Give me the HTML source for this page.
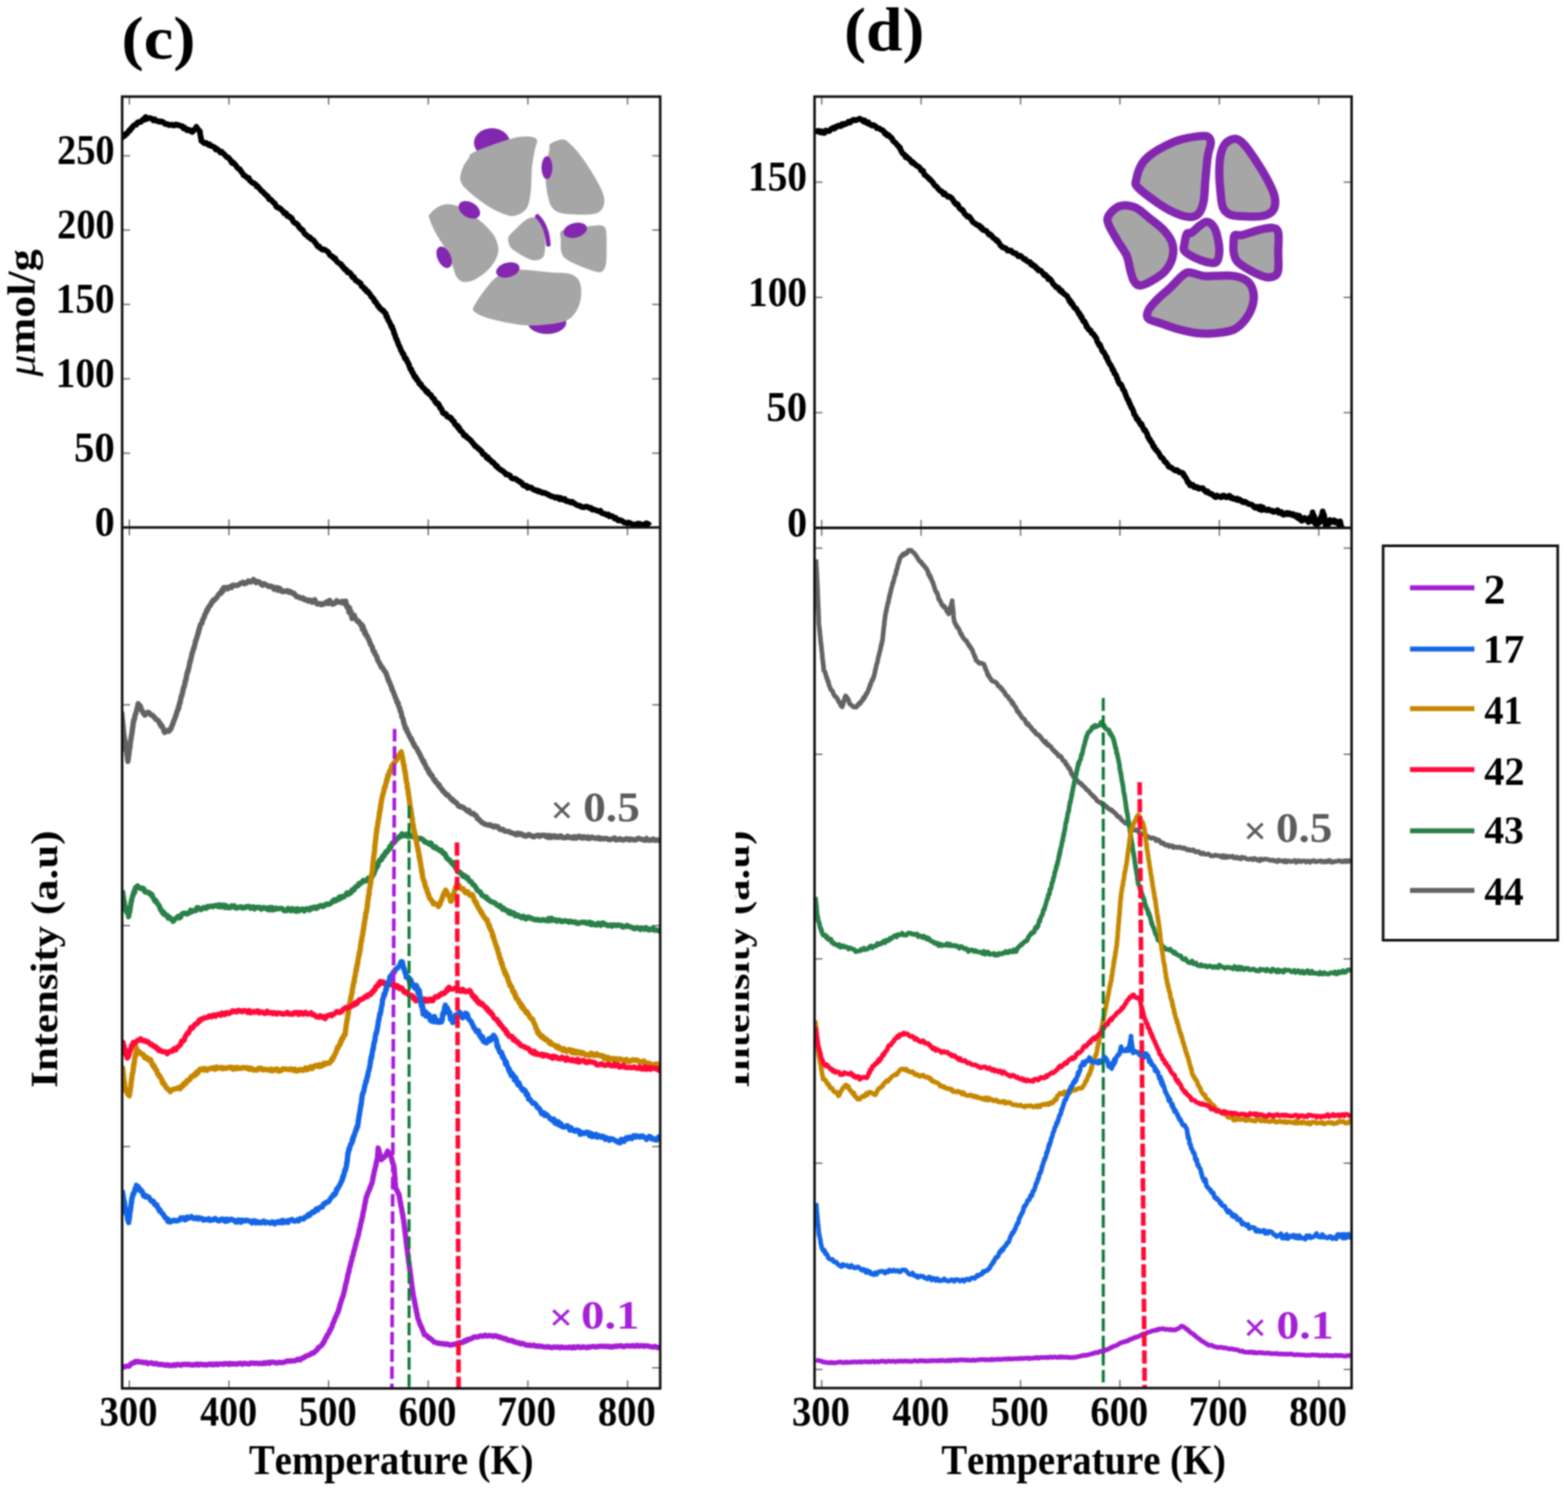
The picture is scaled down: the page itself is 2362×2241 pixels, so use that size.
<!DOCTYPE html><html><head><meta charset="utf-8"><title>TPD</title><style>html,body{margin:0;padding:0;background:#fff;}svg text{font-family:"Liberation Serif",serif;font-kerning:none;}</style></head><body><svg width="2362" height="2241" viewBox="0 0 2362 2241" style="display:block;filter:blur(0.9px)">
<defs>
<clipPath id="clipCtop"><rect x="184" y="145.5" width="810.5" height="648.8"/></clipPath>
<clipPath id="clipCbot"><rect x="184" y="794.3" width="810.5" height="1296.7"/></clipPath>
<clipPath id="clipDtop"><rect x="1227" y="145.5" width="809" height="649.5"/></clipPath>
<clipPath id="clipDbot"><rect x="1227" y="795" width="809" height="1295.5"/></clipPath>
<clipPath id="clipDlab"><rect x="1108" y="1200" width="52" height="500"/></clipPath>
</defs>
<rect width="2362" height="2241" fill="#fff"/>
<ellipse cx="741" cy="215" rx="27" ry="22" fill="#8327b0"/>
<ellipse cx="824" cy="486" rx="29" ry="17" fill="#8327b0"/>
<path d="M714.3,228.9 C724.3,224.2 752.8,213.8 765.9,209.9 C779.0,206.0 786.0,205.4 793.1,205.4 C800.2,205.4 806.4,206.6 808.5,209.9 C810.6,213.2 807.0,218.2 805.8,225.3 C804.6,232.4 802.3,241.9 801.3,252.5 C800.2,263.1 800.9,278.5 799.5,288.8 C798.1,299.1 797.2,308.1 793.1,314.1 C789.0,320.1 781.0,323.8 775.0,325.0 C769.0,326.2 764.4,324.4 756.9,321.4 C749.4,318.4 738.8,312.9 729.7,306.9 C720.6,300.8 708.5,291.2 702.5,285.1 C696.5,279.1 694.3,276.0 693.4,270.6 C692.5,265.2 695.0,257.9 697.1,252.5 C699.2,247.1 703.2,241.9 706.1,238.0 C709.0,234.1 704.3,233.6 714.3,228.9Z" fill="#a6a6a6"/>
<path d="M829.4,216.3 C832.7,213.7 842.7,209.9 847.5,209.9 C852.3,209.9 853.9,212.2 858.4,216.3 C862.9,220.4 869.0,226.8 874.7,234.4 C880.4,242.0 887.4,252.5 892.8,261.6 C898.2,270.7 904.4,281.2 907.3,288.8 C910.2,296.4 910.9,301.8 910.0,306.9 C909.1,312.0 906.3,316.9 901.9,319.6 C897.5,322.3 892.9,322.9 883.8,323.2 C874.7,323.5 856.0,322.9 847.5,321.4 C839.0,319.9 836.6,318.0 833.0,314.1 C829.4,310.2 827.6,305.1 825.8,297.8 C824.0,290.6 822.4,279.7 822.1,270.6 C821.8,261.5 823.0,251.0 823.9,243.4 C824.8,235.8 826.7,229.8 827.6,225.3 C828.5,220.8 826.1,218.9 829.4,216.3Z" fill="#a6a6a6"/>
<path d="M648.1,321.4 C651.3,317.8 659.3,310.5 666.3,308.7 C673.2,306.9 680.8,306.9 689.8,310.5 C698.8,314.1 711.8,323.4 720.6,330.4 C729.4,337.3 737.4,345.2 742.4,352.2 C747.4,359.1 749.6,366.1 750.5,372.1 C751.4,378.1 750.4,382.6 747.8,388.4 C745.2,394.1 740.5,401.2 735.1,406.6 C729.7,412.1 721.2,418.1 715.2,421.1 C709.2,424.1 703.4,425.3 698.9,424.7 C694.4,424.1 690.7,421.0 688.0,417.4 C685.3,413.8 685.0,409.3 682.6,403.0 C680.2,396.7 677.7,387.9 673.5,379.4 C669.3,370.9 661.6,360.4 657.2,352.2 C652.8,344.0 648.7,335.5 647.2,330.4 C645.7,325.3 644.9,325.0 648.1,321.4Z" fill="#a6a6a6"/>
<path d="M775.0,346.8 C779.5,342.3 787.7,333.6 793.1,330.4 C798.5,327.2 803.7,326.8 807.6,327.7 C811.5,328.6 814.6,331.8 816.7,335.9 C818.8,340.0 819.5,346.5 820.3,352.2 C821.0,357.9 821.5,364.6 821.2,370.3 C820.9,376.0 820.8,383.0 818.5,386.6 C816.2,390.2 811.8,391.8 807.6,392.1 C803.4,392.4 798.5,390.8 793.1,388.4 C787.7,386.0 779.2,380.6 775.0,377.6 C770.8,374.6 769.3,373.6 767.8,370.3 C766.3,367.0 764.7,361.5 765.9,357.6 C767.1,353.7 770.5,351.3 775.0,346.8Z" fill="#a6a6a6"/>
<path d="M847.5,346.8 C854.0,343.5 874.1,342.5 883.8,341.3 C893.5,340.1 900.7,338.6 905.5,339.5 C910.3,340.4 911.4,341.7 912.8,346.8 C914.2,351.9 913.7,361.9 913.7,370.3 C913.7,378.8 913.9,391.1 912.8,397.5 C911.7,403.9 909.7,406.4 907.3,408.4 C904.9,410.4 903.7,410.5 898.3,409.3 C892.9,408.1 882.2,404.3 874.7,401.1 C867.2,397.9 857.8,393.9 853.0,390.3 C848.2,386.7 847.1,384.2 845.7,379.4 C844.3,374.6 844.5,366.7 844.8,361.3 C845.1,355.9 841.0,350.1 847.5,346.8Z" fill="#a6a6a6"/>
<path d="M715.2,459.1 C717.9,454.0 724.3,444.3 729.7,437.4 C735.1,430.4 740.8,422.5 747.8,417.4 C754.8,412.3 763.8,408.4 771.4,406.6 C779.0,404.8 783.4,406.0 793.1,406.6 C802.8,407.2 818.8,409.3 829.4,410.2 C840.0,411.1 849.6,410.2 856.6,412.0 C863.6,413.8 867.9,416.6 871.1,421.1 C874.3,425.6 875.6,432.2 875.6,439.2 C875.6,446.1 874.3,455.9 871.1,462.8 C867.9,469.8 863.6,476.7 856.6,480.9 C849.6,485.1 840.0,486.6 829.4,488.1 C818.8,489.6 805.2,490.6 793.1,490.0 C781.0,489.4 767.5,486.6 756.9,484.5 C746.3,482.4 737.0,480.0 729.7,477.3 C722.5,474.6 715.8,471.2 713.4,468.2 C711.0,465.2 712.5,464.2 715.2,459.1Z" fill="#a6a6a6"/>
<ellipse cx="823.9" cy="252.5" rx="8.2" ry="17.2" fill="#8327b0"/>
<ellipse cx="707" cy="316" rx="17.5" ry="11.5" fill="#8327b0" transform="rotate(30 707 316)"/>
<ellipse cx="669" cy="387.5" rx="10" ry="17.2" fill="#8327b0" transform="rotate(-25 669 387.5)"/>
<path d="M809.5,326 Q824,340 826,368" fill="none" stroke="#8327b0" stroke-width="7" stroke-linecap="round"/>
<ellipse cx="866.5" cy="346.8" rx="18" ry="11" fill="#8327b0" transform="rotate(-15 866.5 346.8)"/>
<ellipse cx="765" cy="406.6" rx="18" ry="11" fill="#8327b0" transform="rotate(-15 765 406.6)"/>
<path d="M1711.6,270.6 C1712.5,265.2 1715.6,254.9 1718.9,248.9 C1722.2,242.9 1726.2,238.9 1731.6,234.4 C1737.0,229.9 1744.0,225.6 1751.5,221.7 C1759.0,217.8 1768.1,213.5 1776.9,210.8 C1785.7,208.1 1797.1,206.3 1804.1,205.4 C1811.0,204.5 1815.3,203.9 1818.6,205.4 C1821.9,206.9 1823.8,209.6 1824.0,214.4 C1824.2,219.2 1820.9,225.0 1819.5,234.4 C1818.1,243.8 1816.9,259.1 1815.8,270.6 C1814.7,282.1 1814.8,294.8 1813.1,303.3 C1811.4,311.8 1809.5,317.5 1805.9,321.4 C1802.3,325.3 1797.8,327.1 1791.4,326.8 C1785.1,326.5 1776.3,323.5 1767.8,319.6 C1759.3,315.7 1749.7,309.7 1740.6,303.3 C1731.5,296.9 1718.2,286.9 1713.4,281.5 C1708.6,276.1 1710.7,276.0 1711.6,270.6Z" fill="#a6a6a6" stroke="#8327b0" stroke-width="12.5" stroke-linejoin="round"/>
<path d="M1838.5,234.4 C1840.0,226.8 1842.2,220.5 1845.8,216.3 C1849.4,212.1 1855.8,209.0 1860.3,209.0 C1864.8,209.0 1868.2,211.5 1873.0,216.3 C1877.8,221.1 1883.3,228.9 1889.3,238.0 C1895.3,247.1 1904.1,260.9 1909.2,270.6 C1914.3,280.3 1918.6,288.4 1920.1,296.0 C1921.6,303.6 1921.0,311.1 1918.3,315.9 C1915.6,320.7 1910.8,323.3 1903.8,325.0 C1896.8,326.7 1885.1,326.2 1876.6,325.9 C1868.1,325.6 1858.8,325.5 1853.0,323.2 C1847.2,320.9 1844.5,318.0 1842.1,312.3 C1839.7,306.6 1839.4,297.2 1838.5,288.8 C1837.6,280.4 1836.7,270.7 1836.7,261.6 C1836.7,252.5 1837.0,242.0 1838.5,234.4Z" fill="#a6a6a6" stroke="#8327b0" stroke-width="12.5" stroke-linejoin="round"/>
<path d="M1669.9,325.0 C1672.6,320.5 1679.7,312.6 1686.3,310.5 C1692.9,308.4 1702.2,309.3 1709.8,312.3 C1717.3,315.3 1724.3,322.9 1731.6,328.6 C1738.8,334.4 1747.6,340.5 1753.3,346.8 C1759.0,353.1 1763.9,359.8 1766.0,366.7 C1768.1,373.6 1767.8,381.4 1766.0,388.4 C1764.2,395.3 1760.2,402.6 1755.1,408.4 C1750.0,414.1 1741.5,419.3 1735.2,422.9 C1728.9,426.5 1721.6,430.1 1717.1,430.1 C1712.6,430.1 1710.4,426.8 1708.0,422.9 C1705.6,419.0 1704.4,413.0 1702.6,406.6 C1700.8,400.2 1700.4,392.4 1697.1,384.8 C1693.8,377.2 1687.1,369.2 1682.6,361.3 C1678.1,353.4 1672.0,343.8 1669.9,337.7 C1667.8,331.6 1667.2,329.5 1669.9,325.0Z" fill="#a6a6a6" stroke="#8327b0" stroke-width="12.5" stroke-linejoin="round"/>
<path d="M1784.1,368.5 C1784.7,364.3 1786.0,355.2 1787.8,352.2 C1789.6,349.2 1791.7,352.5 1795.0,350.4 C1798.3,348.3 1803.8,342.2 1807.7,339.5 C1811.6,336.8 1815.0,333.5 1818.6,334.1 C1822.2,334.7 1826.7,338.6 1829.4,343.1 C1832.1,347.6 1833.7,355.2 1834.9,361.3 C1836.1,367.4 1837.0,374.0 1836.7,379.4 C1836.4,384.8 1835.5,391.2 1833.1,393.9 C1830.7,396.6 1827.7,396.6 1822.2,395.7 C1816.8,394.8 1806.8,391.4 1800.4,388.4 C1794.1,385.4 1786.8,380.9 1784.1,377.6 C1781.4,374.3 1783.5,372.7 1784.1,368.5Z" fill="#a6a6a6" stroke="#8327b0" stroke-width="12.5" stroke-linejoin="round"/>
<path d="M1858.4,361.3 C1858.7,357.1 1858.2,355.2 1860.3,354.0 C1862.4,352.8 1865.4,355.2 1871.1,354.0 C1876.8,352.8 1887.1,348.6 1894.7,346.8 C1902.3,345.0 1911.4,342.5 1916.5,343.1 C1921.6,343.7 1924.0,344.3 1925.5,350.4 C1927.0,356.4 1925.5,370.0 1925.5,379.4 C1925.5,388.8 1926.4,400.6 1925.5,406.6 C1924.6,412.6 1923.1,413.8 1920.1,415.6 C1917.1,417.4 1913.2,418.6 1907.4,417.4 C1901.7,416.2 1892.8,412.3 1885.6,408.4 C1878.3,404.5 1868.4,398.7 1863.9,393.9 C1859.4,389.1 1859.3,384.8 1858.4,379.4 C1857.5,374.0 1858.1,365.5 1858.4,361.3Z" fill="#a6a6a6" stroke="#8327b0" stroke-width="12.5" stroke-linejoin="round"/>
<path d="M1730.0,467.0 C1732.4,462.0 1738.9,455.5 1744.3,450.0 C1749.7,444.5 1756.4,439.5 1762.4,433.8 C1768.4,428.1 1775.7,419.5 1780.5,415.6 C1785.3,411.7 1786.0,410.2 1791.4,410.2 C1796.8,410.2 1806.4,414.7 1813.1,415.6 C1819.8,416.5 1823.8,415.6 1831.3,415.6 C1838.8,415.6 1850.6,414.4 1858.4,415.6 C1866.2,416.8 1873.6,419.3 1878.4,422.9 C1883.2,426.5 1885.9,431.5 1887.4,437.4 C1888.9,443.2 1889.2,450.8 1887.4,458.0 C1885.6,465.2 1881.4,474.1 1876.6,480.5 C1871.8,486.9 1866.0,492.9 1858.4,496.5 C1850.9,500.1 1840.3,500.9 1831.3,501.8 C1822.2,502.7 1813.2,502.7 1804.1,501.8 C1795.0,500.9 1786.0,498.7 1776.9,496.3 C1767.8,493.9 1757.5,490.0 1749.7,487.3 C1741.9,484.6 1733.3,483.4 1730.0,480.0 C1726.7,476.6 1727.6,472.0 1730.0,467.0Z" fill="#a6a6a6" stroke="#8327b0" stroke-width="12.5" stroke-linejoin="round"/>
<line x1="194.8" y1="145.5" x2="194.8" y2="157.5" stroke="#6a6a6a" stroke-width="2" />
<line x1="194.8" y1="782.3" x2="194.8" y2="806.3" stroke="#6a6a6a" stroke-width="2" />
<line x1="194.8" y1="2079.0" x2="194.8" y2="2091.0" stroke="#6a6a6a" stroke-width="2" />
<line x1="344.9" y1="145.5" x2="344.9" y2="157.5" stroke="#6a6a6a" stroke-width="2" />
<line x1="344.9" y1="782.3" x2="344.9" y2="806.3" stroke="#6a6a6a" stroke-width="2" />
<line x1="344.9" y1="2079.0" x2="344.9" y2="2091.0" stroke="#6a6a6a" stroke-width="2" />
<line x1="495.0" y1="145.5" x2="495.0" y2="157.5" stroke="#6a6a6a" stroke-width="2" />
<line x1="495.0" y1="782.3" x2="495.0" y2="806.3" stroke="#6a6a6a" stroke-width="2" />
<line x1="495.0" y1="2079.0" x2="495.0" y2="2091.0" stroke="#6a6a6a" stroke-width="2" />
<line x1="645.1" y1="145.5" x2="645.1" y2="157.5" stroke="#6a6a6a" stroke-width="2" />
<line x1="645.1" y1="782.3" x2="645.1" y2="806.3" stroke="#6a6a6a" stroke-width="2" />
<line x1="645.1" y1="2079.0" x2="645.1" y2="2091.0" stroke="#6a6a6a" stroke-width="2" />
<line x1="795.2" y1="145.5" x2="795.2" y2="157.5" stroke="#6a6a6a" stroke-width="2" />
<line x1="795.2" y1="782.3" x2="795.2" y2="806.3" stroke="#6a6a6a" stroke-width="2" />
<line x1="795.2" y1="2079.0" x2="795.2" y2="2091.0" stroke="#6a6a6a" stroke-width="2" />
<line x1="945.3" y1="145.5" x2="945.3" y2="157.5" stroke="#6a6a6a" stroke-width="2" />
<line x1="945.3" y1="782.3" x2="945.3" y2="806.3" stroke="#6a6a6a" stroke-width="2" />
<line x1="945.3" y1="2079.0" x2="945.3" y2="2091.0" stroke="#6a6a6a" stroke-width="2" />
<line x1="184.0" y1="234.6" x2="196.0" y2="234.6" stroke="#6a6a6a" stroke-width="2" />
<line x1="982.5" y1="234.6" x2="994.5" y2="234.6" stroke="#6a6a6a" stroke-width="2" />
<line x1="184.0" y1="346.5" x2="196.0" y2="346.5" stroke="#6a6a6a" stroke-width="2" />
<line x1="982.5" y1="346.5" x2="994.5" y2="346.5" stroke="#6a6a6a" stroke-width="2" />
<line x1="184.0" y1="458.5" x2="196.0" y2="458.5" stroke="#6a6a6a" stroke-width="2" />
<line x1="982.5" y1="458.5" x2="994.5" y2="458.5" stroke="#6a6a6a" stroke-width="2" />
<line x1="184.0" y1="570.5" x2="196.0" y2="570.5" stroke="#6a6a6a" stroke-width="2" />
<line x1="982.5" y1="570.5" x2="994.5" y2="570.5" stroke="#6a6a6a" stroke-width="2" />
<line x1="184.0" y1="682.5" x2="196.0" y2="682.5" stroke="#6a6a6a" stroke-width="2" />
<line x1="982.5" y1="682.5" x2="994.5" y2="682.5" stroke="#6a6a6a" stroke-width="2" />
<line x1="184.0" y1="1061.5" x2="196.0" y2="1061.5" stroke="#6a6a6a" stroke-width="2" />
<line x1="982.5" y1="1061.5" x2="994.5" y2="1061.5" stroke="#6a6a6a" stroke-width="2" />
<line x1="184.0" y1="1394.0" x2="196.0" y2="1394.0" stroke="#6a6a6a" stroke-width="2" />
<line x1="982.5" y1="1394.0" x2="994.5" y2="1394.0" stroke="#6a6a6a" stroke-width="2" />
<line x1="184.0" y1="1726.8" x2="196.0" y2="1726.8" stroke="#6a6a6a" stroke-width="2" />
<line x1="982.5" y1="1726.8" x2="994.5" y2="1726.8" stroke="#6a6a6a" stroke-width="2" />
<line x1="184.0" y1="2060.0" x2="196.0" y2="2060.0" stroke="#6a6a6a" stroke-width="2" />
<line x1="982.5" y1="2060.0" x2="994.5" y2="2060.0" stroke="#6a6a6a" stroke-width="2" />
<line x1="1237.8" y1="145.5" x2="1237.8" y2="157.5" stroke="#6a6a6a" stroke-width="2" />
<line x1="1237.8" y1="783.0" x2="1237.8" y2="807.0" stroke="#6a6a6a" stroke-width="2" />
<line x1="1237.8" y1="2078.5" x2="1237.8" y2="2090.5" stroke="#6a6a6a" stroke-width="2" />
<line x1="1387.5" y1="145.5" x2="1387.5" y2="157.5" stroke="#6a6a6a" stroke-width="2" />
<line x1="1387.5" y1="783.0" x2="1387.5" y2="807.0" stroke="#6a6a6a" stroke-width="2" />
<line x1="1387.5" y1="2078.5" x2="1387.5" y2="2090.5" stroke="#6a6a6a" stroke-width="2" />
<line x1="1537.3" y1="145.5" x2="1537.3" y2="157.5" stroke="#6a6a6a" stroke-width="2" />
<line x1="1537.3" y1="783.0" x2="1537.3" y2="807.0" stroke="#6a6a6a" stroke-width="2" />
<line x1="1537.3" y1="2078.5" x2="1537.3" y2="2090.5" stroke="#6a6a6a" stroke-width="2" />
<line x1="1687.0" y1="145.5" x2="1687.0" y2="157.5" stroke="#6a6a6a" stroke-width="2" />
<line x1="1687.0" y1="783.0" x2="1687.0" y2="807.0" stroke="#6a6a6a" stroke-width="2" />
<line x1="1687.0" y1="2078.5" x2="1687.0" y2="2090.5" stroke="#6a6a6a" stroke-width="2" />
<line x1="1836.8" y1="145.5" x2="1836.8" y2="157.5" stroke="#6a6a6a" stroke-width="2" />
<line x1="1836.8" y1="783.0" x2="1836.8" y2="807.0" stroke="#6a6a6a" stroke-width="2" />
<line x1="1836.8" y1="2078.5" x2="1836.8" y2="2090.5" stroke="#6a6a6a" stroke-width="2" />
<line x1="1986.5" y1="145.5" x2="1986.5" y2="157.5" stroke="#6a6a6a" stroke-width="2" />
<line x1="1986.5" y1="783.0" x2="1986.5" y2="807.0" stroke="#6a6a6a" stroke-width="2" />
<line x1="1986.5" y1="2078.5" x2="1986.5" y2="2090.5" stroke="#6a6a6a" stroke-width="2" />
<line x1="1227.0" y1="274.3" x2="1239.0" y2="274.3" stroke="#6a6a6a" stroke-width="2" />
<line x1="2024.0" y1="274.3" x2="2036.0" y2="274.3" stroke="#6a6a6a" stroke-width="2" />
<line x1="1227.0" y1="447.9" x2="1239.0" y2="447.9" stroke="#6a6a6a" stroke-width="2" />
<line x1="2024.0" y1="447.9" x2="2036.0" y2="447.9" stroke="#6a6a6a" stroke-width="2" />
<line x1="1227.0" y1="621.5" x2="1239.0" y2="621.5" stroke="#6a6a6a" stroke-width="2" />
<line x1="2024.0" y1="621.5" x2="2036.0" y2="621.5" stroke="#6a6a6a" stroke-width="2" />
<line x1="1227.0" y1="825.5" x2="1239.0" y2="825.5" stroke="#6a6a6a" stroke-width="2" />
<line x1="2024.0" y1="825.5" x2="2036.0" y2="825.5" stroke="#6a6a6a" stroke-width="2" />
<line x1="1227.0" y1="1136.0" x2="1239.0" y2="1136.0" stroke="#6a6a6a" stroke-width="2" />
<line x1="2024.0" y1="1136.0" x2="2036.0" y2="1136.0" stroke="#6a6a6a" stroke-width="2" />
<line x1="1227.0" y1="1444.2" x2="1239.0" y2="1444.2" stroke="#6a6a6a" stroke-width="2" />
<line x1="2024.0" y1="1444.2" x2="2036.0" y2="1444.2" stroke="#6a6a6a" stroke-width="2" />
<line x1="1227.0" y1="1751.8" x2="1239.0" y2="1751.8" stroke="#6a6a6a" stroke-width="2" />
<line x1="2024.0" y1="1751.8" x2="2036.0" y2="1751.8" stroke="#6a6a6a" stroke-width="2" />
<line x1="1227.0" y1="2062.5" x2="1239.0" y2="2062.5" stroke="#6a6a6a" stroke-width="2" />
<line x1="2024.0" y1="2062.5" x2="2036.0" y2="2062.5" stroke="#6a6a6a" stroke-width="2" />
<path d="M183.2,208.4 L184.8,206.4 L186.4,204.4 L187.9,204.6 L189.5,201.4 L191.1,201.4 L192.7,199.5 L194.2,196.8 L195.8,196.6 L197.3,193.4 L198.8,193.0 L200.3,190.2 L201.9,188.6 L203.4,188.0 L205.2,188.1 L206.9,184.6 L208.7,183.8 L210.5,183.9 L212.2,183.7 L214.0,181.4 L215.8,179.6 L217.5,180.3 L219.3,176.1 L221.3,179.2 L223.2,177.8 L225.2,177.8 L227.2,178.2 L229.2,179.3 L231.1,181.4 L233.1,179.8 L235.0,181.7 L237.0,182.6 L238.9,182.4 L240.8,183.6 L242.8,182.8 L244.7,183.4 L246.7,184.6 L248.6,186.8 L250.5,186.6 L252.5,186.9 L254.4,188.5 L256.5,188.1 L258.6,187.6 L260.8,189.1 L262.9,188.8 L265.0,187.4 L267.1,188.4 L269.3,188.3 L271.4,189.4 L273.1,190.2 L274.8,190.1 L276.5,193.6 L278.2,192.1 L279.9,194.3 L281.8,196.2 L283.7,195.0 L285.6,196.8 L287.5,196.2 L289.4,198.9 L291.0,197.5 L292.6,195.1 L294.2,194.4 L295.8,190.8 L297.1,193.6 L298.5,194.9 L299.8,196.5 L301.1,197.7 L301.5,201.2 L301.8,203.8 L302.1,204.6 L302.5,207.5 L302.9,207.9 L303.2,212.2 L305.0,213.1 L306.9,215.3 L308.7,215.8 L310.5,215.1 L312.3,216.5 L314.2,218.5 L316.0,217.5 L317.8,219.9 L319.6,220.1 L321.4,221.0 L323.2,221.9 L325.0,225.2 L326.8,224.2 L328.5,225.7 L330.3,227.2 L332.1,229.8 L333.9,228.4 L335.7,230.6 L337.5,232.0 L339.3,234.1 L340.8,235.5 L342.3,237.2 L343.8,237.0 L345.3,239.0 L346.8,240.4 L348.2,243.7 L349.7,245.5 L351.2,244.5 L352.7,246.2 L354.2,247.9 L355.6,249.5 L357.0,251.8 L358.5,253.7 L359.9,254.2 L361.3,254.9 L362.7,257.7 L364.2,259.1 L365.6,261.3 L367.0,264.0 L368.5,264.6 L370.1,265.4 L371.6,267.0 L373.2,268.6 L374.7,267.9 L376.3,272.0 L377.8,273.0 L379.4,274.6 L380.9,275.7 L382.5,275.8 L384.0,277.2 L385.4,277.8 L386.8,281.0 L388.2,280.7 L389.6,282.2 L391.1,284.2 L392.5,285.6 L393.9,287.7 L395.3,288.3 L396.7,289.7 L398.4,291.7 L400.1,293.0 L401.8,295.3 L403.5,295.7 L405.2,299.9 L406.7,300.6 L408.2,300.6 L409.7,302.4 L411.2,304.2 L412.6,305.7 L414.1,306.4 L415.6,310.2 L417.1,312.2 L418.6,312.0 L420.1,313.5 L421.7,313.6 L423.3,315.0 L424.9,317.1 L426.5,318.1 L428.1,321.3 L429.6,320.5 L431.2,321.3 L432.8,325.6 L434.4,325.6 L436.0,325.7 L437.6,328.3 L439.2,328.0 L440.6,331.1 L442.0,334.0 L443.4,335.2 L444.9,336.2 L446.3,336.3 L447.7,338.1 L449.1,339.0 L450.5,342.4 L451.9,343.2 L453.4,345.5 L454.8,345.5 L456.2,346.7 L457.7,350.1 L459.2,352.2 L460.7,353.3 L462.3,354.6 L463.8,356.2 L465.3,357.5 L466.8,357.3 L468.3,359.8 L469.8,360.8 L471.3,361.2 L472.9,362.7 L474.4,365.1 L475.9,366.5 L477.4,369.4 L479.1,371.4 L480.8,371.0 L482.5,373.7 L484.2,375.0 L485.9,376.1 L487.6,375.4 L489.3,376.1 L491.0,377.3 L492.7,378.4 L494.4,379.6 L495.9,382.3 L497.4,384.5 L498.9,385.7 L500.4,386.0 L501.9,387.9 L503.3,389.7 L504.8,388.8 L506.3,392.1 L507.8,394.2 L509.3,395.2 L510.7,396.5 L512.1,397.1 L513.5,397.5 L515.0,400.9 L516.4,400.9 L517.8,403.8 L519.2,405.7 L520.6,405.3 L522.0,406.8 L523.4,409.9 L524.8,410.6 L526.3,410.3 L527.7,411.6 L529.1,413.1 L530.5,416.9 L531.9,418.0 L533.3,417.3 L534.8,420.9 L536.2,422.8 L537.6,423.2 L539.0,423.6 L540.4,425.6 L541.9,425.7 L543.3,426.8 L544.7,431.2 L546.1,431.6 L547.5,432.6 L549.0,435.4 L550.4,435.2 L551.8,438.0 L553.0,439.5 L554.3,439.1 L555.5,440.9 L556.8,442.6 L558.0,444.1 L559.3,446.8 L560.5,447.4 L561.8,449.5 L563.0,450.2 L564.3,454.3 L565.5,454.2 L566.8,456.1 L568.0,458.2 L569.3,460.8 L570.5,460.9 L571.8,464.1 L573.0,464.4 L574.4,466.0 L575.8,467.5 L577.2,467.4 L578.6,470.2 L580.0,470.9 L581.0,472.2 L581.9,476.7 L582.9,476.6 L583.9,479.5 L584.8,482.3 L585.8,483.6 L586.7,484.8 L587.7,487.4 L588.7,489.4 L589.6,492.1 L590.6,491.8 L591.4,495.3 L592.1,496.2 L592.9,498.3 L593.6,501.9 L594.4,503.0 L595.1,505.1 L595.9,507.7 L596.7,510.2 L597.4,510.7 L598.2,513.2 L598.9,514.8 L599.7,516.8 L600.4,519.3 L601.2,520.5 L602.1,522.6 L603.0,524.3 L603.9,527.6 L604.9,528.6 L605.8,531.0 L606.7,533.0 L607.6,532.7 L608.5,535.5 L609.4,538.5 L610.3,540.0 L611.3,539.6 L612.2,541.3 L613.1,544.2 L614.0,544.8 L614.9,547.3 L615.9,548.6 L616.8,552.4 L617.8,554.7 L618.7,556.9 L619.7,556.4 L620.6,560.1 L621.6,561.8 L622.5,562.1 L623.7,566.2 L625.0,568.2 L626.2,567.6 L627.5,571.7 L628.7,571.7 L630.0,573.8 L631.2,577.2 L632.4,578.5 L633.7,578.1 L634.9,580.7 L636.2,582.8 L637.4,584.0 L639.0,585.1 L640.6,587.1 L642.2,590.0 L643.8,589.3 L645.3,592.6 L646.9,593.8 L648.5,594.1 L650.1,596.7 L651.4,599.2 L652.8,600.4 L654.1,600.6 L655.4,605.2 L656.7,606.1 L658.1,608.3 L659.4,607.1 L660.7,609.2 L661.8,610.3 L662.8,614.4 L663.9,614.6 L665.0,615.9 L666.0,618.6 L667.1,621.9 L668.7,622.9 L670.3,622.5 L671.9,623.5 L673.5,627.2 L675.1,627.5 L676.7,629.2 L678.3,628.6 L679.9,629.8 L681.2,633.4 L682.5,634.2 L683.9,634.6 L685.2,639.0 L686.5,639.6 L687.9,641.8 L689.2,641.1 L690.5,645.1 L691.9,644.4 L693.3,648.7 L694.8,649.2 L696.2,650.6 L697.6,653.0 L699.0,656.0 L700.5,655.3 L702.0,656.4 L703.4,659.1 L704.9,659.7 L706.4,660.8 L707.9,662.4 L709.4,663.5 L710.8,665.5 L712.3,667.3 L713.8,668.8 L715.3,671.7 L716.8,671.7 L718.3,673.9 L719.8,674.3 L721.2,676.4 L722.7,676.8 L724.2,679.0 L725.7,679.8 L727.2,683.6 L728.7,684.5 L730.2,684.7 L731.8,686.9 L733.3,689.8 L734.9,688.5 L736.4,692.1 L738.0,692.2 L739.5,693.8 L741.1,696.2 L742.6,696.1 L744.2,697.9 L745.7,699.8 L747.1,702.2 L748.5,701.5 L750.0,704.5 L751.4,705.5 L752.8,706.7 L754.2,707.4 L755.7,708.6 L757.1,709.1 L758.5,710.7 L760.4,711.6 L762.3,714.8 L764.2,714.3 L766.1,715.1 L768.0,715.9 L770.0,719.4 L771.9,720.6 L773.8,721.0 L775.7,720.8 L777.6,721.8 L779.3,723.0 L781.0,724.6 L782.7,724.7 L784.4,726.7 L786.1,727.1 L787.8,730.4 L789.5,731.5 L791.2,731.2 L792.9,731.3 L794.6,734.7 L796.5,733.4 L798.4,734.4 L800.3,734.2 L802.2,736.2 L804.2,737.4 L806.1,738.3 L808.0,738.2 L809.9,740.0 L811.8,739.3 L813.7,740.9 L815.6,741.0 L817.6,742.5 L819.5,742.0 L821.4,742.5 L823.3,743.9 L825.3,744.3 L827.2,746.0 L829.1,746.4 L831.0,747.7 L833.0,747.9 L834.9,748.7 L836.8,749.8 L838.8,748.8 L840.7,749.2 L842.6,751.9 L844.6,749.8 L846.5,752.2 L848.5,752.5 L850.4,751.2 L852.3,754.3 L854.3,755.1 L856.2,754.8 L858.1,755.9 L860.1,756.9 L862.0,755.6 L863.9,757.6 L865.8,758.3 L867.8,760.1 L869.7,760.8 L871.6,761.6 L873.5,761.6 L875.5,763.4 L877.4,763.5 L879.5,764.0 L881.7,763.1 L883.8,763.0 L885.9,763.8 L888.0,765.1 L890.2,764.8 L892.3,767.7 L894.4,767.3 L896.6,768.1 L898.7,768.6 L900.6,769.7 L902.6,769.9 L904.5,769.2 L906.4,772.6 L908.3,773.4 L910.3,773.4 L912.2,774.4 L914.1,775.7 L916.0,774.7 L918.0,777.7 L919.9,777.0 L921.8,777.2 L923.8,778.6 L925.7,780.9 L927.6,779.9 L929.6,782.4 L931.5,784.0 L933.5,783.2 L935.4,783.6 L937.3,784.7 L939.3,786.1 L941.2,787.2 L943.3,787.4 L945.4,788.2 L947.5,787.0 L949.7,788.0 L951.8,789.0 L953.9,791.3 L956.1,789.8 L958.3,790.5 L960.6,788.6 L962.8,788.7 L965.0,789.3 L967.0,790.2 L969.1,790.0 L971.1,789.6 L973.2,788.1 L975.2,788.5 L977.3,789.9 L979.4,791.6" fill="none" stroke="#000" stroke-width="8.5" stroke-linejoin="round" stroke-linecap="butt" clip-path="url(#clipCtop)" />
<path d="M1228.2,197.8 L1230.5,197.9 L1232.8,196.9 L1235.1,199.6 L1237.4,197.6 L1239.7,200.2 L1242.0,200.3 L1243.9,196.6 L1245.7,197.2 L1247.6,197.5 L1249.5,197.2 L1251.3,194.7 L1253.2,193.4 L1255.0,192.4 L1256.9,193.9 L1258.8,190.8 L1260.8,191.2 L1262.7,189.0 L1264.6,189.5 L1266.5,190.1 L1268.5,186.7 L1270.4,188.1 L1272.3,186.3 L1274.2,186.8 L1276.2,185.4 L1278.1,183.1 L1280.2,184.7 L1282.3,182.9 L1284.5,180.9 L1286.6,180.3 L1288.7,181.3 L1290.8,180.6 L1293.0,179.6 L1295.1,178.6 L1297.0,180.0 L1298.8,180.7 L1300.7,183.2 L1302.5,181.3 L1304.4,184.5 L1306.3,185.6 L1308.1,184.1 L1310.0,187.5 L1311.8,187.7 L1313.6,189.2 L1315.4,188.2 L1317.3,189.3 L1319.1,190.3 L1320.9,193.2 L1322.7,192.8 L1324.4,193.3 L1326.1,194.8 L1327.8,195.6 L1329.5,196.1 L1331.2,197.6 L1332.9,201.2 L1334.6,200.7 L1336.3,204.1 L1338.0,203.1 L1339.7,204.5 L1341.1,206.7 L1342.5,207.1 L1344.0,209.1 L1345.4,212.3 L1346.8,213.5 L1348.2,214.7 L1349.7,215.6 L1351.1,217.9 L1352.5,219.4 L1353.6,220.0 L1354.6,222.4 L1355.7,222.1 L1356.8,226.2 L1357.8,227.2 L1358.9,230.0 L1359.9,231.5 L1361.0,232.2 L1362.6,232.8 L1364.2,236.9 L1365.8,235.7 L1367.3,238.1 L1368.9,239.0 L1370.5,240.2 L1372.1,242.9 L1373.7,245.0 L1375.2,244.1 L1376.8,246.7 L1378.3,246.9 L1379.9,249.1 L1381.4,249.9 L1383.0,250.5 L1384.5,251.8 L1386.1,253.3 L1387.6,256.9 L1389.2,256.9 L1390.7,257.4 L1391.8,261.5 L1392.8,263.6 L1393.9,263.8 L1395.0,264.6 L1396.6,266.3 L1398.2,267.4 L1399.8,269.7 L1401.3,270.3 L1402.9,272.3 L1404.5,273.8 L1406.1,276.3 L1407.7,278.7 L1409.1,280.1 L1410.5,280.8 L1412.0,282.5 L1413.4,284.6 L1414.8,285.9 L1416.2,287.6 L1417.9,287.8 L1419.6,289.5 L1421.3,292.8 L1423.0,291.1 L1424.7,293.4 L1426.4,294.9 L1428.1,296.7 L1429.8,295.7 L1431.5,296.9 L1433.2,297.9 L1434.6,300.0 L1436.0,301.7 L1437.5,304.9 L1438.9,306.2 L1440.3,307.9 L1441.7,306.7 L1443.1,308.3 L1444.5,312.1 L1446.0,314.3 L1447.4,314.5 L1448.8,316.5 L1450.2,316.2 L1451.6,318.9 L1453.0,322.0 L1454.5,323.1 L1455.9,324.6 L1457.3,326.4 L1458.7,325.5 L1460.1,326.5 L1461.5,328.0 L1463.0,330.6 L1464.4,332.5 L1465.8,334.8 L1467.2,335.5 L1468.9,336.6 L1470.6,338.2 L1472.3,338.5 L1474.0,340.1 L1475.7,339.7 L1477.4,343.4 L1479.1,342.9 L1480.8,346.4 L1482.5,346.8 L1484.2,347.0 L1485.7,347.8 L1487.3,349.5 L1488.8,352.1 L1490.4,353.6 L1491.9,353.1 L1493.5,354.3 L1495.0,357.1 L1496.6,358.6 L1498.1,359.4 L1499.7,360.2 L1501.2,362.7 L1502.7,362.4 L1504.2,364.8 L1505.7,366.9 L1507.3,370.0 L1508.8,370.5 L1510.3,372.8 L1511.8,373.0 L1513.7,373.2 L1515.6,374.2 L1517.5,377.4 L1519.4,377.5 L1521.2,377.2 L1523.1,377.2 L1525.0,379.7 L1526.9,381.2 L1528.8,381.3 L1530.6,381.9 L1532.3,384.3 L1534.1,386.1 L1535.9,385.0 L1537.6,385.4 L1539.4,387.4 L1541.2,388.8 L1542.9,390.7 L1544.7,390.2 L1546.5,393.1 L1548.2,394.0 L1550.0,394.3 L1551.6,394.6 L1553.1,398.4 L1554.7,397.5 L1556.2,400.4 L1557.8,399.8 L1559.4,401.0 L1560.9,404.0 L1562.5,403.8 L1564.0,407.2 L1565.6,407.0 L1567.2,407.3 L1568.7,408.7 L1570.3,410.6 L1571.8,412.7 L1573.4,414.8 L1574.8,413.7 L1576.2,415.9 L1577.7,416.7 L1579.1,420.6 L1580.5,419.3 L1581.9,420.5 L1583.3,421.9 L1584.7,424.4 L1586.2,427.4 L1587.6,428.8 L1589.0,429.7 L1590.4,432.0 L1591.8,433.2 L1593.2,432.7 L1594.7,433.6 L1596.1,437.5 L1597.5,438.3 L1598.9,437.4 L1600.3,440.8 L1601.7,441.3 L1603.2,442.7 L1604.6,444.0 L1606.0,444.9 L1607.4,445.8 L1608.7,448.4 L1609.9,450.3 L1611.2,454.0 L1612.4,453.0 L1613.7,457.4 L1614.9,456.7 L1616.2,458.8 L1617.5,462.0 L1618.7,463.7 L1620.0,464.2 L1621.2,464.7 L1622.5,467.7 L1623.7,469.1 L1625.0,472.5 L1626.1,472.0 L1627.1,474.3 L1628.2,477.8 L1629.2,476.8 L1630.3,479.8 L1631.3,482.8 L1632.4,484.5 L1633.5,483.9 L1634.5,485.7 L1635.6,487.6 L1636.6,492.1 L1637.7,491.7 L1639.0,494.9 L1640.4,497.0 L1641.7,496.7 L1643.1,498.1 L1644.4,501.9 L1645.7,502.4 L1647.1,502.9 L1648.4,505.9 L1649.5,506.5 L1650.5,508.3 L1651.6,509.4 L1652.6,513.7 L1653.7,516.1 L1654.8,517.1 L1655.8,520.1 L1656.9,519.0 L1657.9,521.6 L1659.0,524.3 L1660.1,527.7 L1661.1,529.6 L1662.2,529.6 L1663.2,531.0 L1664.3,533.4 L1665.4,535.5 L1666.4,538.7 L1667.5,538.2 L1668.4,542.1 L1669.4,543.7 L1670.3,545.9 L1671.3,547.6 L1672.2,549.0 L1673.2,550.0 L1674.1,551.8 L1675.1,553.9 L1676.0,557.1 L1676.9,556.7 L1677.9,559.0 L1678.8,562.7 L1679.8,562.9 L1680.7,564.3 L1681.7,566.0 L1682.6,569.6 L1683.6,570.8 L1684.5,574.7 L1685.6,576.3 L1686.6,578.5 L1687.7,578.0 L1688.8,579.3 L1689.8,581.2 L1690.9,584.4 L1691.9,586.9 L1693.0,587.9 L1693.8,589.2 L1694.7,591.7 L1695.5,594.2 L1696.4,596.3 L1697.2,598.4 L1698.1,600.7 L1699.0,602.0 L1699.8,602.2 L1700.7,606.4 L1701.5,606.5 L1702.3,609.3 L1703.2,610.6 L1704.0,613.7 L1704.9,613.9 L1705.8,615.9 L1706.6,617.8 L1707.5,619.5 L1708.3,623.7 L1709.2,624.6 L1710.0,625.7 L1711.2,627.6 L1712.4,631.2 L1713.5,631.3 L1714.7,632.1 L1715.9,635.6 L1717.1,636.7 L1718.2,639.5 L1719.4,638.3 L1720.6,641.1 L1721.7,644.1 L1722.7,646.1 L1723.8,648.3 L1724.8,647.4 L1725.9,650.1 L1727.0,651.4 L1728.0,653.6 L1729.1,658.0 L1730.1,658.7 L1731.2,661.7 L1732.3,661.8 L1733.3,665.2 L1734.4,665.7 L1735.5,667.0 L1736.5,670.5 L1737.6,672.9 L1738.6,672.1 L1739.7,675.5 L1740.9,677.2 L1742.1,677.6 L1743.2,679.7 L1744.4,680.7 L1745.6,682.5 L1746.8,684.3 L1747.9,687.1 L1749.1,688.9 L1750.3,689.2 L1751.7,690.2 L1753.1,692.9 L1754.6,695.6 L1756.0,695.7 L1757.4,697.8 L1758.8,699.1 L1760.3,702.6 L1761.7,703.5 L1763.1,703.6 L1765.0,704.6 L1766.9,706.3 L1768.8,707.7 L1770.7,708.8 L1772.7,707.9 L1774.6,709.0 L1776.5,711.5 L1778.4,711.4 L1780.3,711.9 L1782.2,712.8 L1783.3,716.6 L1784.3,716.2 L1785.4,718.7 L1786.4,719.7 L1787.5,721.6 L1788.6,724.8 L1789.6,726.9 L1790.7,726.6 L1791.7,727.7 L1792.8,731.1 L1794.7,730.1 L1796.6,730.1 L1798.6,733.6 L1800.5,732.7 L1802.4,734.6 L1804.3,733.9 L1806.2,736.1 L1808.2,735.4 L1810.1,735.1 L1812.0,735.2 L1813.7,738.0 L1815.4,739.4 L1817.1,741.3 L1818.8,739.7 L1820.5,742.5 L1822.2,742.7 L1823.9,744.2 L1825.6,744.1 L1827.3,745.6 L1829.0,747.5 L1831.1,748.8 L1833.2,746.1 L1835.4,747.4 L1837.5,748.4 L1839.6,748.9 L1841.7,746.4 L1843.8,746.2 L1846.0,748.8 L1848.1,748.9 L1850.2,747.3 L1852.1,746.6 L1854.0,750.0 L1855.9,749.0 L1857.8,751.3 L1859.8,751.0 L1861.7,752.3 L1863.6,750.8 L1865.5,753.4 L1867.4,752.3 L1869.3,753.5 L1871.2,755.8 L1873.2,756.6 L1875.2,755.4 L1877.1,756.4 L1879.0,757.9 L1881.0,759.2 L1883.0,759.6 L1884.9,759.7 L1886.8,760.9 L1888.8,763.4 L1890.8,764.8 L1892.7,762.9 L1894.7,765.0 L1896.7,766.9 L1898.6,762.7 L1900.6,768.3 L1902.6,764.1 L1904.6,767.6 L1906.6,767.7 L1908.5,768.6 L1910.5,767.0 L1912.5,768.2 L1914.5,769.6 L1916.5,769.0 L1918.4,771.0 L1920.4,770.0 L1922.4,770.4 L1924.4,768.2 L1926.3,772.5 L1928.3,772.1 L1930.3,770.9 L1932.3,774.8 L1934.2,775.3 L1936.2,773.7 L1938.2,772.4 L1940.1,774.7 L1942.1,772.9 L1944.1,773.5 L1946.1,775.8 L1948.0,774.1 L1950.0,776.8 L1951.9,778.1 L1953.7,775.8 L1955.6,780.7 L1957.5,776.8 L1959.3,783.1 L1961.2,784.3 L1963.0,782.8 L1964.9,779.8 L1966.9,783.2 L1968.9,781.9 L1971.0,786.4 L1973.0,779.2 L1975.0,785.0 L1975.5,784.2 L1976.1,779.9 L1976.6,778.6 L1977.2,771.4 L1977.7,776.0 L1978.2,774.1 L1978.8,780.1 L1979.3,781.9 L1979.8,777.7 L1980.3,785.0 L1980.9,788.4 L1981.4,783.2 L1981.9,787.7 L1983.5,789.8 L1985.1,783.3 L1986.8,788.1 L1988.4,781.5 L1990.0,784.7 L1990.5,777.0 L1991.0,778.0 L1991.5,779.5 L1992.0,771.5 L1992.5,770.0 L1993.0,774.1 L1993.6,774.5 L1994.1,774.1 L1994.7,777.3 L1995.2,779.2 L1995.7,787.7 L1996.3,787.5 L1996.8,791.3 L1998.9,784.6 L2001.1,789.3 L2003.2,783.1 L2005.3,786.0 L2007.4,786.3 L2009.6,783.4 L2011.7,787.1 L2013.5,785.5 L2015.2,786.8 L2017.0,790.5 L2018.8,785.0 L2020.5,793.6 L2022.3,790.5" fill="none" stroke="#000" stroke-width="8.5" stroke-linejoin="round" stroke-linecap="butt" clip-path="url(#clipDtop)" />
<path d="M183.2,1071.9 L183.4,1074.3 L183.6,1075.6 L183.8,1078.9 L184.0,1079.2 L184.2,1083.5 L184.4,1084.2 L184.6,1085.5 L184.8,1088.8 L185.0,1089.8 L185.2,1090.9 L185.4,1094.7 L185.6,1094.5 L185.8,1099.0 L186.0,1099.2 L186.2,1102.4 L186.4,1105.5 L186.6,1106.3 L186.8,1108.5 L187.0,1109.4 L187.3,1110.4 L187.6,1112.5 L187.9,1114.9 L188.3,1118.4 L188.6,1119.9 L188.9,1122.1 L189.2,1125.4 L189.5,1125.0 L189.8,1127.3 L190.2,1130.7 L190.5,1130.7 L190.8,1132.6 L191.1,1135.8 L191.4,1137.0 L191.8,1139.8 L192.1,1141.4 L192.4,1144.6 L192.7,1146.6 L193.0,1143.3 L193.3,1142.5 L193.6,1140.0 L193.8,1136.8 L194.1,1137.3 L194.4,1133.0 L194.7,1130.6 L195.0,1128.3 L195.3,1128.0 L195.6,1126.6 L195.9,1124.2 L196.1,1120.9 L196.4,1118.4 L196.7,1115.5 L197.0,1115.5 L197.3,1113.2 L197.6,1110.5 L197.9,1109.4 L198.2,1106.8 L198.5,1106.3 L198.8,1103.7 L199.1,1100.1 L199.4,1100.2 L199.7,1095.4 L200.0,1095.0 L200.3,1092.5 L200.6,1090.0 L200.9,1087.4 L201.2,1087.7 L201.7,1083.3 L202.3,1083.0 L202.8,1082.3 L203.3,1077.8 L203.9,1076.0 L204.4,1075.3 L204.9,1073.0 L205.5,1071.5 L206.0,1070.1 L206.6,1066.0 L207.1,1064.5 L207.6,1062.5 L208.2,1059.7 L208.7,1060.4 L209.6,1062.0 L210.6,1063.7 L211.5,1063.4 L212.5,1067.9 L213.4,1069.5 L214.4,1070.5 L215.3,1073.3 L216.3,1074.3 L217.2,1075.5 L218.2,1077.0 L219.5,1075.9 L220.9,1073.7 L222.2,1073.0 L223.6,1072.8 L225.2,1074.1 L226.8,1076.1 L228.4,1077.1 L230.0,1077.2 L231.6,1079.6 L233.1,1080.7 L234.7,1083.3 L236.3,1083.9 L237.9,1084.6 L239.5,1087.3 L240.6,1090.2 L241.6,1089.6 L242.7,1093.6 L243.8,1092.7 L244.8,1095.3 L245.9,1097.1 L246.9,1100.6 L248.0,1103.1 L250.1,1101.9 L252.2,1100.0 L254.4,1101.3 L256.5,1099.0 L257.2,1096.8 L257.9,1097.0 L258.6,1094.3 L259.3,1092.6 L260.0,1090.6 L260.7,1089.7 L261.4,1086.2 L262.1,1085.5 L262.9,1083.2 L263.6,1081.8 L264.3,1078.6 L265.0,1077.6 L265.7,1075.2 L266.4,1072.5 L267.1,1070.3 L267.8,1069.8 L268.5,1066.1 L269.2,1066.9 L269.7,1062.4 L270.2,1060.0 L270.7,1058.3 L271.2,1058.9 L271.7,1055.0 L272.3,1052.3 L272.8,1049.9 L273.3,1047.9 L273.8,1048.0 L274.3,1045.8 L274.8,1044.0 L275.3,1042.1 L275.8,1037.9 L276.3,1037.6 L276.8,1034.8 L277.4,1034.2 L277.9,1032.2 L278.4,1030.4 L278.9,1025.8 L279.4,1026.3 L279.9,1024.4 L280.4,1022.5 L280.9,1017.8 L281.4,1016.1 L281.9,1013.8 L282.4,1011.5 L282.9,1012.1 L283.4,1009.9 L283.9,1007.3 L284.4,1005.9 L284.9,1003.3 L285.5,1000.2 L286.0,997.5 L286.5,995.5 L287.0,995.6 L287.5,991.8 L288.0,990.1 L288.5,988.5 L289.0,985.1 L289.5,983.9 L290.0,981.9 L290.5,981.3 L291.1,978.2 L291.7,976.0 L292.3,976.1 L292.9,972.6 L293.4,971.7 L294.0,968.9 L294.6,965.1 L295.2,964.3 L295.8,962.3 L296.4,961.4 L297.0,958.0 L297.6,957.2 L298.2,954.6 L298.7,951.6 L299.3,951.7 L299.9,947.2 L300.5,947.5 L301.1,943.4 L301.9,940.9 L302.7,939.6 L303.5,939.5 L304.4,938.2 L305.2,933.1 L306.0,932.7 L306.8,930.7 L307.6,929.8 L308.4,925.8 L309.3,924.9 L310.1,922.4 L310.9,922.0 L311.7,918.2 L312.9,918.6 L314.1,914.7 L315.3,912.6 L316.6,912.3 L317.8,909.9 L319.0,906.8 L320.2,906.6 L321.6,903.3 L323.0,903.9 L324.4,902.1 L325.9,900.8 L327.3,898.7 L328.7,896.2 L330.1,894.6 L331.5,893.0 L332.9,893.6 L334.4,888.5 L335.8,890.4 L337.2,885.0 L339.1,885.2 L341.0,884.8 L342.9,886.9 L344.8,884.5 L346.8,883.4 L348.7,884.9 L350.6,881.4 L352.5,881.8 L354.4,881.5 L356.3,881.8 L358.3,881.3 L360.2,880.4 L362.2,878.6 L364.1,878.0 L366.1,876.8 L368.1,879.3 L370.0,878.0 L372.0,877.9 L374.0,874.9 L375.9,875.6 L377.9,876.6 L379.8,875.2 L381.8,872.8 L383.7,875.0 L385.7,877.6 L387.6,875.6 L389.5,876.1 L391.5,877.4 L393.4,879.9 L395.4,881.3 L397.3,879.1 L399.2,879.8 L401.2,881.0 L403.1,882.1 L405.1,883.5 L407.1,882.5 L409.1,883.7 L411.1,883.7 L413.0,887.6 L415.0,887.1 L417.0,884.9 L419.0,889.2 L421.0,885.9 L423.0,887.7 L425.0,890.9 L426.9,890.6 L428.9,890.8 L430.9,890.1 L432.9,889.5 L434.9,892.0 L436.8,890.6 L438.8,892.0 L440.7,893.8 L442.6,893.2 L444.6,895.8 L446.5,898.5 L448.5,899.0 L450.4,899.1 L452.3,900.7 L454.3,900.9 L456.2,900.4 L458.2,902.9 L460.2,902.4 L462.2,904.3 L464.1,905.4 L466.1,903.7 L468.1,904.7 L470.1,907.0 L472.1,904.5 L474.1,903.2 L476.1,908.0 L478.1,909.8 L480.1,909.3 L482.0,909.0 L484.0,910.8 L486.0,909.6 L488.0,909.7 L490.1,907.8 L492.3,906.4 L494.4,909.1 L496.5,904.2 L498.6,906.9 L500.8,910.1 L502.9,909.3 L505.0,908.4 L507.1,904.8 L509.3,906.2 L511.4,906.4 L513.5,907.7 L515.6,905.7 L517.8,907.9 L519.9,910.1 L520.9,905.3 L521.8,911.5 L522.8,914.5 L523.8,912.9 L524.7,915.8 L525.7,922.1 L526.6,915.6 L527.6,922.1 L528.6,920.6 L529.5,928.1 L530.5,931.5 L532.1,929.0 L533.7,926.6 L535.3,932.1 L536.9,933.2 L538.5,936.1 L540.1,935.6 L541.7,938.0 L543.3,941.1 L544.2,940.2 L545.1,941.0 L545.9,947.8 L546.8,943.0 L547.7,949.1 L548.6,948.4 L549.4,953.6 L550.3,951.9 L551.2,956.5 L552.1,956.4 L552.9,957.3 L553.8,959.9 L554.7,962.2 L555.6,962.8 L556.4,966.0 L557.3,967.9 L558.2,970.6 L559.1,971.4 L559.9,973.0 L560.8,974.7 L561.7,978.3 L562.6,980.8 L563.4,981.3 L564.3,982.2 L565.2,985.9 L566.0,986.5 L566.9,987.8 L567.8,989.4 L568.6,993.3 L569.5,995.3 L570.4,996.6 L571.3,998.0 L572.1,1000.1 L573.0,1000.9 L574.4,1005.0 L575.8,1004.9 L577.2,1007.5 L578.6,1009.9 L580.0,1011.6 L580.8,1012.5 L581.5,1013.9 L582.3,1016.7 L583.0,1017.3 L583.8,1021.5 L584.5,1022.0 L585.3,1025.5 L586.1,1025.6 L586.8,1027.9 L587.6,1029.5 L588.3,1032.0 L589.1,1033.3 L589.8,1034.6 L590.6,1038.9 L591.4,1039.5 L592.2,1041.3 L593.0,1043.5 L593.9,1046.0 L594.7,1047.8 L595.5,1050.4 L596.3,1052.4 L597.1,1053.5 L597.9,1057.2 L598.8,1058.9 L599.6,1058.4 L600.4,1062.8 L601.2,1065.0 L601.8,1066.6 L602.3,1066.5 L602.9,1070.7 L603.5,1072.1 L604.0,1072.1 L604.6,1074.1 L605.2,1079.1 L605.7,1080.1 L606.3,1080.8 L606.9,1082.3 L607.4,1084.4 L608.0,1086.7 L608.6,1090.4 L609.1,1091.0 L609.7,1092.4 L610.6,1096.6 L611.5,1098.1 L612.4,1097.9 L613.4,1102.0 L614.3,1103.0 L615.2,1105.3 L616.1,1106.8 L617.0,1109.3 L617.9,1110.8 L618.8,1112.8 L619.8,1112.6 L620.7,1116.0 L621.6,1117.3 L622.5,1119.8 L623.6,1120.7 L624.6,1124.0 L625.7,1124.9 L626.7,1125.9 L627.8,1127.7 L628.9,1129.3 L629.9,1132.3 L631.0,1132.9 L632.0,1136.1 L633.1,1137.0 L634.1,1139.9 L635.1,1141.8 L636.1,1143.7 L637.1,1146.6 L638.1,1145.7 L639.1,1150.2 L640.1,1150.9 L641.0,1153.0 L642.0,1155.2 L643.0,1157.6 L644.0,1157.9 L645.0,1159.9 L646.0,1163.5 L647.0,1162.5 L648.0,1166.1 L649.2,1167.8 L650.5,1167.4 L651.7,1170.9 L653.0,1172.8 L654.2,1175.2 L655.5,1174.9 L656.7,1178.6 L658.0,1178.7 L659.2,1180.3 L660.5,1183.2 L661.7,1182.1 L663.0,1185.9 L664.2,1187.2 L665.5,1187.9 L666.7,1191.2 L668.0,1191.2 L669.2,1193.2 L670.7,1194.7 L672.2,1196.9 L673.8,1196.5 L675.3,1198.5 L676.8,1199.9 L678.3,1201.7 L679.9,1203.9 L681.4,1203.6 L682.9,1206.6 L684.4,1206.6 L685.9,1208.3 L687.5,1208.9 L689.0,1211.1 L690.5,1213.9 L692.3,1214.0 L694.0,1215.5 L695.8,1215.1 L697.6,1216.1 L699.3,1217.1 L701.1,1219.1 L702.9,1220.3 L704.6,1221.8 L706.4,1220.5 L708.2,1223.8 L709.9,1225.4 L711.7,1225.3 L713.2,1225.1 L714.8,1227.3 L716.3,1227.7 L717.9,1229.6 L719.4,1233.3 L721.0,1233.7 L722.5,1235.2 L724.1,1237.0 L725.6,1238.7 L727.2,1239.1 L728.7,1240.5 L730.6,1241.1 L732.6,1241.9 L734.5,1242.1 L736.4,1243.0 L738.4,1242.0 L740.3,1244.1 L742.3,1244.0 L744.2,1245.5 L746.1,1244.0 L748.1,1244.8 L750.0,1244.9 L751.9,1248.1 L753.9,1249.3 L755.8,1249.2 L757.7,1249.1 L759.6,1251.3 L761.6,1252.0 L763.5,1252.1 L765.4,1251.9 L767.3,1252.8 L769.3,1254.0 L771.2,1254.4 L773.3,1255.1 L775.5,1256.1 L777.6,1257.3 L779.7,1254.8 L781.9,1256.8 L784.0,1255.4 L786.1,1256.0 L788.2,1258.5 L790.4,1258.0 L792.5,1259.4 L794.5,1258.0 L796.5,1256.7 L798.6,1258.0 L800.6,1258.8 L802.6,1260.0 L804.6,1260.2 L806.6,1258.7 L808.7,1258.6 L810.7,1257.7 L812.7,1259.6 L814.7,1258.3 L816.7,1258.2 L818.7,1257.8 L820.8,1257.9 L822.8,1260.2 L824.8,1258.5 L826.8,1261.3 L828.8,1258.6 L830.9,1261.2 L832.9,1258.9 L834.9,1258.7 L836.9,1261.0 L838.9,1259.5 L841.0,1261.1 L843.0,1259.4 L845.0,1259.0 L847.0,1261.4 L849.1,1261.3 L851.1,1261.8 L853.1,1261.4 L855.1,1259.4 L857.2,1261.2 L859.2,1261.5 L861.2,1260.8 L863.2,1262.3 L865.3,1260.2 L867.3,1262.5 L869.3,1261.8 L871.3,1259.6 L873.4,1259.6 L875.4,1261.7 L877.4,1262.3 L879.4,1260.1 L881.4,1260.9 L883.5,1262.3 L885.5,1260.6 L887.5,1263.0 L889.5,1261.9 L891.6,1260.6 L893.6,1261.7 L895.6,1262.4 L897.6,1262.1 L899.7,1263.0 L901.7,1261.4 L903.7,1263.6 L905.7,1262.3 L907.8,1263.3 L909.8,1263.3 L911.8,1262.7 L913.8,1262.7 L915.9,1264.1 L917.9,1264.7 L919.9,1264.3 L921.9,1263.6 L923.9,1262.8 L925.9,1262.1 L927.9,1265.0 L929.9,1264.2 L931.9,1264.6 L933.9,1263.1 L935.9,1264.0 L937.9,1265.2 L939.9,1264.8 L941.9,1264.1 L943.9,1263.1 L945.9,1263.6 L947.9,1265.1 L949.9,1263.5 L951.9,1264.5 L953.9,1264.2 L955.9,1265.2 L958.0,1264.9 L960.0,1263.3 L962.0,1262.4 L964.0,1263.3 L966.0,1263.8 L968.0,1264.4 L970.0,1265.2 L972.0,1265.4 L974.0,1262.7 L976.0,1265.3 L978.0,1265.3 L980.0,1265.5 L982.0,1264.6 L984.0,1263.6 L986.0,1265.5 L988.0,1265.4 L990.0,1265.0 L992.0,1265.8 L994.0,1264.5" fill="none" stroke="#636363" stroke-width="8.0" stroke-linejoin="round" stroke-linecap="butt" clip-path="url(#clipCbot)" />
<path d="M184.2,1341.2 L184.6,1342.7 L184.9,1343.8 L185.3,1347.8 L185.6,1350.9 L186.0,1350.6 L186.3,1355.0 L186.7,1357.8 L187.1,1357.1 L187.4,1360.8 L187.8,1363.2 L188.1,1364.4 L188.5,1365.5 L189.4,1367.8 L190.3,1371.9 L191.2,1374.2 L192.0,1375.0 L192.9,1375.6 L193.8,1380.6 L194.2,1378.5 L194.6,1374.4 L194.9,1373.8 L195.3,1373.1 L195.7,1371.1 L196.1,1367.7 L196.4,1365.5 L196.8,1364.0 L197.2,1360.4 L197.6,1358.5 L198.0,1356.4 L198.3,1356.5 L198.7,1353.2 L199.1,1352.1 L199.8,1349.5 L200.5,1348.1 L201.2,1344.7 L201.9,1342.4 L202.7,1344.3 L203.4,1340.0 L204.1,1337.0 L204.8,1337.2 L205.5,1335.9 L207.3,1334.3 L209.1,1337.0 L210.9,1336.9 L212.8,1338.5 L214.6,1337.5 L216.4,1338.4 L218.2,1343.2 L220.0,1343.7 L221.8,1343.3 L223.6,1344.7 L225.3,1344.5 L227.1,1347.7 L228.9,1347.3 L230.0,1351.2 L231.0,1352.4 L232.1,1354.4 L233.2,1356.9 L234.2,1355.9 L235.3,1356.9 L236.3,1359.4 L237.4,1361.1 L238.6,1362.4 L239.8,1363.9 L240.9,1367.6 L242.1,1370.5 L243.3,1370.5 L244.5,1374.1 L245.6,1375.6 L246.8,1373.9 L248.0,1377.7 L249.8,1378.1 L251.6,1378.2 L253.4,1382.8 L255.3,1381.2 L257.1,1383.6 L258.9,1385.1 L260.7,1387.6 L262.6,1385.4 L264.4,1383.2 L266.3,1382.4 L268.1,1380.2 L270.0,1382.4 L271.9,1381.4 L273.7,1377.2 L275.6,1375.5 L277.5,1375.6 L279.5,1375.2 L281.4,1376.6 L283.3,1375.8 L285.2,1374.8 L287.2,1370.9 L289.1,1373.0 L291.0,1372.0 L292.9,1370.9 L294.9,1371.5 L296.8,1367.0 L298.8,1367.1 L300.8,1369.3 L302.8,1369.8 L304.8,1368.5 L306.8,1366.7 L308.8,1367.6 L310.8,1368.0 L312.8,1365.1 L314.7,1365.7 L316.7,1365.2 L318.7,1364.4 L320.7,1365.6 L322.7,1364.1 L324.7,1364.1 L326.7,1363.4 L328.7,1365.3 L330.7,1362.8 L332.7,1365.7 L334.8,1363.7 L336.8,1363.1 L338.8,1366.8 L340.8,1364.1 L342.9,1367.0 L344.9,1366.9 L346.9,1367.1 L348.9,1364.2 L351.0,1365.5 L353.0,1364.2 L355.0,1367.6 L357.0,1367.4 L359.1,1366.6 L361.1,1366.0 L363.1,1365.7 L365.1,1367.7 L367.2,1366.4 L369.2,1367.1 L371.2,1365.3 L373.2,1365.7 L375.2,1365.1 L377.3,1367.9 L379.3,1367.3 L381.3,1365.8 L383.3,1368.8 L385.4,1366.5 L387.4,1367.1 L389.4,1366.2 L391.4,1366.8 L393.5,1369.2 L395.5,1367.2 L397.5,1366.7 L399.5,1368.1 L401.6,1367.5 L403.6,1369.9 L405.6,1366.9 L407.6,1370.4 L409.7,1366.8 L411.7,1370.3 L413.7,1369.5 L415.7,1367.7 L417.7,1368.9 L419.8,1368.3 L421.8,1368.3 L423.8,1368.1 L425.8,1368.9 L427.9,1371.5 L429.9,1371.6 L431.9,1371.4 L433.9,1368.2 L436.0,1369.1 L438.0,1371.6 L440.0,1368.4 L442.0,1371.2 L444.1,1369.5 L446.1,1372.4 L448.1,1368.6 L450.1,1371.9 L452.2,1370.2 L454.2,1369.5 L456.2,1369.0 L458.2,1371.9 L460.2,1370.3 L462.2,1368.5 L464.1,1369.1 L466.1,1370.6 L468.1,1367.5 L470.1,1368.5 L472.1,1366.4 L474.1,1366.1 L476.1,1368.1 L478.1,1367.4 L480.1,1365.0 L482.0,1364.1 L484.0,1363.7 L486.0,1365.4 L488.0,1364.6 L489.9,1362.7 L491.9,1361.5 L493.8,1362.2 L495.7,1361.6 L497.7,1361.0 L499.6,1359.1 L501.6,1356.7 L503.5,1355.2 L505.4,1356.9 L507.4,1354.6 L509.3,1354.9 L511.2,1351.2 L513.1,1353.1 L515.0,1350.1 L516.9,1351.1 L518.9,1350.1 L520.8,1347.6 L522.7,1344.6 L524.6,1347.1 L526.5,1344.3 L528.4,1344.8 L529.9,1341.0 L531.5,1339.4 L533.0,1340.6 L534.6,1337.4 L536.1,1335.2 L537.7,1334.7 L539.2,1334.3 L540.8,1330.6 L542.3,1331.3 L543.9,1329.6 L545.4,1328.6 L547.3,1325.9 L549.1,1327.2 L551.0,1326.6 L552.8,1325.7 L554.7,1322.5 L556.6,1323.0 L558.4,1320.6 L560.3,1321.0 L561.3,1316.3 L562.2,1317.6 L563.2,1316.0 L564.2,1312.2 L565.1,1310.4 L566.1,1308.5 L567.0,1306.6 L568.0,1302.6 L569.0,1304.4 L569.9,1299.5 L570.9,1297.4 L572.2,1295.4 L573.4,1294.3 L574.7,1294.9 L576.0,1290.0 L577.2,1288.6 L578.5,1289.3 L579.8,1285.6 L581.1,1283.2 L582.3,1283.8 L583.6,1282.0 L584.8,1280.2 L585.9,1279.2 L587.1,1275.2 L588.3,1276.6 L589.4,1274.4 L590.6,1270.1 L592.1,1268.9 L593.6,1268.9 L595.1,1267.5 L596.6,1265.1 L598.0,1263.0 L599.5,1262.6 L601.0,1260.1 L602.5,1260.4 L604.0,1260.0 L605.5,1255.7 L607.6,1257.7 L609.8,1258.6 L611.9,1256.5 L614.0,1259.5 L616.1,1260.2 L618.2,1258.2 L620.4,1258.6 L622.5,1260.6 L624.4,1260.1 L626.4,1260.3 L628.3,1263.3 L630.2,1263.4 L632.1,1262.4 L634.1,1262.8 L636.0,1263.9 L637.9,1265.1 L639.8,1268.1 L641.8,1268.1 L643.7,1269.4 L645.5,1270.2 L647.2,1271.6 L649.0,1269.6 L650.8,1272.7 L652.6,1275.7 L654.4,1276.9 L656.1,1275.4 L657.9,1277.3 L659.7,1279.4 L661.5,1279.6 L663.2,1281.5 L665.0,1280.9 L666.5,1283.8 L668.0,1285.6 L669.5,1285.1 L671.0,1287.1 L672.5,1291.9 L673.9,1292.6 L675.4,1294.7 L676.9,1295.0 L678.4,1297.2 L679.9,1298.9 L681.1,1300.6 L682.3,1298.9 L683.4,1303.1 L684.6,1303.3 L685.8,1306.6 L687.0,1306.7 L688.1,1309.5 L689.3,1312.7 L690.5,1313.2 L692.2,1313.0 L693.9,1315.3 L695.6,1316.3 L697.3,1319.6 L699.0,1318.3 L700.7,1319.6 L702.4,1322.3 L704.1,1321.4 L705.8,1324.6 L707.5,1327.3 L708.8,1327.3 L710.0,1328.0 L711.3,1330.5 L712.6,1332.4 L713.9,1332.6 L715.1,1334.2 L716.4,1335.9 L717.7,1338.3 L718.9,1340.4 L720.2,1341.7 L721.8,1342.7 L723.4,1343.3 L725.0,1346.4 L726.6,1348.8 L728.2,1349.1 L729.8,1350.2 L731.3,1351.8 L732.9,1351.2 L734.5,1354.5 L736.1,1354.8 L737.7,1356.4 L739.3,1357.9 L741.1,1358.3 L742.8,1358.8 L744.6,1359.5 L746.4,1360.5 L748.2,1362.7 L750.0,1363.3 L751.7,1365.2 L753.5,1363.9 L755.3,1366.3 L757.0,1369.4 L758.8,1368.0 L760.6,1370.3 L762.5,1371.0 L764.5,1371.2 L766.4,1374.9 L768.3,1373.1 L770.2,1376.0 L772.2,1374.5 L774.1,1375.1 L776.0,1379.3 L777.9,1378.5 L779.9,1378.0 L781.8,1380.3 L783.8,1380.7 L785.8,1382.2 L787.8,1379.9 L789.8,1380.7 L791.8,1383.9 L793.8,1383.3 L795.8,1381.2 L797.8,1382.2 L799.7,1382.5 L801.7,1384.1 L803.7,1384.1 L805.7,1385.3 L807.7,1385.5 L809.7,1384.5 L811.7,1385.7 L813.7,1386.0 L815.8,1386.0 L817.9,1384.9 L820.1,1386.1 L822.2,1385.8 L824.3,1386.7 L826.4,1383.5 L828.5,1386.5 L830.7,1383.0 L832.8,1386.1 L834.9,1385.3 L836.9,1385.3 L838.9,1387.4 L840.9,1386.1 L842.9,1385.7 L844.9,1387.4 L846.9,1388.1 L848.9,1387.3 L850.8,1386.6 L852.8,1387.2 L854.8,1387.5 L856.8,1388.8 L858.8,1387.3 L860.8,1388.0 L862.8,1388.9 L864.8,1388.5 L866.8,1388.5 L868.9,1390.5 L871.1,1390.9 L873.2,1389.6 L875.3,1389.6 L877.4,1388.7 L879.6,1389.3 L881.7,1388.8 L883.8,1390.7 L885.9,1390.8 L888.1,1389.0 L890.2,1392.5 L892.3,1390.3 L894.4,1392.5 L896.6,1392.6 L898.7,1393.2 L900.8,1390.4 L902.9,1391.4 L905.1,1393.5 L907.2,1390.0 L909.3,1390.3 L911.4,1392.5 L913.5,1392.4 L915.7,1394.2 L917.8,1393.8 L919.9,1393.0 L922.0,1394.9 L924.1,1393.1 L926.3,1393.3 L928.4,1394.1 L930.5,1393.1 L932.5,1393.2 L934.5,1394.4 L936.5,1393.7 L938.5,1396.3 L940.5,1395.5 L942.5,1395.2 L944.5,1393.7 L946.5,1395.1 L948.4,1395.5 L950.4,1396.4 L952.4,1396.7 L954.4,1398.2 L956.4,1398.8 L958.4,1397.1 L960.4,1397.2 L962.4,1398.2 L964.5,1399.8 L966.6,1397.4 L968.7,1398.3 L970.8,1399.6 L972.9,1397.1 L975.0,1397.9 L977.1,1400.6 L979.3,1400.2 L981.4,1399.1 L983.5,1397.6 L985.6,1400.9 L987.7,1400.2 L989.8,1400.9 L991.9,1401.7 L994.0,1399.9" fill="none" stroke="#2a8049" stroke-width="8.0" stroke-linejoin="round" stroke-linecap="butt" clip-path="url(#clipCbot)" />
<path d="M184.2,1605.1 L184.4,1608.7 L184.7,1608.8 L184.9,1609.7 L185.2,1612.3 L185.4,1615.2 L185.6,1617.2 L185.9,1617.9 L186.1,1619.9 L186.3,1623.7 L186.6,1625.6 L186.8,1626.6 L187.1,1631.1 L187.3,1631.7 L187.5,1631.3 L187.8,1634.8 L188.0,1638.3 L188.3,1638.4 L188.5,1642.0 L189.8,1640.9 L191.1,1643.8 L192.3,1647.7 L193.6,1648.3 L194.9,1650.4 L195.2,1646.4 L195.5,1645.4 L195.8,1643.5 L196.1,1640.3 L196.4,1639.7 L196.7,1637.1 L197.0,1636.8 L197.3,1633.0 L197.6,1630.3 L197.9,1627.0 L198.2,1625.0 L198.5,1625.3 L198.8,1620.5 L199.1,1618.4 L199.4,1616.7 L199.7,1616.0 L200.1,1615.2 L200.4,1612.4 L200.7,1611.1 L201.0,1606.1 L201.3,1603.9 L201.7,1604.9 L202.0,1601.1 L202.3,1600.7 L202.6,1597.2 L202.9,1594.4 L203.3,1592.8 L203.6,1590.1 L203.9,1591.3 L204.2,1588.0 L204.5,1585.1 L204.9,1583.4 L205.2,1581.2 L205.5,1577.8 L207.0,1582.7 L208.5,1583.0 L210.0,1586.0 L211.6,1585.4 L213.1,1587.7 L214.6,1587.7 L216.1,1588.4 L217.9,1593.0 L219.6,1593.8 L221.4,1592.7 L223.2,1596.1 L224.9,1596.8 L226.7,1595.8 L227.8,1598.9 L228.8,1602.3 L229.9,1602.3 L231.0,1606.0 L232.1,1605.1 L233.1,1607.6 L234.2,1610.8 L235.3,1610.8 L236.3,1613.0 L237.4,1617.2 L238.5,1617.5 L239.5,1620.7 L240.6,1620.4 L241.6,1622.0 L242.7,1624.7 L243.8,1625.9 L244.8,1631.0 L245.9,1630.1 L246.9,1633.1 L248.0,1633.3 L249.3,1636.6 L250.6,1637.7 L251.8,1639.5 L253.1,1639.9 L254.4,1641.8 L256.5,1644.1 L258.6,1641.7 L260.8,1640.7 L262.9,1640.0 L265.0,1639.8 L267.1,1639.1 L269.3,1637.8 L271.4,1639.8 L272.9,1637.0 L274.4,1634.7 L275.8,1635.5 L277.3,1631.5 L278.8,1630.7 L280.3,1631.5 L281.8,1627.2 L283.2,1627.0 L284.7,1627.0 L286.2,1625.4 L287.9,1621.4 L289.5,1620.8 L291.2,1620.9 L292.8,1618.1 L294.5,1619.0 L296.1,1614.6 L297.8,1616.1 L299.4,1612.9 L301.1,1610.4 L303.2,1611.1 L305.3,1609.5 L307.5,1611.6 L309.6,1609.6 L311.7,1611.9 L313.8,1610.4 L316.0,1609.2 L318.1,1608.5 L320.2,1609.7 L322.3,1607.9 L324.5,1610.3 L326.6,1607.0 L328.7,1608.4 L330.7,1608.5 L332.7,1607.5 L334.8,1609.5 L336.8,1608.0 L338.8,1609.2 L340.8,1608.9 L342.9,1607.9 L344.9,1608.2 L346.9,1607.1 L348.9,1607.5 L351.0,1610.2 L353.0,1608.2 L355.0,1609.6 L357.0,1607.4 L359.1,1609.3 L361.1,1608.5 L363.1,1609.1 L365.1,1608.3 L367.2,1607.5 L369.2,1608.5 L371.2,1608.2 L373.2,1607.9 L375.2,1610.4 L377.3,1608.7 L379.3,1609.3 L381.3,1611.5 L383.3,1611.0 L385.4,1611.6 L387.4,1611.6 L389.4,1608.8 L391.4,1609.5 L393.5,1608.6 L395.5,1611.3 L397.5,1611.3 L399.5,1610.2 L401.6,1610.5 L403.6,1611.6 L405.6,1611.9 L407.6,1610.2 L409.7,1612.7 L411.7,1610.8 L413.7,1612.0 L415.7,1610.2 L417.7,1610.0 L419.8,1613.2 L421.8,1612.4 L423.8,1612.4 L425.8,1609.7 L427.9,1609.7 L429.9,1610.1 L431.9,1610.3 L433.9,1610.7 L436.0,1611.0 L438.0,1609.7 L440.0,1610.7 L442.0,1612.1 L444.1,1610.2 L446.1,1612.9 L448.1,1611.8 L450.1,1612.4 L452.2,1610.5 L454.2,1611.2 L456.2,1612.2 L458.2,1610.4 L460.2,1608.4 L462.2,1611.2 L464.1,1610.5 L466.1,1608.0 L468.1,1606.5 L470.1,1609.2 L472.1,1607.7 L474.1,1604.9 L476.1,1605.2 L478.1,1604.1 L480.1,1606.3 L482.0,1603.4 L484.0,1605.7 L486.0,1604.5 L488.0,1601.3 L490.1,1602.9 L492.3,1600.9 L494.4,1601.4 L496.6,1600.9 L498.7,1597.8 L499.7,1595.1 L500.6,1596.6 L501.6,1592.6 L502.6,1592.7 L503.5,1589.8 L504.5,1588.1 L505.4,1586.5 L506.4,1583.8 L507.4,1581.2 L508.3,1577.6 L509.3,1578.3 L510.3,1575.3 L511.2,1573.7 L512.2,1573.4 L513.2,1568.3 L514.1,1568.9 L515.1,1564.1 L516.0,1564.8 L517.0,1563.2 L518.0,1559.1 L518.9,1558.3 L519.9,1558.1 L520.2,1554.7 L520.5,1552.3 L520.8,1549.1 L521.1,1546.3 L521.4,1545.5 L521.7,1543.7 L522.0,1540.8 L522.3,1539.3 L522.6,1536.5 L522.9,1536.8 L523.3,1534.6 L523.6,1530.9 L523.9,1528.9 L524.2,1527.9 L524.5,1525.6 L524.8,1525.6 L525.1,1521.2 L525.4,1519.0 L525.7,1519.3 L526.0,1514.3 L526.3,1514.0 L526.7,1511.0 L527.1,1511.0 L527.5,1507.9 L527.9,1506.8 L528.3,1502.4 L528.7,1502.4 L529.1,1500.2 L529.5,1497.6 L529.9,1496.9 L530.3,1495.1 L530.7,1490.3 L531.1,1489.0 L531.5,1487.3 L531.9,1484.7 L532.3,1482.1 L532.7,1481.0 L533.1,1478.6 L533.5,1478.6 L533.9,1475.5 L534.2,1472.2 L534.6,1470.9 L535.0,1469.5 L535.4,1467.0 L535.8,1464.2 L536.2,1461.7 L536.6,1459.4 L537.0,1461.3 L537.3,1458.3 L537.7,1453.6 L538.1,1454.1 L538.5,1453.1 L538.9,1449.4 L539.3,1445.5 L539.7,1445.0 L540.0,1442.7 L540.4,1439.7 L540.8,1439.0 L541.2,1434.8 L541.5,1436.5 L541.9,1433.4 L542.2,1431.3 L542.5,1430.6 L542.9,1427.5 L543.2,1423.9 L543.5,1421.8 L543.9,1419.4 L544.2,1417.0 L544.5,1418.0 L544.8,1416.3 L545.2,1412.1 L545.5,1409.7 L545.8,1409.5 L546.2,1408.3 L546.5,1406.7 L546.8,1401.6 L547.2,1402.1 L547.5,1400.3 L547.8,1398.0 L548.2,1394.3 L548.5,1391.7 L548.8,1392.3 L549.1,1388.3 L549.5,1386.5 L549.8,1385.2 L550.1,1382.5 L550.5,1382.4 L550.8,1378.0 L551.1,1375.2 L551.5,1375.4 L551.8,1373.6 L552.1,1372.4 L552.4,1370.0 L552.7,1368.8 L553.0,1367.0 L553.3,1363.2 L553.6,1361.2 L553.9,1357.9 L554.1,1356.5 L554.4,1355.6 L554.7,1351.6 L555.0,1352.1 L555.3,1348.0 L555.6,1347.1 L555.9,1347.3 L556.2,1341.8 L556.5,1339.6 L556.8,1339.2 L557.1,1336.2 L557.4,1336.4 L557.7,1331.5 L558.0,1332.9 L558.2,1331.0 L558.5,1328.7 L558.8,1325.3 L559.1,1322.8 L559.4,1322.3 L559.7,1319.7 L560.0,1317.4 L560.3,1315.1 L560.5,1313.4 L560.7,1312.3 L561.0,1310.8 L561.2,1309.1 L561.4,1304.1 L561.6,1302.6 L561.8,1301.1 L562.1,1299.5 L562.3,1296.6 L562.5,1294.0 L562.7,1291.5 L562.9,1290.4 L563.2,1288.9 L563.4,1288.9 L563.6,1286.6 L563.8,1284.3 L564.1,1282.7 L564.3,1280.6 L564.5,1277.2 L564.7,1275.9 L564.9,1270.9 L565.2,1271.3 L565.4,1268.9 L565.6,1265.6 L565.8,1264.7 L566.0,1264.2 L566.3,1260.2 L566.5,1258.8 L566.7,1255.4 L567.0,1253.5 L567.4,1253.7 L567.7,1248.2 L568.0,1246.8 L568.3,1246.7 L568.7,1243.7 L569.0,1240.2 L569.3,1240.5 L569.6,1237.3 L570.0,1236.1 L570.3,1233.4 L570.6,1231.8 L571.0,1229.9 L571.3,1227.2 L571.6,1224.0 L571.9,1222.2 L572.3,1223.0 L572.6,1219.6 L572.9,1215.8 L573.2,1216.8 L573.6,1212.3 L573.9,1209.6 L574.2,1209.4 L574.5,1206.2 L574.9,1205.1 L575.2,1203.3 L575.7,1200.0 L576.2,1199.4 L576.8,1195.6 L577.3,1195.2 L577.8,1193.5 L578.4,1189.5 L578.9,1188.8 L579.4,1185.4 L579.9,1184.9 L580.5,1184.6 L581.0,1181.4 L581.5,1180.0 L582.0,1178.2 L582.6,1173.6 L583.1,1175.2 L583.6,1172.1 L584.4,1167.6 L585.2,1168.5 L586.0,1164.7 L586.8,1161.8 L587.6,1162.9 L588.4,1159.3 L589.2,1158.1 L590.0,1153.5 L591.6,1154.0 L593.3,1149.0 L594.9,1147.6 L596.0,1146.3 L597.0,1143.0 L598.1,1143.4 L599.1,1140.0 L600.2,1138.5 L601.2,1138.2 L602.3,1135.2 L603.3,1135.1 L604.4,1132.2 L604.8,1135.2 L605.2,1135.9 L605.5,1139.3 L605.9,1141.1 L606.3,1140.2 L606.7,1144.5 L607.0,1144.9 L607.4,1148.5 L607.8,1150.2 L608.2,1152.7 L608.6,1151.9 L608.9,1154.8 L609.3,1158.3 L609.7,1161.1 L610.0,1162.2 L610.3,1161.5 L610.6,1165.8 L610.9,1165.8 L611.2,1169.6 L611.5,1172.7 L611.8,1171.9 L612.1,1177.2 L612.4,1178.2 L612.7,1178.6 L613.1,1180.3 L613.4,1183.4 L613.7,1187.0 L614.0,1188.0 L614.3,1188.1 L614.6,1189.8 L614.9,1192.1 L615.2,1196.9 L615.5,1196.5 L615.8,1200.0 L616.1,1201.0 L616.4,1204.6 L616.7,1205.4 L617.0,1206.4 L617.3,1211.4 L617.6,1212.1 L617.9,1214.7 L618.2,1217.2 L618.5,1219.8 L618.8,1218.1 L619.1,1221.4 L619.5,1222.7 L619.8,1226.1 L620.1,1229.6 L620.4,1231.3 L620.7,1230.3 L621.0,1232.9 L621.3,1237.5 L621.6,1238.9 L621.9,1239.8 L622.2,1242.2 L622.5,1242.9 L622.9,1247.7 L623.3,1247.9 L623.7,1251.9 L624.1,1252.8 L624.5,1252.7 L624.9,1255.8 L625.3,1257.3 L625.7,1262.1 L626.1,1262.9 L626.5,1262.7 L627.0,1265.2 L627.4,1268.0 L627.8,1270.5 L628.2,1272.9 L628.6,1274.2 L629.0,1276.1 L629.4,1276.7 L629.8,1281.0 L630.2,1282.1 L630.6,1282.9 L631.0,1286.6 L631.4,1290.8 L631.7,1289.0 L632.1,1291.4 L632.4,1295.5 L632.8,1295.9 L633.1,1297.9 L633.5,1300.8 L633.8,1301.9 L634.2,1305.1 L634.6,1307.0 L634.9,1310.7 L635.3,1312.8 L635.6,1311.0 L636.0,1315.1 L636.3,1318.0 L636.7,1320.4 L637.0,1322.0 L637.4,1323.4 L638.1,1325.5 L638.7,1326.4 L639.4,1328.1 L640.0,1332.2 L640.7,1334.5 L641.4,1336.8 L642.0,1337.8 L642.7,1338.3 L643.4,1342.1 L644.0,1344.0 L644.7,1345.1 L645.4,1347.7 L646.0,1348.5 L646.7,1351.4 L647.3,1352.8 L648.0,1353.4 L649.6,1355.9 L651.2,1357.2 L652.8,1361.2 L654.4,1360.5 L655.9,1361.4 L657.5,1362.2 L659.1,1363.5 L660.7,1365.3 L661.5,1362.5 L662.3,1360.0 L663.2,1361.5 L664.0,1357.9 L664.8,1355.9 L665.6,1354.4 L666.5,1351.4 L667.3,1348.9 L668.1,1346.5 L668.9,1345.5 L669.8,1343.6 L670.6,1343.3 L671.4,1340.6 L672.3,1344.0 L673.3,1343.5 L674.2,1347.8 L675.2,1348.3 L676.1,1348.2 L677.1,1350.4 L678.0,1353.9 L679.0,1357.5 L679.9,1356.8 L680.5,1356.5 L681.2,1353.2 L681.8,1353.0 L682.5,1347.8 L683.1,1347.5 L683.8,1347.2 L684.4,1342.8 L685.1,1340.7 L685.7,1337.8 L686.4,1336.4 L687.0,1334.9 L687.7,1334.7 L688.3,1330.8 L689.9,1332.8 L691.5,1333.4 L693.1,1336.3 L694.7,1338.7 L696.3,1339.1 L697.9,1338.6 L699.5,1342.1 L701.1,1344.4 L702.9,1344.0 L704.6,1343.0 L706.4,1346.9 L708.2,1348.3 L709.9,1347.2 L711.7,1347.4 L712.6,1349.5 L713.5,1352.7 L714.4,1355.9 L715.4,1356.7 L716.3,1359.7 L717.2,1358.7 L718.1,1361.0 L719.0,1364.5 L719.9,1365.9 L720.8,1366.7 L721.8,1369.7 L722.7,1370.1 L723.6,1370.8 L724.5,1374.1 L725.7,1374.2 L726.9,1378.2 L728.0,1378.7 L729.2,1381.0 L730.4,1383.0 L731.6,1383.3 L732.7,1385.8 L733.9,1385.6 L735.1,1390.9 L735.8,1391.4 L736.5,1395.1 L737.2,1393.3 L737.9,1397.5 L738.6,1399.8 L739.4,1400.2 L740.1,1401.2 L740.8,1403.4 L741.5,1405.3 L742.2,1409.8 L742.9,1409.0 L743.6,1413.9 L744.2,1414.2 L744.9,1416.6 L745.5,1418.7 L746.2,1420.5 L746.8,1422.8 L747.4,1424.5 L748.1,1425.3 L748.7,1428.8 L749.4,1428.8 L750.0,1432.5 L750.6,1434.7 L751.1,1436.7 L751.7,1436.7 L752.3,1440.5 L752.9,1443.3 L753.4,1443.1 L754.0,1444.4 L754.6,1447.3 L755.2,1450.9 L755.7,1449.6 L756.3,1451.0 L757.1,1454.9 L757.8,1457.6 L758.6,1460.0 L759.4,1460.3 L760.1,1464.8 L760.9,1463.7 L761.6,1467.8 L762.4,1467.1 L763.2,1468.9 L763.9,1471.3 L764.7,1472.9 L765.5,1476.7 L766.2,1478.8 L767.0,1479.3 L768.0,1484.3 L768.9,1483.9 L769.9,1485.0 L770.9,1487.0 L771.8,1491.2 L772.8,1493.8 L773.7,1492.7 L774.7,1494.1 L775.7,1499.1 L776.6,1498.8 L777.6,1503.7 L778.7,1503.5 L779.7,1505.7 L780.8,1506.3 L781.8,1509.8 L782.9,1510.1 L784.0,1511.3 L785.0,1515.3 L786.1,1513.8 L787.1,1518.0 L788.2,1517.1 L789.6,1521.0 L791.0,1521.7 L792.5,1525.2 L793.9,1523.7 L795.3,1527.3 L796.7,1528.4 L798.2,1532.1 L799.6,1533.8 L801.0,1534.2 L801.9,1534.5 L802.8,1536.6 L803.6,1538.6 L804.5,1541.2 L805.4,1542.4 L806.3,1544.2 L807.2,1548.4 L808.1,1549.9 L809.0,1550.4 L809.8,1555.2 L810.7,1554.0 L811.6,1557.4 L813.2,1557.0 L814.8,1561.0 L816.4,1562.3 L818.0,1561.1 L819.6,1564.3 L821.2,1565.8 L822.7,1564.9 L824.3,1566.3 L825.9,1568.1 L827.5,1571.0 L829.1,1569.3 L830.7,1572.6 L832.6,1573.2 L834.5,1573.6 L836.4,1575.1 L838.3,1577.2 L840.1,1575.5 L842.0,1579.1 L843.9,1578.0 L845.8,1580.6 L847.7,1581.9 L849.7,1579.6 L851.7,1582.7 L853.6,1583.7 L855.6,1581.3 L857.6,1580.6 L859.6,1581.4 L861.6,1585.3 L863.5,1581.9 L865.5,1585.9 L867.5,1583.3 L869.5,1586.0 L871.5,1583.9 L873.4,1584.6 L875.4,1587.1 L877.4,1585.2 L879.5,1586.4 L881.7,1588.9 L883.8,1588.3 L885.9,1589.2 L888.0,1589.8 L890.2,1586.2 L892.3,1587.2 L894.4,1589.6 L896.6,1589.4 L898.7,1587.1 L900.6,1589.5 L902.6,1589.0 L904.5,1590.4 L906.4,1589.6 L908.3,1589.9 L910.3,1594.4 L912.2,1592.2 L914.1,1595.1 L916.0,1592.6 L918.0,1594.7 L919.9,1593.8 L921.9,1595.1 L923.9,1594.3 L925.9,1596.4 L927.9,1594.4 L929.9,1596.9 L931.9,1596.0 L933.9,1594.6 L935.9,1595.7 L937.9,1596.4 L939.9,1598.2 L941.9,1596.1 L943.9,1595.6 L945.9,1598.8 L947.9,1598.6 L949.9,1598.1 L951.9,1596.4 L953.9,1596.1 L955.9,1596.8 L957.9,1596.3 L959.9,1596.5 L961.9,1598.7 L963.9,1598.6 L965.9,1599.5 L967.9,1599.1 L969.9,1598.0 L971.9,1601.0 L974.0,1601.2 L976.0,1601.1 L978.0,1601.4 L980.0,1602.3 L982.0,1603.8 L984.0,1603.7 L986.0,1603.4 L988.0,1602.4 L990.0,1602.4 L992.0,1603.2 L994.0,1603.8" fill="none" stroke="#c68700" stroke-width="8.0" stroke-linejoin="round" stroke-linecap="butt" clip-path="url(#clipCbot)" />
<path d="M184.2,1566.8 L184.7,1570.7 L185.3,1570.3 L185.8,1572.3 L186.3,1574.4 L186.9,1575.3 L187.4,1580.7 L187.9,1578.7 L188.5,1583.1 L189.0,1586.3 L189.6,1585.6 L190.1,1589.0 L190.6,1590.1 L191.2,1591.5 L191.7,1593.3 L192.4,1591.0 L193.0,1592.0 L193.7,1589.8 L194.4,1588.4 L195.1,1583.0 L195.7,1583.7 L196.4,1580.2 L197.1,1579.6 L197.8,1577.3 L198.4,1574.4 L199.1,1575.1 L200.9,1569.8 L202.6,1571.4 L204.4,1570.4 L206.2,1567.6 L207.9,1566.5 L209.7,1566.7 L211.8,1564.4 L214.0,1566.7 L216.1,1567.8 L218.2,1567.1 L220.4,1569.1 L222.5,1568.6 L224.2,1570.3 L225.8,1571.8 L227.5,1573.2 L229.1,1573.0 L230.8,1575.4 L232.4,1576.2 L234.1,1576.1 L235.7,1578.9 L237.4,1578.7 L239.2,1582.1 L241.0,1581.3 L242.8,1583.2 L244.7,1583.3 L246.5,1584.1 L248.3,1584.0 L250.1,1584.6 L252.0,1586.9 L253.8,1584.5 L255.7,1583.7 L257.6,1582.9 L259.4,1583.3 L261.3,1580.2 L263.1,1579.1 L265.0,1580.9 L266.4,1577.8 L267.8,1576.9 L269.2,1575.9 L270.6,1574.6 L272.1,1572.8 L273.5,1567.8 L274.9,1567.5 L276.3,1567.7 L277.7,1566.0 L278.8,1561.5 L279.8,1559.9 L280.9,1558.6 L282.0,1556.3 L283.0,1555.6 L284.1,1555.7 L285.2,1552.9 L286.3,1550.9 L287.3,1547.8 L288.4,1547.3 L290.0,1548.3 L291.7,1545.7 L293.3,1543.3 L295.0,1542.0 L296.6,1541.8 L298.3,1540.3 L299.9,1536.4 L301.6,1537.1 L303.2,1534.5 L305.2,1534.6 L307.1,1533.0 L309.1,1533.0 L311.0,1532.4 L313.0,1532.1 L315.0,1530.1 L316.9,1530.4 L318.9,1531.3 L320.9,1528.8 L322.8,1528.8 L324.8,1530.5 L326.7,1528.2 L328.7,1527.9 L330.7,1527.2 L332.7,1529.1 L334.7,1525.8 L336.7,1527.5 L338.7,1528.0 L340.7,1525.0 L342.7,1525.5 L344.6,1526.6 L346.6,1525.5 L348.6,1524.1 L350.6,1522.4 L352.6,1523.6 L354.6,1522.9 L356.6,1523.9 L358.6,1521.8 L360.6,1521.8 L362.7,1522.9 L364.8,1523.7 L367.0,1522.0 L369.1,1522.3 L371.2,1523.2 L373.3,1524.8 L375.4,1522.0 L377.6,1525.3 L379.7,1524.4 L381.8,1523.2 L383.9,1524.5 L386.0,1523.3 L388.2,1522.4 L390.3,1525.3 L392.4,1523.9 L394.4,1524.6 L396.4,1524.6 L398.5,1526.3 L400.5,1525.8 L402.5,1523.0 L404.5,1525.4 L406.6,1525.0 L408.6,1525.0 L410.6,1526.7 L412.6,1525.1 L414.7,1525.4 L416.7,1527.2 L418.7,1525.5 L420.7,1525.8 L422.8,1525.9 L424.8,1527.3 L426.8,1526.8 L428.8,1527.2 L430.9,1525.9 L432.9,1524.6 L434.9,1527.2 L437.0,1526.7 L439.2,1527.6 L441.3,1527.6 L443.4,1525.0 L445.5,1525.4 L447.7,1524.8 L449.8,1527.8 L451.9,1524.9 L454.0,1524.9 L456.2,1527.5 L458.3,1526.8 L460.4,1524.7 L462.5,1527.2 L464.7,1527.3 L466.8,1526.4 L468.7,1525.3 L470.7,1528.4 L472.6,1527.9 L474.5,1529.2 L476.4,1531.4 L478.4,1531.3 L480.3,1532.1 L482.2,1529.7 L484.1,1531.1 L486.1,1532.4 L488.0,1530.9 L489.9,1534.1 L491.9,1530.5 L493.8,1529.6 L495.7,1529.1 L497.7,1528.1 L499.6,1529.7 L501.6,1527.7 L503.5,1526.8 L505.4,1525.6 L507.4,1523.4 L509.3,1523.6 L511.2,1525.0 L513.1,1523.9 L515.0,1523.3 L516.9,1520.0 L518.9,1519.0 L520.8,1517.5 L522.7,1518.6 L524.6,1517.1 L526.5,1516.6 L528.4,1515.9 L530.2,1515.0 L532.1,1512.9 L533.9,1513.5 L535.7,1509.8 L537.5,1511.5 L539.4,1508.8 L541.2,1505.6 L542.9,1505.6 L544.6,1505.4 L546.3,1503.8 L548.0,1503.4 L549.7,1501.3 L551.4,1500.1 L553.1,1501.1 L554.8,1498.0 L556.5,1498.6 L558.2,1497.9 L559.5,1495.5 L560.9,1493.4 L562.2,1493.8 L563.6,1490.3 L564.9,1490.5 L566.3,1485.7 L567.6,1485.6 L569.0,1484.9 L570.3,1481.0 L571.7,1482.7 L573.0,1478.0 L575.3,1480.4 L577.7,1479.0 L580.0,1482.3 L582.1,1481.3 L584.2,1482.6 L586.4,1481.9 L588.5,1483.0 L590.6,1483.4 L592.7,1482.7 L594.8,1483.3 L597.0,1486.6 L599.1,1484.7 L601.2,1488.7 L602.9,1487.0 L604.5,1487.8 L606.2,1488.9 L607.8,1492.8 L609.5,1494.7 L611.1,1493.7 L612.8,1495.9 L614.4,1495.5 L616.1,1499.2 L617.9,1499.8 L619.6,1499.1 L621.4,1500.1 L623.2,1504.0 L624.9,1502.9 L626.7,1507.4 L628.8,1505.3 L631.0,1505.0 L633.1,1506.4 L635.2,1505.4 L637.3,1506.3 L639.5,1504.7 L641.6,1507.7 L643.7,1505.4 L645.8,1507.5 L648.0,1504.7 L650.1,1507.3 L652.0,1507.0 L653.9,1503.5 L655.8,1501.1 L657.7,1501.4 L659.7,1501.4 L661.6,1498.6 L663.5,1498.9 L665.4,1496.0 L667.3,1496.4 L669.2,1496.4 L670.6,1493.8 L672.0,1493.4 L673.5,1489.7 L674.9,1491.1 L676.3,1486.9 L677.7,1488.7 L679.8,1489.5 L682.0,1489.8 L684.1,1488.7 L686.2,1488.3 L688.3,1489.0 L690.5,1491.2 L692.6,1490.7 L694.7,1492.9 L696.8,1489.9 L699.0,1491.8 L701.1,1493.7 L703.2,1493.0 L705.4,1493.1 L707.5,1491.7 L708.8,1493.5 L710.1,1495.6 L711.5,1499.7 L712.8,1501.1 L714.1,1500.2 L715.5,1504.6 L716.8,1502.6 L718.1,1506.5 L719.8,1509.4 L721.4,1508.3 L723.1,1512.1 L724.7,1512.4 L726.4,1511.4 L728.0,1513.9 L729.7,1515.8 L731.3,1516.4 L733.0,1519.8 L734.4,1519.2 L735.8,1523.3 L737.2,1523.0 L738.6,1523.7 L740.1,1527.3 L741.5,1527.1 L742.9,1530.6 L744.3,1533.2 L745.7,1534.1 L747.0,1535.1 L748.4,1535.0 L749.7,1538.5 L751.0,1538.4 L752.3,1542.2 L753.6,1541.8 L755.0,1545.1 L756.3,1545.8 L757.6,1547.5 L759.0,1550.3 L760.3,1549.9 L761.6,1551.5 L763.0,1556.2 L764.3,1555.3 L765.7,1559.0 L767.0,1560.7 L768.5,1560.5 L770.1,1560.5 L771.6,1561.6 L773.1,1566.1 L774.7,1564.4 L776.2,1567.3 L777.8,1568.8 L779.3,1568.5 L780.8,1571.3 L782.4,1571.4 L783.9,1574.2 L785.8,1575.2 L787.7,1575.7 L789.7,1576.1 L791.6,1578.0 L793.5,1578.2 L795.4,1579.0 L797.3,1580.5 L799.3,1584.1 L801.2,1583.6 L803.1,1586.3 L805.0,1583.3 L807.0,1587.6 L808.9,1586.4 L810.8,1588.2 L812.7,1587.9 L814.7,1588.9 L816.6,1587.7 L818.5,1590.4 L820.4,1588.6 L822.4,1589.6 L824.3,1589.2 L826.3,1590.9 L828.3,1591.7 L830.3,1591.1 L832.3,1593.7 L834.3,1590.7 L836.3,1593.0 L838.3,1591.9 L840.2,1593.6 L842.2,1594.6 L844.2,1594.6 L846.2,1592.2 L848.2,1593.2 L850.2,1594.9 L852.2,1596.7 L854.2,1593.2 L856.2,1595.8 L858.2,1596.4 L860.2,1597.2 L862.3,1595.6 L864.3,1597.8 L866.3,1596.7 L868.3,1598.8 L870.4,1595.5 L872.4,1599.5 L874.4,1597.7 L876.4,1598.0 L878.5,1597.0 L880.5,1597.9 L882.5,1600.2 L884.5,1600.3 L886.6,1598.5 L888.6,1599.6 L890.6,1599.0 L892.6,1599.6 L894.7,1600.0 L896.7,1600.7 L898.7,1603.6 L900.7,1603.9 L902.7,1603.3 L904.8,1602.2 L906.8,1602.5 L908.8,1603.8 L910.8,1604.5 L912.9,1604.1 L914.9,1603.8 L916.9,1602.3 L918.9,1604.2 L921.0,1605.3 L923.0,1605.2 L925.0,1602.7 L927.0,1605.4 L929.1,1604.1 L931.1,1603.5 L933.1,1607.0 L935.1,1606.0 L937.2,1606.5 L939.2,1604.2 L941.2,1607.2 L943.2,1607.8 L945.3,1607.8 L947.3,1607.4 L949.3,1607.9 L951.4,1607.9 L953.4,1607.3 L955.4,1606.8 L957.4,1608.5 L959.5,1608.5 L961.5,1609.0 L963.5,1606.9 L965.6,1609.7 L967.6,1608.2 L969.6,1610.0 L971.7,1606.8 L973.7,1610.4 L975.7,1609.9 L977.8,1607.9 L979.8,1610.4 L981.8,1608.1 L983.8,1608.2 L985.9,1609.4 L987.9,1608.7 L989.9,1609.8 L992.0,1611.7 L994.0,1610.2" fill="none" stroke="#ff0a3a" stroke-width="8.0" stroke-linejoin="round" stroke-linecap="butt" clip-path="url(#clipCbot)" />
<path d="M184.2,1792.5 L184.5,1795.3 L184.9,1797.4 L185.2,1798.0 L185.5,1801.7 L185.9,1803.8 L186.2,1805.3 L186.6,1808.4 L186.9,1809.9 L187.2,1810.0 L187.6,1810.6 L187.9,1815.1 L188.2,1817.9 L188.6,1817.7 L188.9,1820.8 L189.3,1823.9 L189.6,1825.7 L190.1,1824.3 L190.7,1828.6 L191.2,1828.6 L191.7,1831.2 L192.2,1836.4 L192.8,1836.8 L193.3,1839.7 L193.8,1841.2 L194.1,1838.7 L194.4,1836.1 L194.6,1834.7 L194.9,1834.9 L195.2,1831.8 L195.5,1828.4 L195.8,1825.5 L196.0,1824.3 L196.3,1824.1 L196.6,1821.0 L196.9,1819.9 L197.1,1818.6 L197.4,1813.5 L197.7,1814.0 L198.0,1809.1 L198.3,1810.6 L198.5,1805.7 L198.8,1804.1 L199.1,1805.1 L199.8,1800.5 L200.5,1797.9 L201.2,1798.8 L201.9,1795.6 L202.7,1794.8 L203.4,1790.6 L204.1,1789.1 L204.8,1789.1 L205.5,1785.1 L206.8,1789.0 L208.2,1787.2 L209.5,1791.7 L210.8,1790.5 L212.1,1793.8 L213.4,1793.3 L214.8,1795.7 L216.1,1800.9 L217.8,1799.9 L219.4,1802.6 L221.1,1801.3 L222.7,1803.0 L224.4,1803.0 L226.0,1806.2 L227.7,1808.7 L229.3,1808.4 L231.0,1809.0 L232.3,1813.1 L233.5,1814.6 L234.8,1815.3 L236.1,1814.4 L237.3,1818.5 L238.6,1819.5 L239.9,1823.4 L241.2,1822.5 L242.4,1825.5 L243.7,1827.1 L245.0,1827.5 L246.4,1829.8 L247.7,1832.0 L249.1,1834.6 L250.4,1834.4 L251.7,1835.4 L253.1,1839.7 L254.4,1837.3 L256.4,1840.3 L258.4,1839.3 L260.4,1838.5 L262.4,1837.6 L264.3,1838.6 L266.3,1838.9 L268.3,1837.9 L270.3,1837.6 L272.3,1834.2 L274.3,1835.1 L276.3,1834.0 L278.2,1837.2 L280.2,1836.6 L282.2,1833.0 L284.2,1834.6 L286.2,1834.2 L288.2,1832.1 L290.2,1833.7 L292.3,1835.4 L294.3,1835.1 L296.3,1833.7 L298.3,1836.0 L300.4,1834.0 L302.4,1835.3 L304.4,1834.9 L306.4,1837.5 L308.5,1836.2 L310.5,1837.1 L312.5,1836.7 L314.5,1835.5 L316.6,1838.2 L318.6,1837.3 L320.6,1837.3 L322.6,1835.7 L324.7,1835.3 L326.7,1837.3 L328.7,1838.5 L330.7,1838.5 L332.7,1836.6 L334.8,1835.8 L336.8,1837.6 L338.8,1839.3 L340.8,1836.2 L342.9,1838.8 L344.9,1836.5 L346.9,1837.2 L348.9,1836.1 L351.0,1837.3 L353.0,1837.8 L355.0,1840.5 L357.0,1840.5 L359.1,1837.2 L361.1,1837.9 L363.1,1840.8 L365.1,1837.6 L367.2,1838.2 L369.2,1838.8 L371.2,1837.5 L373.2,1838.2 L375.2,1838.9 L377.3,1839.0 L379.3,1841.7 L381.3,1838.7 L383.3,1838.5 L385.4,1841.7 L387.4,1839.8 L389.4,1841.6 L391.4,1840.9 L393.5,1841.6 L395.5,1839.6 L397.5,1839.0 L399.5,1841.8 L401.6,1840.6 L403.6,1841.1 L405.6,1841.7 L407.6,1842.2 L409.7,1840.2 L411.7,1840.7 L413.7,1843.2 L415.7,1841.3 L417.7,1840.0 L419.7,1841.3 L421.7,1839.4 L423.8,1841.5 L425.8,1838.0 L427.8,1841.3 L429.8,1839.9 L431.8,1838.7 L433.8,1841.1 L435.8,1837.9 L437.8,1837.6 L439.8,1836.6 L441.8,1838.4 L443.9,1839.1 L445.9,1838.6 L447.9,1837.2 L449.9,1838.7 L451.9,1835.4 L453.7,1835.2 L455.4,1835.6 L457.2,1836.0 L459.0,1833.5 L460.8,1832.7 L462.5,1832.0 L464.3,1829.2 L466.1,1830.6 L467.9,1828.6 L469.6,1825.8 L471.4,1825.0 L473.2,1825.7 L474.9,1822.6 L476.7,1820.7 L478.4,1822.5 L480.1,1819.9 L481.9,1818.7 L483.6,1818.2 L485.4,1818.0 L487.1,1813.5 L488.8,1813.2 L490.6,1810.9 L492.3,1811.2 L493.7,1810.0 L495.1,1809.8 L496.5,1807.4 L497.9,1805.3 L499.4,1802.9 L500.8,1802.0 L502.2,1799.0 L503.6,1799.9 L505.0,1798.0 L506.0,1796.3 L506.9,1791.3 L507.9,1791.7 L508.9,1790.1 L509.9,1787.1 L510.8,1786.9 L511.8,1785.0 L512.8,1782.4 L513.8,1780.8 L514.7,1778.1 L515.7,1777.2 L516.3,1772.0 L517.0,1772.6 L517.6,1770.7 L518.2,1768.4 L518.9,1765.0 L519.5,1762.1 L520.1,1762.6 L520.7,1761.6 L521.4,1757.3 L522.0,1755.1 L522.2,1753.0 L522.5,1750.3 L522.7,1750.6 L523.0,1749.8 L523.2,1746.8 L523.5,1742.7 L523.7,1742.0 L524.0,1737.1 L524.2,1738.3 L524.9,1734.1 L525.5,1730.8 L526.2,1731.6 L526.9,1727.5 L527.6,1726.2 L528.2,1723.3 L528.9,1723.0 L529.6,1721.6 L530.3,1720.8 L530.9,1715.5 L531.6,1717.0 L532.3,1711.9 L532.9,1710.5 L533.6,1710.3 L534.3,1707.1 L535.0,1705.1 L535.6,1704.3 L536.3,1700.8 L537.0,1701.4 L537.7,1696.9 L538.3,1697.7 L539.0,1695.7 L539.3,1692.4 L539.6,1688.2 L539.9,1689.5 L540.2,1684.1 L540.5,1684.2 L540.8,1681.8 L541.1,1678.2 L541.4,1678.7 L541.7,1677.1 L542.0,1674.4 L542.4,1671.6 L542.7,1670.1 L543.0,1668.4 L543.3,1664.8 L543.6,1665.6 L543.9,1664.1 L544.2,1661.2 L544.5,1659.9 L544.8,1655.1 L545.1,1656.0 L545.4,1649.9 L545.9,1649.7 L546.5,1646.2 L547.0,1645.6 L547.5,1644.7 L548.1,1642.8 L548.6,1639.7 L549.1,1637.2 L549.6,1634.5 L550.2,1633.5 L550.7,1631.0 L551.2,1628.6 L551.8,1629.0 L552.3,1626.0 L552.8,1623.7 L553.4,1620.7 L553.9,1620.9 L554.3,1616.6 L554.7,1614.9 L555.1,1614.2 L555.5,1612.8 L555.9,1612.0 L556.3,1608.9 L556.7,1607.8 L557.1,1605.7 L557.5,1602.8 L557.9,1600.7 L558.4,1595.8 L558.8,1594.4 L559.2,1591.5 L559.6,1593.3 L560.0,1590.6 L560.4,1588.2 L560.8,1584.6 L561.2,1582.9 L561.6,1580.1 L562.0,1580.1 L562.4,1579.7 L562.8,1574.6 L563.2,1571.4 L563.6,1570.0 L564.0,1568.8 L564.4,1569.1 L564.8,1566.7 L565.2,1563.1 L565.6,1559.6 L566.0,1557.6 L566.4,1555.7 L566.9,1556.5 L567.3,1553.1 L567.7,1553.3 L568.1,1551.0 L568.5,1548.4 L568.9,1545.0 L569.3,1544.5 L569.7,1539.4 L570.1,1537.3 L570.5,1537.3 L570.9,1535.0 L571.3,1531.7 L571.7,1529.9 L572.1,1526.9 L572.5,1528.8 L572.9,1526.0 L573.3,1525.0 L573.7,1523.2 L574.1,1518.8 L574.5,1518.1 L574.9,1514.6 L575.3,1514.4 L575.7,1512.6 L576.1,1507.5 L576.5,1504.9 L576.9,1503.8 L577.3,1503.5 L578.0,1500.6 L578.6,1497.0 L579.3,1498.6 L579.9,1496.4 L580.6,1493.0 L581.3,1489.1 L581.9,1490.9 L582.6,1487.3 L583.3,1483.3 L583.9,1482.4 L584.6,1481.7 L585.2,1480.9 L585.9,1477.1 L586.6,1475.8 L587.2,1471.9 L587.9,1470.1 L589.5,1471.2 L591.1,1467.0 L592.7,1464.0 L594.0,1464.4 L595.3,1460.7 L596.5,1459.3 L597.8,1458.7 L599.1,1457.6 L600.4,1456.1 L601.7,1454.7 L602.9,1451.8 L604.2,1448.5 L605.5,1449.7 L606.1,1448.7 L606.7,1452.4 L607.2,1454.1 L607.8,1457.2 L608.4,1459.3 L609.0,1459.2 L609.6,1462.9 L610.2,1465.0 L610.7,1466.0 L611.3,1466.5 L611.9,1471.8 L613.2,1472.0 L614.5,1471.3 L615.9,1472.4 L617.2,1480.7 L618.5,1475.5 L619.9,1478.6 L621.2,1483.7 L622.5,1485.6 L623.9,1485.7 L625.3,1488.4 L626.8,1483.8 L628.2,1486.1 L629.6,1495.8 L631.0,1496.0 L631.4,1491.1 L631.9,1493.2 L632.3,1496.9 L632.7,1505.1 L633.1,1500.7 L633.6,1506.8 L634.0,1511.1 L634.4,1510.4 L634.8,1515.0 L635.3,1511.0 L635.7,1512.0 L636.1,1512.8 L636.5,1521.4 L637.0,1517.5 L637.4,1527.4 L638.9,1526.5 L640.4,1523.3 L641.9,1530.4 L643.5,1526.1 L645.0,1530.8 L646.5,1528.6 L648.0,1536.3 L650.1,1537.7 L652.2,1538.5 L654.4,1530.8 L656.5,1539.0 L658.6,1536.8 L660.8,1539.7 L662.9,1537.4 L665.0,1539.0 L665.6,1536.8 L666.2,1536.6 L666.7,1528.1 L667.3,1525.9 L667.9,1528.4 L668.5,1524.1 L669.1,1523.0 L669.7,1517.5 L670.2,1522.2 L670.8,1513.7 L671.4,1519.0 L672.3,1520.6 L673.2,1519.3 L674.0,1518.1 L674.9,1524.7 L675.8,1522.5 L676.7,1526.3 L677.6,1525.3 L678.5,1534.9 L679.4,1532.8 L680.2,1532.9 L681.1,1532.4 L682.0,1540.0 L683.4,1539.3 L684.8,1537.5 L686.2,1529.0 L687.7,1529.6 L689.1,1527.3 L690.5,1529.7 L692.6,1524.5 L694.7,1529.0 L696.9,1532.7 L699.0,1531.1 L701.1,1525.9 L703.2,1526.7 L704.4,1528.7 L705.5,1534.1 L706.7,1535.3 L707.9,1536.5 L709.0,1537.8 L710.2,1539.3 L711.3,1542.3 L712.5,1544.3 L713.7,1547.8 L714.8,1548.3 L716.0,1550.5 L717.2,1552.9 L718.4,1554.1 L719.6,1555.0 L720.9,1552.3 L722.1,1558.1 L723.3,1560.8 L724.5,1559.8 L725.7,1564.3 L726.9,1561.5 L728.1,1568.1 L729.4,1566.5 L730.6,1569.9 L731.8,1568.7 L733.0,1570.6 L734.2,1569.3 L735.4,1567.5 L736.5,1564.4 L737.7,1565.0 L738.9,1566.8 L740.1,1563.0 L741.2,1563.2 L742.4,1560.4 L743.6,1559.3 L744.2,1562.2 L744.9,1562.5 L745.5,1561.4 L746.2,1563.1 L746.8,1566.1 L747.4,1565.5 L748.1,1568.7 L748.7,1574.9 L749.4,1577.0 L750.0,1575.1 L751.0,1579.9 L751.9,1581.8 L752.9,1584.5 L753.9,1585.8 L754.8,1586.0 L755.8,1585.2 L756.7,1591.8 L757.7,1590.4 L758.7,1594.4 L759.6,1594.6 L760.6,1597.6 L761.6,1602.3 L762.5,1599.1 L763.5,1603.4 L764.5,1606.1 L765.4,1607.3 L766.4,1611.8 L767.3,1610.4 L768.3,1615.5 L769.3,1616.0 L770.2,1619.8 L771.2,1616.1 L772.5,1618.6 L773.8,1620.7 L775.0,1626.4 L776.3,1622.4 L777.6,1625.7 L778.9,1630.3 L780.2,1633.7 L781.4,1630.2 L782.7,1633.6 L784.0,1636.9 L785.2,1638.6 L786.4,1640.6 L787.7,1642.3 L788.9,1640.7 L790.1,1642.4 L791.3,1642.6 L792.6,1648.5 L793.8,1647.1 L795.0,1649.0 L796.2,1655.2 L797.5,1654.8 L798.7,1656.1 L799.9,1658.2 L801.3,1659.5 L802.6,1661.7 L804.0,1661.2 L805.4,1661.6 L806.8,1663.3 L808.1,1664.8 L809.5,1668.4 L811.1,1668.5 L812.7,1669.7 L814.3,1673.2 L815.9,1677.2 L817.5,1676.9 L819.1,1675.9 L820.7,1680.0 L822.3,1678.1 L823.9,1679.0 L825.6,1681.2 L827.4,1682.9 L829.1,1685.5 L830.9,1685.3 L832.6,1687.9 L834.4,1685.5 L836.1,1691.3 L837.9,1689.0 L839.6,1692.9 L841.4,1689.5 L843.1,1695.0 L845.0,1692.5 L846.9,1696.8 L848.9,1697.3 L850.8,1697.4 L852.7,1696.0 L854.6,1695.3 L856.5,1697.1 L858.5,1701.9 L860.4,1698.5 L862.3,1702.1 L864.2,1702.5 L866.1,1703.7 L868.1,1701.8 L870.0,1702.4 L871.9,1702.9 L873.9,1708.3 L875.9,1705.3 L877.9,1707.3 L879.9,1707.2 L881.9,1705.7 L883.9,1705.2 L885.9,1705.3 L887.9,1710.4 L889.9,1706.7 L891.9,1711.8 L893.9,1708.8 L895.9,1711.2 L897.9,1708.5 L899.9,1712.7 L901.9,1710.2 L903.9,1711.4 L905.9,1712.8 L907.9,1711.0 L909.9,1712.3 L911.9,1715.9 L913.9,1713.6 L915.9,1714.7 L917.9,1717.3 L919.9,1714.9 L921.9,1715.2 L923.9,1715.9 L925.9,1717.4 L927.9,1717.8 L929.9,1719.9 L931.9,1719.4 L933.9,1721.1 L935.9,1715.9 L937.9,1718.7 L939.9,1719.1 L941.9,1715.1 L943.9,1713.4 L945.9,1715.1 L947.9,1712.6 L949.9,1714.0 L951.9,1714.8 L953.9,1710.7 L955.9,1710.3 L957.9,1712.4 L959.9,1710.8 L961.9,1711.3 L963.9,1712.6 L965.9,1710.9 L967.9,1710.7 L969.9,1712.5 L971.9,1713.2 L973.9,1716.0 L976.0,1714.0 L978.0,1711.4 L980.0,1712.4 L982.0,1715.4 L984.0,1714.5 L986.0,1716.4 L988.0,1717.0 L990.0,1716.6 L992.0,1712.5 L994.0,1714.8" fill="none" stroke="#1466e6" stroke-width="8.0" stroke-linejoin="round" stroke-linecap="butt" clip-path="url(#clipCbot)" />
<path d="M184.2,2058.1 L186.3,2058.9 L188.4,2058.1 L190.6,2057.6 L192.7,2057.5 L194.5,2057.5 L196.3,2055.1 L198.1,2053.6 L199.8,2052.7 L201.6,2052.6 L203.4,2050.5 L205.5,2051.2 L207.6,2050.3 L209.8,2051.2 L211.9,2051.2 L214.0,2051.2 L216.1,2052.3 L218.3,2052.0 L220.4,2051.8 L222.5,2053.6 L224.6,2052.9 L226.7,2052.6 L228.9,2052.6 L231.0,2054.0 L233.1,2054.0 L235.2,2053.3 L237.4,2054.4 L239.5,2055.1 L241.6,2055.0 L243.7,2054.7 L245.9,2055.4 L248.0,2055.8 L250.1,2056.2 L252.2,2055.2 L254.2,2056.4 L256.2,2056.6 L258.3,2056.2 L260.4,2056.4 L262.4,2055.4 L264.4,2056.4 L266.5,2055.0 L268.6,2055.1 L270.6,2055.7 L272.6,2056.2 L274.7,2054.7 L276.8,2054.9 L278.8,2054.6 L280.9,2055.3 L282.9,2054.7 L284.9,2054.7 L287.0,2055.7 L289.1,2055.4 L291.1,2056.0 L293.1,2055.0 L295.2,2055.4 L297.2,2054.2 L299.3,2055.8 L301.4,2054.5 L303.4,2054.9 L305.4,2055.0 L307.5,2055.7 L309.6,2054.9 L311.6,2055.7 L313.7,2055.0 L315.7,2054.2 L317.8,2055.3 L319.8,2054.2 L321.9,2055.6 L323.9,2054.5 L326.0,2054.1 L328.0,2055.4 L330.1,2054.2 L332.2,2054.3 L334.2,2054.2 L336.3,2054.7 L338.3,2053.5 L340.4,2054.1 L342.4,2053.7 L344.5,2054.9 L346.5,2053.3 L348.6,2054.4 L350.7,2053.7 L352.7,2054.0 L354.8,2054.2 L356.8,2054.4 L358.9,2053.4 L360.9,2053.5 L363.0,2053.3 L365.0,2054.7 L367.1,2053.2 L369.1,2053.2 L371.2,2053.8 L373.2,2053.9 L375.3,2054.3 L377.3,2052.8 L379.4,2053.0 L381.4,2052.8 L383.5,2053.5 L385.5,2053.1 L387.5,2053.0 L389.6,2053.8 L391.6,2053.3 L393.7,2053.6 L395.7,2053.7 L397.8,2052.3 L399.8,2053.5 L401.8,2052.4 L403.9,2051.7 L405.9,2053.2 L408.0,2051.6 L410.0,2051.4 L412.0,2051.8 L414.1,2051.7 L416.1,2052.9 L418.2,2052.6 L420.2,2051.7 L422.3,2051.8 L424.3,2052.3 L426.4,2051.9 L428.5,2051.3 L430.7,2050.7 L432.8,2049.7 L434.9,2049.6 L437.0,2050.0 L439.2,2049.5 L441.3,2049.6 L443.4,2049.4 L445.5,2049.2 L447.7,2047.5 L449.8,2047.0 L451.9,2048.1 L453.8,2046.6 L455.8,2044.9 L457.7,2044.9 L459.6,2043.1 L461.6,2042.1 L463.5,2041.4 L465.5,2040.7 L467.4,2040.0 L469.3,2038.0 L471.3,2038.2 L473.2,2037.0 L474.8,2035.2 L476.4,2033.9 L478.0,2032.6 L479.5,2029.6 L481.1,2028.8 L482.7,2027.6 L484.3,2026.1 L485.9,2024.4 L486.9,2021.7 L487.9,2021.3 L488.9,2019.2 L489.8,2016.4 L490.8,2015.0 L491.8,2014.1 L492.8,2011.0 L493.8,2009.5 L494.8,2008.7 L495.7,2006.8 L496.7,2003.8 L497.7,2002.9 L498.7,2000.4 L499.5,1999.0 L500.3,1997.3 L501.1,1994.1 L502.0,1992.4 L502.8,1990.4 L503.6,1988.5 L504.4,1986.1 L505.2,1984.4 L506.0,1982.9 L506.9,1980.9 L507.7,1978.4 L508.5,1977.3 L509.3,1976.0 L509.9,1973.4 L510.5,1971.0 L511.1,1969.7 L511.7,1967.2 L512.3,1964.8 L512.9,1963.3 L513.5,1960.5 L514.2,1959.7 L514.8,1956.8 L515.4,1955.3 L516.0,1954.3 L516.6,1952.0 L517.2,1950.2 L517.8,1947.9 L518.3,1945.9 L518.7,1944.0 L519.2,1942.5 L519.6,1939.2 L520.1,1938.2 L520.5,1935.4 L521.0,1933.4 L521.5,1932.4 L521.9,1930.0 L522.4,1928.5 L522.8,1926.6 L523.3,1924.1 L523.7,1921.4 L524.2,1919.1 L524.7,1918.1 L525.2,1916.5 L525.7,1913.7 L526.1,1911.4 L526.6,1909.3 L527.1,1907.6 L527.6,1906.6 L528.1,1903.4 L528.6,1901.9 L529.0,1900.0 L529.5,1898.8 L530.0,1897.3 L530.5,1893.6 L531.0,1891.8 L531.6,1891.3 L532.1,1889.4 L532.6,1885.9 L533.2,1884.2 L533.7,1882.6 L534.2,1880.2 L534.8,1878.4 L535.3,1876.5 L535.8,1874.1 L536.3,1871.8 L536.9,1869.8 L537.4,1868.0 L537.9,1865.9 L538.5,1864.8 L539.0,1863.0 L539.5,1860.2 L539.9,1859.2 L540.4,1857.1 L540.8,1854.4 L541.3,1852.7 L541.7,1850.2 L542.2,1849.6 L542.7,1846.9 L543.1,1844.0 L543.6,1842.3 L544.0,1841.3 L544.5,1838.7 L544.9,1837.4 L545.4,1834.5 L545.8,1833.5 L546.2,1831.6 L546.6,1828.3 L547.0,1827.2 L547.4,1824.5 L547.8,1823.4 L548.2,1821.6 L548.6,1819.6 L549.0,1816.6 L549.4,1814.3 L549.8,1813.4 L550.2,1811.2 L550.6,1808.4 L551.0,1806.5 L551.4,1805.2 L551.8,1802.4 L552.6,1801.4 L553.3,1798.8 L554.1,1796.9 L554.9,1795.3 L555.7,1793.5 L556.4,1791.9 L557.2,1788.8 L558.0,1788.1 L558.8,1785.3 L559.5,1783.5 L560.3,1782.2 L560.7,1780.3 L561.1,1778.1 L561.5,1776.7 L561.9,1773.4 L562.3,1771.6 L562.8,1770.2 L563.2,1767.5 L563.6,1765.4 L564.0,1763.5 L564.4,1762.5 L564.8,1760.6 L565.3,1758.3 L565.8,1756.6 L566.3,1754.2 L566.8,1751.3 L567.3,1749.2 L567.8,1747.8 L568.3,1744.5 L568.8,1743.4 L568.9,1740.5 L569.0,1738.4 L569.1,1737.2 L569.3,1734.6 L569.4,1734.0 L569.5,1731.9 L569.6,1729.1 L570.2,1730.8 L570.8,1732.7 L571.4,1735.5 L572.0,1737.6 L572.6,1739.5 L573.2,1742.2 L573.8,1744.0 L574.4,1746.5 L576.9,1743.9 L579.4,1742.4 L580.3,1741.2 L581.2,1739.5 L582.2,1737.2 L583.1,1736.1 L584.0,1733.5 L585.2,1735.5 L586.4,1737.6 L587.6,1739.8 L588.8,1741.7 L589.4,1743.1 L590.0,1745.3 L590.6,1748.3 L591.2,1750.4 L591.8,1751.9 L592.4,1753.1 L593.0,1755.8 L593.6,1758.2 L593.8,1759.7 L593.9,1761.3 L594.1,1765.1 L594.2,1767.1 L594.4,1767.7 L594.6,1770.4 L594.7,1772.8 L594.9,1774.3 L595.0,1775.9 L595.2,1779.3 L595.4,1781.4 L595.5,1782.8 L595.7,1784.3 L595.8,1786.9 L596.0,1788.5 L597.0,1792.0 L597.9,1792.2 L598.9,1794.6 L599.8,1797.4 L600.8,1798.1 L601.2,1800.1 L601.6,1802.1 L601.9,1804.2 L602.3,1806.9 L602.7,1809.5 L603.1,1810.3 L603.5,1812.3 L603.8,1815.4 L604.2,1816.8 L604.6,1818.7 L605.0,1820.3 L605.3,1822.5 L605.7,1825.9 L606.1,1826.3 L606.5,1828.6 L606.9,1831.5 L607.2,1833.8 L607.6,1835.8 L608.0,1837.1 L608.2,1840.0 L608.5,1841.4 L608.7,1842.8 L609.0,1845.2 L609.2,1847.7 L609.4,1849.8 L609.7,1850.7 L609.9,1852.9 L610.2,1856.3 L610.4,1856.8 L610.6,1860.1 L610.9,1861.3 L611.1,1863.2 L611.4,1865.2 L611.6,1867.6 L611.8,1870.6 L612.1,1871.1 L612.3,1874.5 L612.6,1875.5 L612.8,1877.3 L613.1,1880.3 L613.3,1881.6 L613.6,1883.3 L613.9,1885.8 L614.1,1888.5 L614.4,1890.6 L614.7,1892.0 L614.9,1893.0 L615.2,1896.4 L615.5,1898.1 L615.7,1900.6 L616.0,1902.7 L616.3,1903.6 L616.5,1906.5 L616.8,1908.5 L617.1,1909.5 L617.3,1911.7 L617.6,1913.7 L617.9,1915.6 L618.1,1917.7 L618.4,1919.2 L618.7,1921.4 L618.9,1924.6 L619.2,1925.7 L619.5,1928.1 L619.7,1930.6 L620.0,1932.4 L620.3,1933.4 L620.5,1936.7 L620.8,1938.4 L621.1,1940.8 L621.3,1942.3 L621.6,1944.4 L621.9,1946.5 L622.1,1947.5 L622.4,1950.2 L622.8,1951.7 L623.2,1954.5 L623.6,1955.2 L624.0,1958.0 L624.4,1959.6 L624.8,1962.5 L625.2,1963.6 L625.6,1966.5 L626.0,1968.5 L626.4,1970.6 L626.8,1971.3 L627.2,1974.7 L627.6,1976.3 L628.0,1978.2 L628.4,1980.2 L628.8,1981.1 L629.2,1984.6 L629.6,1986.0 L630.4,1987.8 L631.2,1989.6 L632.0,1992.4 L632.8,1994.4 L633.6,1996.6 L634.4,1997.4 L635.2,1999.6 L636.0,2001.4 L636.8,2003.2 L637.6,2005.6 L638.4,2007.0 L639.2,2010.4 L640.9,2010.6 L642.6,2011.5 L644.2,2012.7 L645.9,2015.1 L647.6,2015.4 L649.3,2017.0 L651.0,2018.1 L652.6,2020.0 L654.3,2021.5 L656.0,2021.6 L658.0,2022.4 L660.0,2023.2 L662.0,2022.7 L664.0,2023.8 L666.0,2023.8 L668.0,2023.4 L670.0,2024.7 L672.0,2024.4 L674.0,2023.9 L676.0,2025.1 L678.0,2025.8 L680.0,2025.5 L682.1,2025.0 L684.1,2024.3 L686.2,2024.6 L688.2,2023.7 L690.3,2022.4 L692.3,2022.2 L694.4,2021.7 L696.4,2022.0 L698.3,2020.7 L700.3,2018.9 L702.3,2019.6 L704.2,2017.2 L706.2,2017.5 L708.1,2016.4 L710.1,2016.2 L712.1,2014.9 L714.0,2013.5 L716.0,2013.5 L718.1,2013.8 L720.2,2013.4 L722.3,2012.3 L724.4,2011.8 L726.4,2012.4 L728.5,2012.2 L730.6,2010.9 L732.7,2011.8 L734.8,2012.2 L736.8,2011.3 L738.9,2011.4 L740.9,2012.2 L743.0,2012.7 L745.0,2011.6 L747.1,2011.9 L749.2,2012.6 L751.3,2013.9 L753.4,2013.5 L755.5,2014.8 L757.6,2015.3 L759.7,2016.2 L761.8,2015.9 L763.9,2017.9 L765.9,2018.6 L767.9,2018.4 L769.9,2019.4 L771.9,2018.9 L773.9,2020.8 L775.9,2020.8 L777.9,2021.8 L779.9,2022.6 L781.9,2022.3 L783.9,2023.9 L785.9,2023.2 L787.9,2023.4 L789.9,2024.6 L791.9,2025.6 L793.9,2025.8 L795.9,2026.2 L797.9,2025.7 L799.9,2026.7 L801.9,2026.3 L803.9,2025.8 L805.9,2026.9 L807.9,2027.5 L809.9,2027.1 L811.9,2027.7 L813.9,2027.3 L815.9,2027.6 L817.9,2028.2 L819.9,2028.6 L821.9,2028.8 L823.9,2028.4 L825.9,2028.2 L827.9,2028.8 L829.9,2029.5 L831.9,2029.5 L833.9,2028.6 L835.9,2028.7 L837.9,2029.1 L839.9,2028.5 L841.9,2029.3 L843.9,2029.8 L845.9,2028.6 L847.9,2029.3 L849.9,2029.5 L851.9,2029.5 L853.9,2029.5 L855.9,2029.5 L857.9,2028.7 L859.9,2029.7 L861.9,2029.9 L863.9,2028.3 L865.9,2029.9 L867.9,2029.0 L869.9,2028.4 L871.9,2028.3 L873.9,2029.6 L875.9,2029.3 L877.9,2028.3 L879.9,2028.8 L881.9,2029.1 L883.9,2029.7 L885.9,2028.5 L887.9,2029.2 L889.9,2028.2 L891.9,2028.1 L893.9,2027.9 L895.9,2028.3 L897.9,2028.7 L899.9,2028.0 L901.9,2027.7 L903.9,2027.8 L905.9,2027.5 L907.9,2027.6 L909.9,2027.8 L911.9,2028.1 L913.9,2027.5 L915.9,2028.0 L917.9,2027.8 L919.9,2028.8 L921.9,2027.8 L923.9,2028.6 L925.9,2027.7 L927.9,2027.2 L929.9,2027.8 L931.9,2027.0 L933.9,2027.0 L935.9,2026.7 L937.9,2027.8 L939.9,2028.2 L941.9,2027.2 L943.9,2027.0 L945.9,2027.1 L947.9,2026.9 L949.9,2027.5 L951.9,2026.9 L953.9,2026.4 L955.9,2027.7 L957.9,2027.1 L959.9,2026.0 L961.9,2027.5 L963.9,2027.2 L965.9,2026.5 L967.9,2026.9 L969.9,2027.6 L971.9,2026.9 L973.9,2027.1 L975.9,2027.1 L977.9,2027.7 L979.9,2028.1 L982.0,2028.4 L984.0,2029.0 L986.0,2027.7 L988.0,2028.3 L990.0,2029.4 L992.0,2029.4 L994.0,2029.1" fill="none" stroke="#a61ed3" stroke-width="8.0" stroke-linejoin="round" stroke-linecap="butt" clip-path="url(#clipCbot)" />
<path d="M1229.2,842.5 L1229.3,844.8 L1229.4,847.1 L1229.5,848.1 L1229.6,852.0 L1229.7,852.8 L1229.8,854.3 L1229.9,855.7 L1230.0,857.5 L1230.1,862.0 L1230.2,863.7 L1230.4,863.2 L1230.5,866.2 L1230.6,868.7 L1230.7,870.8 L1230.8,872.4 L1230.9,876.1 L1231.0,876.4 L1231.1,879.0 L1231.2,882.3 L1231.3,883.4 L1231.4,884.9 L1231.5,886.5 L1231.6,888.7 L1231.6,891.5 L1231.7,894.1 L1231.8,894.4 L1231.9,896.8 L1232.0,898.9 L1232.0,900.9 L1232.1,904.7 L1232.2,905.5 L1232.3,906.7 L1232.4,909.0 L1232.5,912.6 L1232.5,912.5 L1232.6,916.2 L1232.7,916.1 L1232.8,918.7 L1232.9,920.4 L1232.9,924.8 L1233.0,924.7 L1233.1,927.0 L1233.2,928.5 L1233.3,931.2 L1233.3,934.8 L1233.4,936.8 L1233.5,939.4 L1233.7,941.5 L1233.9,942.3 L1234.1,945.4 L1234.3,944.8 L1234.5,949.4 L1234.7,949.9 L1234.9,951.1 L1235.1,954.8 L1235.3,957.2 L1235.5,957.7 L1235.7,958.7 L1235.9,963.2 L1236.1,964.8 L1236.3,966.3 L1236.5,969.5 L1236.7,968.5 L1236.9,970.6 L1237.1,972.8 L1237.4,974.5 L1237.6,978.7 L1237.8,980.5 L1238.0,980.8 L1238.2,983.0 L1238.5,985.1 L1238.7,988.4 L1238.9,990.7 L1239.1,993.6 L1239.4,993.7 L1239.6,997.7 L1239.8,997.9 L1240.0,999.8 L1240.2,1001.4 L1240.5,1003.3 L1240.7,1007.7 L1240.9,1009.8 L1241.6,1010.8 L1242.3,1011.1 L1243.0,1013.1 L1243.6,1015.0 L1244.3,1017.6 L1245.0,1020.8 L1245.7,1020.6 L1246.4,1024.1 L1247.1,1026.5 L1247.8,1026.4 L1248.4,1029.7 L1249.1,1032.8 L1249.8,1034.1 L1250.5,1035.6 L1251.6,1038.7 L1252.6,1039.5 L1253.7,1040.4 L1254.7,1042.3 L1255.8,1045.7 L1256.9,1047.2 L1257.9,1049.0 L1259.0,1049.6 L1260.0,1050.0 L1261.1,1051.8 L1262.3,1054.4 L1263.6,1057.3 L1264.8,1057.1 L1266.1,1061.6 L1267.3,1063.5 L1268.6,1064.5 L1269.2,1060.9 L1269.8,1061.4 L1270.4,1058.2 L1271.0,1057.0 L1271.5,1054.7 L1272.1,1053.2 L1272.7,1050.1 L1273.3,1049.9 L1273.9,1047.9 L1274.8,1049.6 L1275.7,1050.4 L1276.6,1051.3 L1277.5,1053.3 L1278.4,1054.8 L1279.3,1058.7 L1280.2,1060.1 L1281.9,1061.4 L1283.6,1062.8 L1285.3,1064.6 L1287.0,1064.9 L1288.7,1065.0 L1290.1,1065.0 L1291.5,1062.0 L1293.0,1061.7 L1294.4,1058.8 L1295.8,1059.7 L1297.2,1057.1 L1298.4,1054.6 L1299.6,1054.8 L1300.8,1050.3 L1302.1,1051.2 L1303.3,1048.8 L1304.5,1045.0 L1305.7,1045.1 L1306.5,1042.6 L1307.3,1041.7 L1308.2,1038.7 L1309.0,1036.2 L1309.8,1035.9 L1310.6,1031.2 L1311.5,1031.5 L1312.3,1027.3 L1313.1,1025.9 L1313.9,1023.4 L1314.8,1023.9 L1315.6,1020.6 L1316.4,1019.5 L1316.9,1016.0 L1317.3,1015.6 L1317.8,1013.4 L1318.2,1009.6 L1318.7,1008.9 L1319.1,1007.7 L1319.6,1004.1 L1320.0,1003.5 L1320.5,1000.3 L1320.9,998.7 L1321.4,998.5 L1321.8,996.6 L1322.2,994.8 L1322.7,991.0 L1323.2,989.5 L1323.7,988.3 L1324.2,986.1 L1324.7,983.2 L1325.2,982.6 L1325.7,979.1 L1326.1,978.9 L1326.6,975.4 L1327.1,972.3 L1327.6,972.4 L1328.1,968.5 L1328.6,968.2 L1329.1,964.3 L1329.3,965.3 L1329.6,961.8 L1329.8,960.4 L1330.0,956.5 L1330.2,956.1 L1330.5,953.2 L1330.7,950.8 L1330.9,950.6 L1331.1,946.1 L1331.4,945.5 L1331.6,942.3 L1331.8,942.7 L1332.0,940.8 L1332.3,936.1 L1332.5,935.4 L1332.7,933.4 L1332.9,932.2 L1333.2,930.2 L1333.4,927.0 L1333.8,926.9 L1334.3,922.5 L1334.7,920.3 L1335.2,920.4 L1335.6,916.2 L1336.1,914.4 L1336.5,913.4 L1336.9,910.8 L1337.4,908.3 L1337.8,908.7 L1338.3,905.2 L1338.7,904.2 L1339.1,900.5 L1339.6,900.6 L1340.0,896.4 L1340.5,896.5 L1340.9,893.6 L1341.4,892.7 L1341.8,890.1 L1342.4,887.6 L1342.9,885.3 L1343.5,884.4 L1344.1,881.1 L1344.6,878.0 L1345.2,878.6 L1345.8,876.3 L1346.3,873.9 L1346.9,872.2 L1347.5,868.5 L1348.0,867.3 L1348.6,866.5 L1349.2,864.9 L1349.7,862.8 L1350.3,858.4 L1350.9,858.2 L1351.5,855.8 L1352.0,853.4 L1352.6,850.7 L1353.2,848.7 L1353.8,847.8 L1354.4,845.9 L1355.0,843.3 L1355.5,841.6 L1356.1,840.3 L1356.7,839.0 L1358.4,837.3 L1360.0,834.8 L1361.7,835.9 L1363.3,833.1 L1365.0,833.8 L1366.6,832.7 L1368.3,828.8 L1369.9,829.0 L1371.6,829.1 L1372.9,828.8 L1374.2,831.0 L1375.6,831.8 L1376.9,832.5 L1378.2,834.7 L1379.5,836.0 L1380.9,838.1 L1382.2,840.8 L1383.6,842.2 L1385.0,845.1 L1386.5,845.9 L1387.9,846.5 L1389.3,850.1 L1390.7,850.7 L1392.2,852.0 L1393.6,854.7 L1395.0,855.7 L1395.9,856.7 L1396.8,859.4 L1397.7,860.4 L1398.5,864.5 L1399.4,864.1 L1400.3,868.4 L1401.2,867.5 L1402.1,869.2 L1402.9,872.9 L1403.8,873.8 L1404.7,876.7 L1405.6,877.4 L1406.4,881.6 L1407.1,883.1 L1407.9,885.1 L1408.6,887.9 L1409.4,890.0 L1410.1,891.0 L1410.9,893.1 L1411.7,892.8 L1412.4,894.9 L1413.2,898.1 L1413.9,901.8 L1414.7,901.7 L1415.4,904.4 L1416.2,904.6 L1417.5,907.6 L1418.8,910.9 L1420.0,911.6 L1421.3,914.0 L1422.6,913.1 L1423.9,915.4 L1425.2,917.1 L1426.4,920.9 L1427.7,920.2 L1429.0,924.6 L1429.7,920.3 L1430.3,920.2 L1431.0,916.9 L1431.7,914.1 L1432.3,914.1 L1433.0,910.1 L1433.6,909.0 L1434.3,904.8 L1434.5,909.4 L1434.7,912.0 L1435.0,911.3 L1435.2,915.5 L1435.4,916.1 L1435.6,917.8 L1435.8,920.7 L1436.1,923.7 L1436.3,926.8 L1436.5,929.1 L1436.7,931.2 L1437.0,932.1 L1437.2,934.4 L1437.4,934.9 L1438.4,938.5 L1439.4,939.7 L1440.4,940.9 L1441.3,944.4 L1442.3,944.2 L1443.3,945.6 L1444.3,947.5 L1445.3,949.2 L1446.3,952.4 L1447.2,954.9 L1448.2,954.6 L1449.2,957.5 L1450.2,959.5 L1451.5,961.2 L1452.7,962.4 L1454.0,964.5 L1455.3,964.5 L1456.6,966.4 L1457.8,969.3 L1459.1,970.4 L1460.4,973.7 L1461.6,973.8 L1462.9,977.3 L1463.8,977.4 L1464.6,978.8 L1465.5,982.0 L1466.3,983.6 L1467.2,985.4 L1468.0,988.7 L1468.9,988.9 L1469.7,992.2 L1470.6,994.7 L1471.4,995.3 L1473.2,996.6 L1475.0,999.0 L1476.8,999.0 L1478.5,998.7 L1480.3,999.4 L1482.1,1000.5 L1482.9,1003.2 L1483.8,1004.3 L1484.6,1008.0 L1485.5,1009.2 L1486.3,1010.8 L1487.2,1013.4 L1488.0,1016.6 L1488.9,1016.3 L1489.8,1018.0 L1490.6,1020.4 L1492.2,1021.8 L1493.9,1025.1 L1495.5,1025.9 L1497.2,1026.4 L1498.8,1027.0 L1500.5,1028.0 L1502.1,1029.7 L1503.8,1033.4 L1505.4,1034.2 L1506.7,1034.2 L1508.0,1037.4 L1509.3,1037.2 L1510.6,1040.2 L1511.9,1041.3 L1513.2,1042.2 L1514.6,1045.9 L1515.9,1047.4 L1517.2,1048.4 L1518.5,1048.9 L1519.8,1052.2 L1521.1,1053.1 L1522.4,1055.4 L1523.5,1055.3 L1524.7,1059.6 L1525.8,1058.4 L1526.9,1060.8 L1528.1,1063.1 L1529.2,1064.1 L1530.3,1065.5 L1531.5,1069.1 L1532.6,1071.8 L1533.7,1071.4 L1534.9,1072.9 L1536.0,1075.8 L1537.1,1076.1 L1538.3,1078.4 L1539.4,1081.0 L1540.8,1081.7 L1542.1,1082.4 L1543.5,1083.7 L1544.8,1086.7 L1546.2,1089.7 L1547.5,1091.0 L1548.9,1089.9 L1550.2,1092.8 L1551.6,1094.3 L1552.9,1094.9 L1554.3,1097.9 L1555.8,1098.9 L1557.3,1101.4 L1558.8,1101.2 L1560.3,1104.7 L1561.8,1105.9 L1563.2,1106.3 L1564.7,1106.7 L1566.2,1109.3 L1567.7,1109.6 L1569.2,1112.9 L1570.7,1114.5 L1572.3,1115.6 L1573.8,1118.4 L1575.4,1116.9 L1576.9,1120.6 L1578.5,1122.4 L1580.0,1121.7 L1581.6,1123.9 L1583.1,1124.5 L1584.7,1127.7 L1586.2,1129.7 L1587.6,1129.9 L1589.0,1132.5 L1590.5,1132.8 L1591.9,1135.3 L1593.3,1135.4 L1594.7,1139.0 L1596.1,1138.7 L1597.5,1138.7 L1599.0,1140.4 L1600.4,1143.9 L1601.8,1145.8 L1603.2,1146.4 L1604.3,1146.6 L1605.3,1150.6 L1606.4,1151.9 L1607.4,1151.7 L1608.5,1154.2 L1609.5,1156.9 L1610.6,1156.5 L1611.7,1158.3 L1612.7,1161.0 L1613.8,1164.4 L1614.8,1166.5 L1615.9,1166.1 L1616.9,1169.7 L1618.0,1171.0 L1619.5,1172.8 L1621.0,1173.4 L1622.5,1176.1 L1624.0,1176.5 L1625.5,1179.0 L1626.9,1179.3 L1628.4,1179.6 L1629.9,1182.1 L1631.4,1183.5 L1632.9,1184.5 L1634.4,1186.1 L1635.9,1188.1 L1637.4,1189.9 L1638.8,1190.2 L1640.3,1191.9 L1641.8,1194.1 L1643.3,1195.7 L1644.8,1196.9 L1646.3,1199.2 L1647.7,1199.2 L1649.2,1201.9 L1650.7,1202.6 L1652.2,1205.7 L1653.9,1206.6 L1655.5,1208.0 L1657.2,1208.3 L1658.8,1208.6 L1660.5,1211.9 L1662.1,1211.8 L1663.8,1212.5 L1665.4,1213.4 L1667.1,1214.9 L1668.7,1217.0 L1670.4,1218.5 L1672.0,1218.6 L1673.7,1220.5 L1675.2,1220.3 L1676.8,1222.4 L1678.3,1223.5 L1679.8,1224.7 L1681.4,1226.3 L1682.9,1228.9 L1684.5,1230.2 L1686.0,1229.9 L1687.5,1231.4 L1689.1,1234.6 L1690.6,1235.5 L1692.1,1237.0 L1693.7,1238.2 L1695.2,1239.8 L1696.9,1239.6 L1698.5,1240.1 L1700.2,1242.2 L1701.8,1242.3 L1703.5,1246.4 L1705.1,1246.2 L1706.8,1247.8 L1708.4,1249.9 L1710.1,1250.6 L1711.7,1249.9 L1713.4,1251.4 L1715.0,1251.8 L1716.7,1255.1 L1718.7,1255.7 L1720.6,1255.7 L1722.6,1256.1 L1724.5,1256.6 L1726.5,1258.1 L1728.4,1259.6 L1730.4,1260.9 L1732.3,1261.6 L1734.3,1262.4 L1736.2,1261.8 L1738.2,1262.5 L1740.0,1263.1 L1741.8,1266.1 L1743.6,1264.5 L1745.4,1265.3 L1747.2,1266.6 L1749.0,1269.6 L1750.7,1270.2 L1752.5,1269.5 L1754.3,1272.0 L1756.1,1273.1 L1757.9,1272.5 L1759.7,1272.6 L1761.7,1274.9 L1763.7,1274.0 L1765.8,1273.6 L1767.8,1276.5 L1769.8,1275.4 L1771.8,1275.7 L1773.8,1276.7 L1775.8,1276.0 L1777.9,1275.7 L1779.9,1277.2 L1781.9,1277.6 L1783.9,1276.8 L1785.9,1278.4 L1788.0,1280.0 L1790.0,1279.1 L1792.0,1280.6 L1794.0,1280.9 L1796.0,1280.1 L1798.0,1280.1 L1800.0,1282.7 L1802.1,1283.0 L1804.1,1282.6 L1806.1,1282.8 L1808.1,1285.4 L1810.1,1286.1 L1812.1,1284.5 L1814.1,1286.2 L1816.2,1286.7 L1818.2,1286.4 L1820.2,1286.0 L1822.2,1287.5 L1824.2,1289.1 L1826.2,1289.1 L1828.2,1288.9 L1830.3,1287.8 L1832.3,1288.2 L1834.3,1288.7 L1836.3,1289.2 L1838.3,1289.1 L1840.3,1291.0 L1842.4,1288.6 L1844.4,1291.5 L1846.4,1289.3 L1848.4,1291.4 L1850.4,1289.6 L1852.5,1290.8 L1854.5,1290.3 L1856.5,1289.3 L1858.5,1291.9 L1860.6,1292.2 L1862.6,1290.7 L1864.7,1292.5 L1866.7,1291.7 L1868.8,1293.6 L1870.8,1290.8 L1872.9,1292.0 L1874.9,1291.7 L1877.0,1293.2 L1879.0,1293.9 L1881.1,1294.3 L1883.1,1293.6 L1885.2,1293.2 L1887.2,1294.8 L1889.3,1292.7 L1891.3,1293.4 L1893.4,1295.2 L1895.4,1294.4 L1897.5,1296.4 L1899.5,1293.7 L1901.5,1295.0 L1903.6,1294.3 L1905.6,1293.7 L1907.7,1294.1 L1909.7,1294.2 L1911.8,1295.2 L1913.8,1295.5 L1915.8,1295.9 L1917.9,1295.3 L1919.9,1296.7 L1922.0,1296.2 L1924.0,1297.8 L1926.1,1295.3 L1928.1,1296.5 L1930.1,1296.6 L1932.2,1296.3 L1934.2,1297.9 L1936.3,1296.0 L1938.3,1298.2 L1940.4,1296.6 L1942.4,1296.7 L1944.4,1297.6 L1946.5,1297.4 L1948.5,1296.5 L1950.6,1295.9 L1952.6,1298.7 L1954.7,1296.8 L1956.7,1296.0 L1958.8,1297.7 L1960.8,1297.3 L1962.9,1296.6 L1964.9,1296.7 L1967.0,1298.3 L1969.0,1296.7 L1971.1,1296.9 L1973.1,1298.7 L1975.2,1296.8 L1977.2,1296.9 L1979.3,1296.1 L1981.3,1297.7 L1983.4,1297.7 L1985.4,1297.0 L1987.5,1296.9 L1989.5,1296.3 L1991.6,1298.1 L1993.7,1297.1 L1995.7,1298.3 L1997.8,1296.8 L1999.9,1297.9 L2001.9,1295.7 L2004.0,1296.3 L2006.1,1298.7 L2008.1,1297.8 L2010.2,1297.8 L2012.3,1297.2 L2014.3,1297.1 L2016.4,1296.2 L2018.5,1296.2 L2020.5,1297.7 L2022.6,1297.8 L2024.7,1296.4 L2026.7,1297.7 L2028.8,1296.0 L2030.9,1297.6 L2032.9,1296.1 L2035.0,1297.2" fill="none" stroke="#636363" stroke-width="7.0" stroke-linejoin="round" stroke-linecap="butt" clip-path="url(#clipDbot)" />
<path d="M1228.2,1350.7 L1228.4,1352.9 L1228.7,1354.1 L1228.9,1357.3 L1229.1,1357.6 L1229.3,1361.2 L1229.6,1363.9 L1229.8,1363.9 L1230.0,1366.8 L1230.3,1370.6 L1230.5,1372.1 L1230.7,1374.5 L1230.9,1377.4 L1231.2,1378.6 L1231.4,1379.2 L1231.9,1382.1 L1232.5,1385.8 L1233.0,1386.5 L1233.5,1389.3 L1234.0,1389.6 L1234.6,1391.9 L1235.1,1396.1 L1235.6,1397.4 L1236.1,1398.6 L1236.7,1398.2 L1237.2,1402.3 L1237.7,1401.7 L1239.1,1407.1 L1240.5,1408.7 L1242.0,1409.1 L1243.4,1408.4 L1244.8,1412.4 L1246.2,1410.9 L1248.0,1415.2 L1249.8,1415.2 L1251.6,1414.4 L1253.3,1419.7 L1255.1,1419.1 L1256.9,1422.3 L1258.8,1422.4 L1260.6,1422.5 L1262.5,1424.8 L1264.3,1422.7 L1266.2,1426.6 L1268.0,1424.9 L1269.9,1424.3 L1271.7,1426.5 L1273.8,1425.8 L1276.0,1426.4 L1278.1,1429.3 L1280.2,1427.6 L1282.3,1428.3 L1284.5,1429.4 L1286.6,1429.9 L1288.7,1433.2 L1290.8,1432.8 L1293.0,1432.2 L1295.1,1432.3 L1297.2,1429.5 L1299.3,1430.6 L1301.5,1427.9 L1303.6,1430.3 L1305.7,1429.4 L1307.9,1428.6 L1310.0,1426.0 L1311.9,1424.6 L1313.9,1427.5 L1315.8,1425.1 L1317.7,1424.6 L1319.6,1424.9 L1321.6,1421.0 L1323.5,1422.7 L1325.4,1420.9 L1327.3,1421.5 L1329.3,1419.3 L1331.2,1417.4 L1333.1,1419.7 L1335.1,1415.8 L1337.0,1416.9 L1338.9,1416.3 L1340.9,1412.8 L1342.8,1413.8 L1344.8,1411.5 L1346.7,1409.8 L1348.6,1408.8 L1350.6,1411.1 L1352.5,1407.5 L1354.6,1407.9 L1356.7,1407.7 L1358.9,1405.4 L1361.0,1408.3 L1363.1,1408.1 L1365.2,1408.4 L1367.3,1405.9 L1369.5,1405.1 L1371.6,1405.4 L1373.7,1406.9 L1375.6,1407.2 L1377.6,1406.7 L1379.5,1407.8 L1381.4,1406.7 L1383.4,1410.7 L1385.3,1409.3 L1387.3,1410.0 L1389.2,1411.8 L1391.1,1409.8 L1393.1,1412.7 L1395.0,1411.7 L1396.7,1414.7 L1398.4,1412.6 L1400.1,1414.5 L1401.8,1417.1 L1403.5,1417.5 L1405.2,1418.1 L1406.9,1420.1 L1408.6,1419.5 L1410.3,1421.6 L1412.0,1420.7 L1414.1,1424.2 L1416.2,1421.8 L1418.3,1424.4 L1420.5,1423.1 L1422.6,1423.3 L1424.7,1423.5 L1426.8,1421.3 L1428.9,1424.1 L1431.1,1422.0 L1433.2,1424.5 L1435.3,1424.2 L1437.4,1423.7 L1439.3,1425.1 L1441.3,1424.2 L1443.2,1426.0 L1445.1,1428.0 L1447.1,1425.4 L1449.0,1425.8 L1451.0,1427.9 L1452.9,1429.1 L1454.8,1428.3 L1456.8,1429.4 L1458.7,1433.0 L1460.8,1431.2 L1463.0,1430.5 L1465.1,1431.0 L1467.2,1433.0 L1469.3,1431.6 L1471.5,1433.2 L1473.6,1433.8 L1475.7,1433.7 L1477.9,1434.3 L1480.0,1436.1 L1482.1,1432.8 L1484.2,1437.1 L1486.4,1434.2 L1488.5,1433.8 L1490.6,1437.4 L1492.7,1436.8 L1494.8,1437.0 L1497.0,1435.9 L1499.1,1438.7 L1501.2,1436.9 L1503.2,1438.4 L1505.2,1435.8 L1507.1,1436.8 L1509.1,1436.7 L1511.1,1435.1 L1513.1,1435.2 L1515.1,1432.9 L1517.0,1435.0 L1519.0,1434.8 L1521.0,1432.0 L1523.0,1433.3 L1525.0,1433.7 L1526.9,1430.5 L1528.9,1433.3 L1530.9,1433.0 L1532.3,1428.0 L1533.7,1427.5 L1535.2,1425.3 L1536.6,1424.6 L1538.0,1422.5 L1539.4,1422.9 L1540.8,1420.4 L1542.2,1419.2 L1543.7,1418.5 L1545.1,1416.7 L1546.5,1417.1 L1547.9,1415.4 L1549.1,1411.1 L1550.4,1410.0 L1551.6,1407.5 L1552.9,1407.3 L1554.1,1404.7 L1555.3,1405.7 L1556.6,1404.5 L1557.8,1403.8 L1559.1,1398.8 L1560.3,1396.4 L1561.6,1398.0 L1562.8,1394.9 L1563.6,1395.2 L1564.3,1390.9 L1565.1,1388.6 L1565.8,1385.5 L1566.6,1387.4 L1567.3,1383.5 L1568.1,1381.2 L1568.9,1379.3 L1569.6,1378.7 L1570.4,1377.0 L1571.1,1373.5 L1571.9,1370.2 L1572.6,1369.3 L1573.4,1369.4 L1574.0,1365.3 L1574.6,1364.4 L1575.3,1362.0 L1575.9,1359.5 L1576.5,1358.0 L1577.1,1354.6 L1577.8,1354.0 L1578.4,1353.3 L1579.0,1347.9 L1579.6,1347.1 L1580.3,1347.4 L1580.9,1345.8 L1581.5,1339.6 L1582.1,1340.3 L1582.8,1338.3 L1583.4,1337.2 L1584.0,1333.6 L1584.5,1330.1 L1585.1,1328.8 L1585.6,1328.7 L1586.1,1326.7 L1586.7,1322.4 L1587.2,1322.4 L1587.7,1320.4 L1588.2,1318.4 L1588.8,1313.7 L1589.3,1313.5 L1589.8,1311.0 L1590.4,1310.2 L1590.9,1307.1 L1591.4,1304.2 L1592.0,1304.5 L1592.5,1300.9 L1593.0,1301.1 L1593.4,1297.0 L1593.9,1296.1 L1594.3,1295.3 L1594.8,1290.3 L1595.2,1291.0 L1595.7,1286.1 L1596.2,1287.9 L1596.6,1282.0 L1597.1,1283.1 L1597.5,1279.5 L1598.0,1276.7 L1598.4,1275.7 L1598.9,1274.2 L1599.3,1271.8 L1599.7,1268.6 L1600.1,1268.3 L1600.5,1265.3 L1600.9,1266.3 L1601.3,1261.7 L1601.7,1260.0 L1602.1,1257.1 L1602.5,1258.3 L1602.9,1253.5 L1603.3,1252.9 L1603.7,1251.7 L1604.1,1247.8 L1604.5,1247.4 L1604.9,1243.3 L1605.3,1240.6 L1605.7,1238.3 L1606.1,1238.1 L1606.5,1238.0 L1606.9,1233.0 L1607.3,1232.1 L1607.7,1231.5 L1608.1,1227.4 L1608.5,1224.9 L1608.9,1224.5 L1609.3,1222.1 L1609.7,1222.4 L1610.1,1220.2 L1610.5,1215.3 L1610.9,1214.7 L1611.3,1212.1 L1611.7,1208.4 L1612.1,1208.3 L1612.5,1208.4 L1613.0,1203.7 L1613.4,1202.9 L1613.8,1201.5 L1614.2,1196.7 L1614.6,1198.5 L1615.1,1192.9 L1615.5,1191.7 L1615.9,1191.6 L1616.3,1186.5 L1616.7,1186.1 L1617.2,1183.0 L1617.6,1182.6 L1618.0,1178.6 L1618.4,1177.2 L1618.9,1175.5 L1619.3,1172.9 L1619.7,1171.0 L1620.1,1169.5 L1620.6,1168.9 L1621.0,1165.2 L1621.4,1166.3 L1621.8,1162.5 L1622.3,1159.8 L1622.7,1157.8 L1623.1,1158.4 L1623.5,1153.0 L1624.0,1154.0 L1624.4,1149.2 L1625.2,1150.8 L1626.1,1146.3 L1626.9,1145.0 L1627.8,1144.0 L1628.6,1138.5 L1629.1,1136.4 L1629.7,1137.1 L1630.2,1134.6 L1630.8,1133.2 L1631.3,1129.2 L1631.8,1128.2 L1632.4,1124.8 L1632.9,1123.9 L1633.4,1121.2 L1634.0,1120.5 L1634.5,1117.2 L1635.0,1115.1 L1635.6,1114.7 L1636.1,1110.2 L1636.7,1111.3 L1637.2,1108.0 L1638.4,1105.0 L1639.7,1102.6 L1640.9,1102.5 L1642.1,1100.6 L1643.3,1099.8 L1644.6,1096.4 L1645.8,1094.7 L1647.6,1095.9 L1649.5,1092.3 L1651.3,1094.5 L1653.2,1093.2 L1655.0,1092.7 L1656.9,1091.6 L1658.7,1087.6 L1660.2,1091.6 L1661.8,1092.2 L1663.3,1092.0 L1664.8,1097.0 L1666.3,1097.0 L1667.9,1099.2 L1669.4,1099.7 L1670.5,1099.4 L1671.6,1104.7 L1672.7,1103.5 L1673.7,1105.7 L1674.8,1109.1 L1675.9,1109.1 L1677.0,1112.1 L1677.5,1115.2 L1678.0,1114.5 L1678.5,1119.0 L1679.0,1118.6 L1679.5,1122.2 L1680.0,1125.0 L1680.5,1127.2 L1681.0,1126.3 L1681.5,1129.0 L1682.0,1134.4 L1682.5,1133.9 L1683.0,1136.0 L1683.5,1137.8 L1684.0,1141.3 L1684.5,1143.5 L1684.9,1145.1 L1685.2,1146.0 L1685.6,1148.8 L1685.9,1150.6 L1686.3,1151.2 L1686.6,1156.6 L1687.0,1158.7 L1687.3,1159.9 L1687.7,1162.9 L1688.1,1162.6 L1688.4,1166.3 L1688.8,1165.7 L1689.1,1169.9 L1689.5,1171.8 L1689.8,1174.8 L1690.2,1176.4 L1690.5,1178.6 L1690.9,1178.0 L1691.2,1182.3 L1691.5,1183.0 L1691.8,1184.3 L1692.1,1186.6 L1692.4,1190.6 L1692.8,1192.8 L1693.1,1194.8 L1693.4,1196.1 L1693.7,1196.0 L1694.0,1198.0 L1694.3,1201.8 L1694.6,1202.3 L1694.9,1204.9 L1695.2,1205.9 L1695.5,1208.2 L1695.9,1212.7 L1696.2,1212.6 L1696.5,1217.4 L1696.8,1217.2 L1697.1,1221.5 L1697.4,1221.1 L1697.7,1223.0 L1698.0,1225.5 L1698.4,1225.8 L1698.7,1229.7 L1699.0,1231.4 L1699.3,1231.8 L1699.6,1237.5 L1699.9,1237.4 L1700.3,1237.7 L1700.6,1243.9 L1700.9,1242.7 L1701.2,1244.8 L1701.5,1245.8 L1701.9,1248.1 L1702.2,1252.8 L1702.5,1254.2 L1702.8,1255.8 L1703.1,1256.7 L1703.5,1258.9 L1703.8,1263.8 L1704.1,1263.2 L1704.4,1267.9 L1704.7,1269.4 L1705.0,1268.1 L1705.4,1273.3 L1705.7,1271.6 L1706.0,1276.6 L1706.3,1279.1 L1706.6,1280.5 L1707.0,1281.9 L1707.3,1285.0 L1707.6,1284.1 L1707.9,1287.8 L1708.2,1288.6 L1708.5,1291.2 L1708.9,1292.3 L1709.2,1296.5 L1709.5,1297.9 L1709.8,1300.8 L1710.1,1302.2 L1710.5,1304.0 L1710.8,1307.4 L1711.1,1309.0 L1711.4,1309.9 L1711.7,1310.8 L1712.1,1315.4 L1712.4,1315.0 L1712.7,1315.8 L1713.0,1318.8 L1713.3,1322.4 L1713.6,1325.4 L1714.0,1326.2 L1714.3,1328.2 L1714.6,1331.4 L1715.3,1332.7 L1715.9,1333.3 L1716.6,1335.4 L1717.3,1338.7 L1717.9,1338.8 L1718.6,1339.9 L1719.3,1344.1 L1719.9,1347.0 L1720.6,1346.5 L1721.3,1350.4 L1722.0,1353.4 L1722.6,1352.0 L1723.3,1354.1 L1724.0,1357.6 L1724.6,1359.0 L1725.3,1363.7 L1726.0,1365.9 L1726.7,1365.5 L1727.5,1369.1 L1728.2,1370.4 L1728.9,1370.4 L1729.6,1376.0 L1730.4,1374.5 L1731.1,1376.1 L1731.8,1379.8 L1732.5,1379.9 L1733.1,1383.9 L1733.8,1385.6 L1734.4,1389.9 L1735.1,1389.5 L1735.8,1393.4 L1736.4,1395.1 L1737.1,1396.3 L1737.8,1396.7 L1738.4,1399.0 L1739.1,1401.8 L1739.7,1403.4 L1740.4,1406.4 L1741.4,1407.7 L1742.3,1408.8 L1743.3,1412.0 L1744.2,1415.6 L1745.2,1414.0 L1746.1,1416.5 L1747.1,1417.0 L1748.0,1419.3 L1749.0,1421.0 L1750.7,1423.7 L1752.4,1426.6 L1754.2,1427.1 L1755.9,1429.3 L1757.6,1429.8 L1759.3,1429.8 L1761.0,1430.8 L1762.8,1429.4 L1764.5,1432.1 L1766.2,1432.7 L1768.0,1435.3 L1769.8,1433.9 L1771.6,1437.1 L1773.4,1437.5 L1775.2,1439.0 L1777.0,1439.7 L1778.7,1439.5 L1780.5,1443.3 L1782.3,1444.7 L1784.1,1444.9 L1785.9,1443.8 L1787.7,1447.0 L1789.7,1448.9 L1791.7,1450.1 L1793.7,1449.7 L1795.6,1447.2 L1797.6,1451.6 L1799.6,1451.3 L1801.6,1450.2 L1803.6,1453.7 L1805.6,1454.0 L1807.5,1455.0 L1809.5,1452.8 L1811.5,1454.9 L1813.5,1454.7 L1815.7,1454.3 L1817.8,1456.3 L1820.0,1455.7 L1822.1,1454.5 L1824.2,1455.4 L1826.4,1457.1 L1828.5,1455.5 L1830.7,1457.0 L1832.8,1455.5 L1835.0,1457.4 L1837.0,1453.3 L1839.1,1455.4 L1841.1,1456.0 L1843.2,1457.0 L1845.2,1458.3 L1847.3,1457.0 L1849.3,1456.5 L1851.4,1457.4 L1853.4,1457.2 L1855.5,1458.1 L1857.5,1459.4 L1859.6,1455.5 L1861.6,1457.1 L1863.7,1459.7 L1865.7,1456.3 L1867.8,1459.8 L1869.8,1456.6 L1871.9,1459.5 L1873.9,1460.4 L1876.0,1458.1 L1878.0,1459.0 L1880.0,1458.4 L1882.1,1460.6 L1884.1,1459.9 L1886.2,1460.4 L1888.2,1459.3 L1890.3,1460.5 L1892.3,1462.2 L1894.4,1461.6 L1896.4,1462.4 L1898.5,1459.4 L1900.5,1460.7 L1902.6,1460.3 L1904.6,1460.2 L1906.7,1462.3 L1908.7,1459.6 L1910.8,1461.4 L1912.8,1462.5 L1914.9,1463.3 L1916.9,1459.4 L1919.0,1460.6 L1921.0,1461.7 L1923.0,1463.7 L1925.1,1460.4 L1927.1,1463.5 L1929.2,1461.6 L1931.2,1462.4 L1933.3,1464.2 L1935.3,1460.5 L1937.3,1461.7 L1939.4,1461.1 L1941.4,1461.1 L1943.5,1461.9 L1945.5,1463.8 L1947.6,1463.4 L1949.6,1461.4 L1951.6,1464.5 L1953.7,1463.3 L1955.7,1461.8 L1957.8,1464.9 L1959.8,1465.0 L1961.9,1462.5 L1963.9,1465.7 L1965.9,1465.3 L1968.0,1462.8 L1970.0,1461.9 L1972.1,1465.8 L1974.1,1465.8 L1976.2,1462.7 L1978.2,1465.7 L1980.3,1465.8 L1982.3,1465.3 L1984.4,1466.3 L1986.4,1467.1 L1988.5,1464.3 L1990.5,1466.6 L1992.6,1467.1 L1994.6,1464.6 L1996.7,1466.3 L1998.7,1466.4 L2000.8,1467.2 L2002.8,1466.1 L2004.9,1464.9 L2006.9,1464.9 L2008.9,1465.9 L2010.9,1463.8 L2012.9,1466.7 L2014.9,1466.5 L2016.9,1463.3 L2018.9,1465.0 L2021.0,1464.6 L2023.0,1461.9 L2025.0,1464.5 L2027.0,1464.1 L2029.0,1461.8 L2031.0,1460.5 L2033.0,1461.0 L2035.0,1461.7" fill="none" stroke="#2a8049" stroke-width="7.0" stroke-linejoin="round" stroke-linecap="butt" clip-path="url(#clipDbot)" />
<path d="M1228.2,1536.8 L1228.4,1539.8 L1228.6,1540.8 L1228.8,1544.1 L1229.0,1543.8 L1229.2,1545.6 L1229.4,1548.5 L1229.6,1552.5 L1229.8,1552.0 L1230.0,1553.7 L1230.2,1558.2 L1230.4,1557.8 L1230.6,1562.0 L1230.8,1561.9 L1231.1,1564.5 L1231.3,1568.1 L1231.5,1570.9 L1231.7,1571.3 L1231.9,1573.4 L1232.1,1574.0 L1232.3,1577.1 L1232.5,1578.8 L1232.7,1582.9 L1232.9,1584.6 L1233.1,1586.9 L1233.3,1588.1 L1233.5,1590.7 L1233.9,1590.7 L1234.3,1593.6 L1234.6,1595.3 L1235.0,1597.2 L1235.4,1600.9 L1235.8,1601.0 L1236.1,1603.4 L1236.5,1605.2 L1236.9,1609.3 L1237.3,1610.5 L1237.6,1611.9 L1238.0,1613.6 L1238.4,1617.5 L1238.8,1619.6 L1239.1,1619.8 L1239.5,1622.2 L1239.9,1625.3 L1241.2,1624.7 L1242.6,1626.3 L1243.9,1627.3 L1245.2,1630.4 L1246.5,1632.9 L1247.8,1632.3 L1249.2,1634.9 L1250.5,1638.5 L1252.1,1638.2 L1253.7,1639.5 L1255.3,1642.7 L1256.8,1644.5 L1258.4,1644.2 L1260.0,1644.9 L1261.6,1648.3 L1263.2,1650.3 L1264.3,1649.2 L1265.3,1646.6 L1266.4,1643.6 L1267.5,1642.7 L1268.6,1640.1 L1269.6,1639.0 L1270.7,1637.4 L1271.8,1637.3 L1272.8,1635.6 L1273.9,1633.9 L1275.3,1634.1 L1276.7,1637.6 L1278.2,1636.5 L1279.6,1641.0 L1281.0,1641.8 L1282.4,1644.4 L1283.7,1644.4 L1285.1,1648.0 L1286.4,1646.2 L1287.7,1650.7 L1289.0,1652.2 L1290.3,1652.2 L1291.7,1655.4 L1293.0,1654.8 L1294.7,1655.6 L1296.4,1653.6 L1298.1,1652.3 L1299.8,1650.5 L1301.5,1651.6 L1303.2,1650.3 L1304.9,1646.9 L1306.6,1649.0 L1308.3,1645.3 L1310.0,1644.8 L1312.1,1645.4 L1314.2,1646.5 L1316.4,1648.2 L1318.5,1648.9 L1319.9,1646.1 L1321.3,1643.5 L1322.7,1640.9 L1324.1,1639.1 L1325.6,1639.1 L1327.0,1637.7 L1328.4,1635.5 L1329.8,1635.8 L1331.2,1632.1 L1332.8,1630.5 L1334.4,1629.5 L1336.0,1627.2 L1337.6,1628.7 L1339.2,1626.1 L1340.8,1624.6 L1342.4,1622.9 L1344.0,1620.9 L1345.7,1619.9 L1347.4,1619.2 L1349.1,1617.8 L1350.8,1618.4 L1352.5,1615.7 L1354.2,1613.1 L1355.9,1611.3 L1357.6,1610.4 L1359.3,1609.8 L1361.0,1610.1 L1362.9,1611.4 L1364.8,1610.0 L1366.7,1612.9 L1368.6,1612.7 L1370.4,1614.0 L1372.3,1614.9 L1374.2,1614.1 L1376.1,1615.1 L1378.0,1618.2 L1380.1,1618.8 L1382.2,1618.2 L1384.4,1620.7 L1386.5,1620.9 L1388.6,1619.5 L1390.8,1619.2 L1392.9,1621.5 L1395.0,1622.4 L1396.8,1621.9 L1398.5,1622.3 L1400.3,1625.0 L1402.1,1624.4 L1403.8,1628.0 L1405.6,1628.7 L1407.4,1628.5 L1409.1,1630.1 L1410.9,1630.4 L1412.7,1631.3 L1414.4,1632.4 L1416.2,1635.7 L1418.1,1635.2 L1420.1,1636.9 L1422.0,1636.4 L1423.9,1638.8 L1425.8,1638.8 L1427.8,1639.8 L1429.7,1639.6 L1431.6,1641.0 L1433.5,1640.4 L1435.5,1644.0 L1437.4,1643.7 L1439.3,1643.8 L1441.3,1644.7 L1443.2,1643.4 L1445.1,1644.8 L1447.1,1645.0 L1449.0,1647.8 L1451.0,1645.4 L1452.9,1647.5 L1454.8,1649.6 L1456.8,1649.8 L1458.7,1650.2 L1460.8,1649.1 L1463.0,1649.3 L1465.1,1651.4 L1467.2,1650.4 L1469.3,1652.4 L1471.5,1651.4 L1473.6,1653.3 L1475.7,1653.1 L1477.9,1654.4 L1480.0,1655.4 L1482.1,1653.7 L1484.2,1656.3 L1486.4,1653.2 L1488.5,1656.7 L1490.6,1654.1 L1492.7,1656.4 L1494.8,1656.2 L1497.0,1658.0 L1499.1,1656.8 L1501.2,1656.8 L1503.3,1659.4 L1505.4,1658.9 L1507.6,1660.1 L1509.7,1659.6 L1511.8,1658.4 L1513.9,1661.5 L1516.0,1659.9 L1518.2,1661.2 L1520.3,1660.0 L1522.4,1661.3 L1524.5,1663.2 L1526.7,1664.0 L1528.8,1664.0 L1530.9,1663.7 L1533.1,1665.1 L1535.2,1665.3 L1537.3,1664.1 L1539.4,1665.7 L1541.6,1666.3 L1543.7,1667.2 L1545.8,1665.3 L1548.0,1665.7 L1550.1,1665.8 L1552.2,1664.9 L1554.3,1665.9 L1556.5,1667.2 L1558.6,1666.7 L1560.7,1665.2 L1562.9,1667.2 L1565.0,1665.0 L1566.9,1666.7 L1568.9,1664.0 L1570.8,1663.2 L1572.7,1663.2 L1574.6,1663.5 L1576.6,1662.1 L1578.5,1663.7 L1580.4,1663.3 L1582.3,1660.4 L1584.3,1661.5 L1586.2,1660.7 L1587.5,1658.6 L1588.8,1655.9 L1590.2,1656.9 L1591.5,1655.3 L1592.8,1650.3 L1594.2,1649.9 L1595.5,1648.2 L1596.8,1646.2 L1598.9,1646.6 L1601.0,1647.9 L1603.2,1644.3 L1605.3,1646.8 L1607.4,1644.5 L1609.5,1643.0 L1611.6,1645.8 L1613.8,1643.1 L1615.9,1642.5 L1618.0,1641.7 L1620.1,1641.8 L1622.2,1640.0 L1624.3,1639.4 L1626.5,1638.8 L1628.6,1639.1 L1630.7,1637.8 L1631.6,1635.5 L1632.5,1634.5 L1633.4,1633.6 L1634.3,1631.6 L1635.2,1628.5 L1636.1,1628.8 L1637.0,1626.5 L1637.9,1623.9 L1638.8,1621.8 L1639.7,1619.5 L1640.6,1617.0 L1641.5,1617.9 L1642.1,1615.0 L1642.8,1611.3 L1643.4,1612.3 L1644.0,1610.3 L1644.6,1605.3 L1645.3,1605.8 L1645.9,1602.3 L1646.5,1601.4 L1647.2,1600.6 L1647.8,1597.0 L1648.4,1595.6 L1649.1,1594.3 L1649.7,1590.7 L1650.3,1590.4 L1650.9,1587.7 L1651.6,1587.8 L1652.2,1583.1 L1652.6,1583.0 L1653.0,1578.6 L1653.4,1577.4 L1653.8,1574.9 L1654.2,1573.0 L1654.6,1572.4 L1655.0,1569.1 L1655.4,1569.4 L1655.8,1564.8 L1656.2,1564.8 L1656.6,1563.6 L1657.0,1559.0 L1657.4,1557.3 L1657.8,1557.3 L1658.2,1554.3 L1658.6,1553.9 L1659.0,1549.8 L1659.4,1548.0 L1659.8,1548.1 L1660.2,1543.9 L1660.6,1544.1 L1661.0,1541.9 L1661.4,1537.4 L1661.8,1536.6 L1662.2,1536.1 L1662.6,1531.1 L1663.0,1531.8 L1663.4,1529.5 L1663.8,1527.4 L1664.2,1524.9 L1664.6,1521.1 L1665.0,1522.2 L1665.4,1517.1 L1665.8,1517.6 L1666.2,1515.4 L1666.6,1511.9 L1667.0,1511.2 L1667.4,1508.3 L1667.8,1507.5 L1668.2,1503.0 L1668.5,1504.2 L1668.9,1500.2 L1669.3,1499.7 L1669.7,1496.5 L1670.1,1495.8 L1670.5,1491.9 L1670.9,1490.8 L1671.3,1486.9 L1671.7,1486.6 L1672.1,1483.2 L1672.5,1484.0 L1672.9,1481.3 L1673.3,1478.4 L1673.7,1478.4 L1674.0,1476.3 L1674.3,1474.4 L1674.7,1469.2 L1675.0,1469.5 L1675.3,1467.6 L1675.6,1465.1 L1675.9,1461.0 L1676.2,1462.3 L1676.6,1458.6 L1676.9,1457.2 L1677.2,1456.0 L1677.5,1452.0 L1677.8,1449.1 L1678.2,1450.4 L1678.5,1446.0 L1678.8,1443.2 L1679.1,1441.6 L1679.4,1442.7 L1679.8,1439.8 L1680.1,1435.9 L1680.4,1433.7 L1680.7,1434.4 L1681.0,1431.5 L1681.3,1429.3 L1681.7,1425.6 L1682.0,1424.7 L1682.3,1424.6 L1682.5,1419.2 L1682.6,1418.7 L1682.8,1415.4 L1683.0,1416.7 L1683.2,1411.5 L1683.3,1412.6 L1683.5,1410.2 L1683.7,1407.7 L1683.8,1403.3 L1684.0,1403.6 L1684.2,1400.9 L1684.4,1398.8 L1684.5,1395.6 L1684.7,1394.9 L1684.9,1393.9 L1685.0,1389.5 L1685.2,1390.2 L1685.4,1386.5 L1685.5,1384.0 L1685.7,1381.9 L1685.9,1380.6 L1686.1,1379.3 L1686.2,1377.0 L1686.4,1376.2 L1686.6,1372.8 L1686.7,1370.8 L1686.9,1370.5 L1687.1,1365.7 L1687.3,1363.0 L1687.4,1362.1 L1687.6,1360.0 L1687.8,1357.3 L1687.9,1356.4 L1688.1,1353.0 L1688.3,1354.1 L1688.5,1350.6 L1688.6,1350.0 L1688.8,1347.3 L1689.1,1345.5 L1689.5,1343.6 L1689.8,1340.0 L1690.2,1339.5 L1690.5,1335.7 L1690.9,1334.9 L1691.2,1333.1 L1691.6,1331.8 L1691.9,1327.6 L1692.2,1326.3 L1692.6,1326.0 L1692.9,1324.0 L1693.3,1322.6 L1693.6,1317.6 L1694.0,1315.9 L1694.3,1313.6 L1694.6,1313.8 L1695.0,1311.9 L1695.3,1309.6 L1695.7,1308.1 L1696.0,1305.2 L1696.4,1303.4 L1696.7,1302.7 L1697.1,1299.7 L1697.4,1297.8 L1697.7,1295.5 L1698.0,1293.1 L1698.2,1292.0 L1698.5,1289.2 L1698.8,1285.6 L1699.1,1284.6 L1699.3,1282.5 L1699.6,1280.5 L1699.9,1278.9 L1700.2,1276.1 L1700.5,1274.2 L1700.7,1272.3 L1701.0,1270.0 L1701.3,1270.1 L1701.6,1264.9 L1701.9,1262.6 L1702.1,1263.0 L1702.4,1259.8 L1702.7,1257.9 L1703.0,1256.4 L1703.2,1253.5 L1703.5,1251.0 L1703.8,1248.2 L1704.7,1249.3 L1705.6,1247.5 L1706.5,1243.2 L1707.4,1241.9 L1708.3,1239.4 L1709.2,1236.5 L1710.1,1237.5 L1711.0,1235.4 L1711.9,1231.3 L1712.8,1229.4 L1713.7,1229.0 L1714.6,1227.4 L1715.6,1228.1 L1716.5,1229.7 L1717.5,1231.1 L1718.4,1235.0 L1719.4,1237.2 L1720.3,1239.1 L1721.3,1238.3 L1722.2,1241.9 L1723.2,1245.2 L1723.5,1246.3 L1723.7,1247.4 L1724.0,1248.3 L1724.3,1250.0 L1724.5,1254.4 L1724.8,1254.0 L1725.1,1258.7 L1725.3,1260.2 L1725.6,1261.5 L1725.9,1265.0 L1726.2,1267.2 L1726.4,1268.1 L1726.7,1268.2 L1727.0,1272.0 L1727.2,1273.4 L1727.5,1274.8 L1727.8,1279.3 L1728.1,1280.6 L1728.4,1280.5 L1728.7,1282.9 L1729.0,1285.4 L1729.3,1288.2 L1729.6,1289.4 L1729.9,1291.9 L1730.2,1295.3 L1730.5,1295.0 L1730.9,1299.0 L1731.2,1299.7 L1731.5,1303.9 L1731.8,1306.0 L1732.1,1305.8 L1732.4,1308.8 L1732.7,1309.1 L1733.0,1312.2 L1733.3,1315.0 L1733.6,1317.1 L1733.9,1318.1 L1734.2,1319.1 L1734.6,1321.4 L1734.9,1325.0 L1735.3,1325.7 L1735.6,1328.2 L1736.0,1331.3 L1736.3,1334.4 L1736.6,1335.0 L1737.0,1336.1 L1737.3,1339.4 L1737.7,1340.3 L1738.0,1344.2 L1738.3,1343.9 L1738.7,1346.4 L1739.0,1349.0 L1739.4,1352.8 L1739.7,1352.1 L1740.1,1354.3 L1740.4,1356.1 L1740.7,1358.4 L1741.0,1360.9 L1741.3,1363.1 L1741.6,1366.4 L1741.9,1367.2 L1742.2,1369.5 L1742.5,1371.2 L1742.8,1374.6 L1743.1,1377.1 L1743.4,1377.4 L1743.8,1381.2 L1744.1,1380.8 L1744.4,1385.5 L1744.7,1385.9 L1745.0,1388.5 L1745.3,1389.4 L1745.6,1391.1 L1745.9,1392.6 L1746.2,1397.3 L1746.5,1397.5 L1746.8,1400.7 L1747.0,1401.9 L1747.2,1404.3 L1747.4,1405.2 L1747.6,1407.2 L1747.8,1409.9 L1748.0,1413.2 L1748.2,1414.8 L1748.4,1414.9 L1748.6,1419.6 L1748.8,1420.7 L1749.0,1421.4 L1749.3,1424.1 L1749.6,1425.9 L1750.0,1430.1 L1750.3,1431.1 L1750.6,1432.3 L1750.9,1434.0 L1751.2,1436.2 L1751.5,1438.1 L1751.9,1440.3 L1752.2,1443.9 L1752.5,1445.9 L1752.8,1447.6 L1753.1,1450.2 L1753.5,1451.4 L1753.8,1451.4 L1754.1,1453.2 L1754.4,1455.6 L1754.7,1457.9 L1755.1,1460.9 L1755.4,1463.9 L1755.7,1465.1 L1756.0,1466.5 L1756.3,1467.8 L1756.6,1472.5 L1757.0,1473.6 L1757.3,1474.1 L1757.6,1475.1 L1758.1,1480.4 L1758.6,1479.8 L1759.0,1483.9 L1759.5,1483.3 L1760.0,1487.2 L1760.5,1488.1 L1760.9,1492.0 L1761.4,1491.9 L1761.9,1493.2 L1762.4,1495.5 L1762.9,1499.7 L1763.3,1502.3 L1763.8,1503.1 L1764.3,1505.3 L1764.8,1505.8 L1765.2,1507.8 L1765.7,1509.1 L1766.2,1514.3 L1766.7,1512.9 L1767.2,1517.0 L1767.6,1518.0 L1768.1,1519.4 L1768.6,1522.3 L1769.1,1526.1 L1769.5,1525.6 L1770.0,1527.3 L1770.5,1531.0 L1771.1,1533.0 L1771.7,1534.4 L1772.3,1535.2 L1772.8,1539.7 L1773.4,1538.9 L1774.0,1541.1 L1774.6,1543.3 L1775.2,1546.2 L1775.8,1548.0 L1776.4,1550.2 L1777.0,1552.8 L1777.5,1555.4 L1778.1,1555.8 L1778.7,1556.2 L1779.3,1561.0 L1779.9,1560.0 L1780.5,1563.1 L1781.1,1564.4 L1781.6,1568.0 L1782.2,1570.6 L1782.8,1570.2 L1783.4,1572.8 L1784.0,1576.7 L1784.6,1578.1 L1785.2,1578.0 L1785.7,1582.0 L1786.3,1584.3 L1786.9,1584.9 L1787.5,1585.9 L1788.1,1589.7 L1788.7,1590.4 L1789.3,1591.7 L1789.8,1593.8 L1790.4,1596.6 L1791.0,1597.6 L1791.6,1600.5 L1792.2,1603.0 L1792.8,1605.0 L1793.4,1606.4 L1794.0,1609.8 L1794.5,1609.2 L1795.1,1612.0 L1795.7,1616.1 L1796.3,1617.8 L1797.2,1619.9 L1798.1,1621.1 L1799.1,1622.2 L1800.0,1624.9 L1800.9,1626.0 L1801.8,1626.2 L1802.8,1628.5 L1803.7,1629.8 L1804.6,1634.4 L1805.5,1634.3 L1806.4,1636.4 L1807.4,1638.8 L1808.3,1639.0 L1809.2,1643.0 L1810.4,1645.0 L1811.6,1646.7 L1812.8,1648.7 L1814.0,1648.3 L1815.1,1649.4 L1816.3,1653.2 L1817.5,1654.7 L1818.7,1655.2 L1819.9,1656.7 L1821.4,1657.6 L1822.9,1661.5 L1824.4,1661.7 L1825.9,1664.5 L1827.5,1664.3 L1829.0,1665.7 L1830.5,1667.9 L1832.0,1670.3 L1833.5,1672.3 L1835.0,1671.9 L1836.8,1674.2 L1838.6,1674.2 L1840.4,1676.9 L1842.2,1677.6 L1844.0,1677.9 L1845.8,1678.3 L1847.5,1679.1 L1849.3,1682.3 L1851.1,1683.1 L1852.9,1682.4 L1854.7,1682.6 L1856.5,1684.1 L1858.5,1687.0 L1860.6,1683.8 L1862.6,1686.6 L1864.7,1685.7 L1866.7,1685.9 L1868.8,1686.0 L1870.8,1685.6 L1872.9,1686.2 L1874.9,1684.7 L1877.0,1687.8 L1879.0,1684.9 L1881.1,1685.2 L1883.1,1687.2 L1885.2,1687.2 L1887.2,1687.9 L1889.3,1687.6 L1891.3,1688.5 L1893.4,1685.5 L1895.4,1685.4 L1897.5,1686.3 L1899.5,1688.4 L1901.5,1686.2 L1903.6,1687.7 L1905.6,1688.7 L1907.7,1686.6 L1909.7,1688.0 L1911.8,1689.4 L1913.8,1689.0 L1915.8,1687.8 L1917.9,1688.2 L1919.9,1687.6 L1922.0,1690.2 L1924.0,1689.6 L1926.1,1689.3 L1928.1,1688.1 L1930.1,1689.7 L1932.2,1689.0 L1934.2,1690.2 L1936.3,1688.7 L1938.3,1690.7 L1940.4,1690.1 L1942.4,1689.3 L1944.4,1689.8 L1946.5,1690.8 L1948.5,1689.9 L1950.6,1691.6 L1952.6,1688.2 L1954.7,1691.6 L1956.7,1691.0 L1958.8,1690.3 L1960.8,1691.7 L1962.9,1689.3 L1964.9,1690.1 L1967.0,1691.5 L1969.0,1692.0 L1971.1,1690.5 L1973.1,1692.9 L1975.2,1691.7 L1977.2,1689.6 L1979.3,1690.0 L1981.3,1690.0 L1983.4,1691.8 L1985.4,1691.1 L1987.5,1690.7 L1989.5,1691.3 L1991.6,1689.9 L1993.7,1692.8 L1995.7,1692.5 L1997.8,1691.4 L1999.9,1690.9 L2001.9,1690.3 L2004.0,1691.2 L2006.1,1690.2 L2008.1,1692.4 L2010.2,1692.2 L2012.3,1691.3 L2014.3,1691.6 L2016.4,1688.8 L2018.5,1688.9 L2020.5,1689.6 L2022.6,1688.7 L2024.7,1689.7 L2026.7,1691.6 L2028.8,1691.0 L2030.9,1691.3 L2032.9,1688.6 L2035.0,1689.5" fill="none" stroke="#c68700" stroke-width="7.0" stroke-linejoin="round" stroke-linecap="butt" clip-path="url(#clipDbot)" />
<path d="M1228.2,1547.5 L1228.5,1548.5 L1228.9,1549.8 L1229.2,1552.6 L1229.5,1553.9 L1229.9,1557.5 L1230.2,1558.7 L1230.5,1562.0 L1230.8,1563.6 L1231.2,1565.7 L1231.5,1566.7 L1231.8,1570.2 L1232.2,1572.0 L1232.5,1574.1 L1232.8,1575.2 L1233.2,1577.2 L1233.5,1578.5 L1234.1,1579.6 L1234.7,1583.1 L1235.2,1585.5 L1235.8,1585.9 L1236.4,1590.3 L1237.0,1592.3 L1237.6,1594.1 L1238.2,1595.9 L1238.7,1596.7 L1239.3,1597.5 L1239.9,1599.8 L1241.5,1602.8 L1243.1,1605.0 L1244.7,1603.2 L1246.2,1604.1 L1247.8,1606.7 L1249.4,1608.0 L1251.0,1610.2 L1252.6,1609.8 L1254.5,1613.2 L1256.3,1612.2 L1258.2,1615.1 L1260.0,1613.8 L1261.9,1614.5 L1263.8,1614.8 L1265.6,1618.5 L1267.5,1617.9 L1269.6,1618.4 L1271.7,1615.2 L1273.9,1616.5 L1276.0,1616.8 L1278.1,1617.2 L1280.0,1618.0 L1281.9,1616.0 L1283.8,1617.9 L1285.7,1621.1 L1287.5,1620.3 L1289.4,1622.8 L1291.3,1621.2 L1293.2,1621.3 L1295.1,1625.6 L1297.2,1622.7 L1299.3,1623.3 L1301.5,1622.2 L1303.6,1622.5 L1305.7,1623.4 L1306.8,1621.6 L1307.8,1619.5 L1308.9,1615.4 L1310.0,1615.6 L1311.0,1610.8 L1312.1,1610.4 L1313.1,1610.4 L1314.2,1606.1 L1315.6,1605.1 L1317.0,1604.5 L1318.5,1601.8 L1319.9,1602.1 L1321.3,1600.4 L1322.7,1597.0 L1324.2,1598.6 L1325.6,1594.1 L1327.0,1594.9 L1328.1,1592.0 L1329.1,1589.5 L1330.2,1587.6 L1331.2,1589.2 L1332.3,1586.8 L1333.4,1583.9 L1334.4,1583.4 L1335.5,1582.3 L1336.5,1580.4 L1337.6,1577.3 L1339.0,1574.7 L1340.4,1574.0 L1341.8,1574.0 L1343.2,1571.4 L1344.7,1569.5 L1346.1,1568.5 L1347.5,1565.3 L1348.9,1564.2 L1350.3,1563.6 L1352.1,1560.3 L1354.0,1561.8 L1355.8,1557.9 L1357.6,1558.8 L1359.4,1558.1 L1361.3,1555.6 L1363.1,1557.5 L1365.0,1556.8 L1366.8,1557.0 L1368.7,1558.9 L1370.5,1560.6 L1372.4,1561.1 L1374.3,1560.6 L1376.1,1562.0 L1378.0,1565.3 L1379.9,1563.9 L1381.8,1565.0 L1383.7,1567.7 L1385.6,1568.6 L1387.4,1569.4 L1389.3,1567.5 L1391.2,1567.6 L1393.1,1571.0 L1395.0,1571.2 L1396.6,1571.5 L1398.3,1571.4 L1399.9,1574.1 L1401.6,1574.6 L1403.2,1577.1 L1404.9,1579.7 L1406.5,1578.1 L1408.2,1578.8 L1409.8,1582.2 L1411.9,1580.6 L1414.0,1581.6 L1416.2,1582.9 L1418.3,1585.3 L1420.4,1583.5 L1422.5,1584.0 L1424.7,1585.1 L1426.8,1584.5 L1428.7,1586.3 L1430.7,1588.3 L1432.6,1588.0 L1434.5,1590.6 L1436.5,1589.4 L1438.4,1590.0 L1440.4,1592.9 L1442.3,1593.2 L1444.2,1595.9 L1446.2,1593.9 L1448.1,1597.2 L1450.0,1597.7 L1452.0,1597.4 L1453.9,1597.3 L1455.8,1599.8 L1457.7,1601.1 L1459.7,1600.8 L1461.6,1601.6 L1463.5,1603.2 L1465.4,1603.6 L1467.4,1603.8 L1469.3,1603.7 L1471.4,1605.1 L1473.6,1605.8 L1475.7,1607.5 L1477.8,1608.3 L1479.9,1607.2 L1482.1,1606.8 L1484.2,1606.8 L1486.3,1608.7 L1488.5,1609.5 L1490.6,1608.2 L1492.5,1610.4 L1494.5,1612.1 L1496.4,1610.5 L1498.3,1613.0 L1500.2,1611.8 L1502.2,1613.1 L1504.1,1614.5 L1506.0,1612.7 L1507.9,1613.8 L1509.9,1616.7 L1511.8,1613.9 L1513.7,1615.6 L1515.7,1617.0 L1517.6,1618.7 L1519.5,1619.1 L1521.5,1620.9 L1523.4,1620.7 L1525.4,1619.1 L1527.3,1620.1 L1529.2,1620.8 L1531.2,1623.0 L1533.1,1622.3 L1535.2,1624.5 L1537.3,1625.3 L1539.5,1624.2 L1541.6,1627.0 L1543.7,1625.8 L1545.8,1628.2 L1547.9,1626.4 L1550.1,1627.8 L1552.2,1627.9 L1554.3,1627.3 L1556.2,1628.6 L1558.2,1625.3 L1560.1,1625.6 L1562.0,1625.2 L1563.9,1626.7 L1565.9,1624.7 L1567.8,1622.5 L1569.7,1622.8 L1571.6,1623.4 L1573.6,1623.5 L1575.5,1620.4 L1577.3,1621.6 L1579.0,1618.9 L1580.8,1618.2 L1582.6,1616.6 L1584.4,1615.4 L1586.2,1616.2 L1587.9,1614.7 L1589.7,1613.4 L1591.5,1611.5 L1593.2,1610.2 L1595.0,1606.9 L1596.8,1605.3 L1598.5,1607.0 L1600.1,1605.3 L1601.8,1604.0 L1603.4,1601.7 L1605.1,1600.3 L1606.7,1601.5 L1608.4,1599.0 L1610.1,1596.0 L1611.7,1595.9 L1613.4,1594.8 L1615.0,1592.6 L1616.7,1594.7 L1618.3,1593.3 L1620.0,1591.8 L1621.4,1587.5 L1622.9,1587.5 L1624.3,1585.0 L1625.7,1585.8 L1627.2,1584.6 L1628.6,1583.1 L1630.0,1581.7 L1631.5,1577.9 L1632.9,1576.0 L1634.3,1574.9 L1635.8,1576.2 L1637.2,1574.7 L1638.9,1572.1 L1640.5,1569.7 L1642.2,1570.5 L1643.9,1566.4 L1645.5,1565.7 L1647.2,1563.1 L1648.9,1565.2 L1650.5,1561.7 L1652.2,1561.6 L1653.5,1560.1 L1654.9,1557.7 L1656.2,1557.5 L1657.6,1555.1 L1659.0,1554.1 L1660.3,1552.6 L1661.7,1547.8 L1663.0,1548.6 L1664.4,1545.0 L1665.9,1543.7 L1667.3,1542.1 L1668.7,1542.7 L1670.2,1537.7 L1671.6,1537.4 L1673.0,1534.6 L1674.5,1536.1 L1675.9,1532.6 L1677.4,1531.8 L1678.9,1529.7 L1680.4,1529.1 L1681.9,1526.0 L1683.4,1524.8 L1684.9,1524.5 L1686.4,1522.8 L1687.9,1522.0 L1689.4,1518.4 L1690.9,1518.9 L1692.2,1516.8 L1693.4,1514.6 L1694.7,1512.4 L1695.9,1511.4 L1697.2,1508.0 L1698.5,1506.4 L1699.7,1505.6 L1701.0,1503.3 L1702.2,1501.4 L1703.5,1502.2 L1704.7,1500.6 L1706.0,1498.6 L1707.8,1498.2 L1709.6,1501.2 L1711.3,1502.6 L1713.1,1503.0 L1714.9,1502.6 L1716.7,1504.9 L1717.2,1506.3 L1717.7,1507.8 L1718.2,1509.4 L1718.7,1514.0 L1719.2,1515.1 L1719.7,1518.2 L1720.2,1517.4 L1720.7,1519.7 L1721.2,1522.6 L1721.7,1523.0 L1722.2,1525.8 L1722.7,1528.7 L1723.2,1530.4 L1724.0,1533.9 L1724.7,1534.6 L1725.5,1536.7 L1726.2,1538.4 L1727.0,1541.0 L1727.8,1541.4 L1728.5,1542.0 L1729.3,1547.4 L1730.0,1548.6 L1730.8,1548.1 L1731.5,1549.9 L1732.3,1552.2 L1733.1,1555.7 L1733.8,1555.7 L1734.6,1557.2 L1735.3,1560.8 L1736.1,1560.9 L1737.0,1563.7 L1737.8,1566.0 L1738.7,1567.2 L1739.5,1568.4 L1740.4,1571.2 L1741.3,1573.0 L1742.1,1575.1 L1743.0,1577.3 L1743.8,1579.0 L1744.7,1580.7 L1745.6,1581.5 L1746.4,1586.3 L1747.3,1587.8 L1748.1,1588.8 L1749.0,1588.9 L1750.1,1591.5 L1751.3,1595.6 L1752.4,1595.7 L1753.6,1596.5 L1754.7,1600.5 L1755.9,1602.4 L1757.0,1601.4 L1758.2,1604.5 L1759.3,1606.4 L1760.5,1606.5 L1761.6,1609.0 L1762.8,1611.8 L1763.9,1613.7 L1765.1,1615.2 L1766.2,1616.9 L1767.3,1617.8 L1768.5,1618.4 L1769.6,1619.9 L1770.8,1624.6 L1771.9,1626.4 L1773.1,1628.3 L1774.2,1627.0 L1775.4,1631.2 L1776.5,1630.8 L1777.7,1633.1 L1778.8,1634.3 L1780.0,1638.4 L1781.1,1640.0 L1782.3,1641.8 L1783.4,1641.9 L1784.8,1645.5 L1786.3,1644.8 L1787.7,1647.6 L1789.1,1649.6 L1790.6,1649.7 L1792.0,1651.9 L1793.4,1652.5 L1794.9,1656.7 L1796.3,1656.2 L1798.2,1656.7 L1800.1,1657.9 L1802.0,1660.0 L1803.9,1660.7 L1805.9,1661.0 L1807.8,1662.9 L1809.7,1663.3 L1811.6,1662.0 L1813.5,1663.9 L1815.3,1663.5 L1817.1,1664.7 L1818.9,1665.2 L1820.7,1665.8 L1822.5,1667.7 L1824.2,1670.5 L1826.0,1670.6 L1827.8,1669.4 L1829.6,1670.8 L1831.4,1673.0 L1833.2,1673.7 L1835.0,1672.8 L1837.2,1673.2 L1839.3,1675.2 L1841.5,1675.5 L1843.6,1673.8 L1845.8,1676.5 L1847.9,1674.8 L1850.0,1676.3 L1852.2,1676.3 L1854.3,1675.8 L1856.5,1678.2 L1858.5,1676.3 L1860.6,1676.5 L1862.6,1677.1 L1864.7,1678.2 L1866.7,1678.9 L1868.8,1678.2 L1870.8,1677.5 L1872.9,1678.2 L1874.9,1678.0 L1877.0,1679.3 L1879.0,1679.4 L1881.1,1678.8 L1883.1,1676.9 L1885.2,1678.3 L1887.2,1678.0 L1889.3,1677.3 L1891.3,1679.4 L1893.4,1677.5 L1895.4,1679.3 L1897.5,1678.7 L1899.5,1678.5 L1901.5,1679.6 L1903.6,1679.8 L1905.6,1680.9 L1907.7,1681.0 L1909.7,1680.4 L1911.8,1678.5 L1913.8,1680.1 L1915.8,1679.6 L1917.9,1681.3 L1919.9,1679.6 L1922.0,1679.4 L1924.0,1678.3 L1926.1,1680.0 L1928.1,1680.3 L1930.1,1679.6 L1932.2,1679.0 L1934.2,1680.4 L1936.3,1679.1 L1938.3,1679.5 L1940.4,1680.6 L1942.4,1680.4 L1944.4,1680.9 L1946.5,1681.0 L1948.5,1680.5 L1950.6,1679.6 L1952.6,1679.2 L1954.7,1681.1 L1956.7,1682.6 L1958.8,1680.1 L1960.8,1680.4 L1962.9,1680.2 L1964.9,1681.8 L1967.0,1680.9 L1969.0,1682.0 L1971.1,1679.1 L1973.1,1679.6 L1975.2,1679.8 L1977.2,1680.4 L1979.3,1680.5 L1981.3,1680.5 L1983.4,1682.6 L1985.4,1680.7 L1987.5,1681.1 L1989.5,1682.4 L1991.6,1681.1 L1993.7,1680.9 L1995.7,1681.6 L1997.8,1679.8 L1999.9,1678.6 L2001.9,1681.8 L2004.0,1680.2 L2006.1,1680.3 L2008.1,1678.4 L2010.2,1680.7 L2012.3,1679.3 L2014.3,1680.2 L2016.4,1678.8 L2018.5,1681.0 L2020.5,1678.9 L2022.6,1678.5 L2024.7,1680.7 L2026.7,1678.2 L2028.8,1678.2 L2030.9,1678.9 L2032.9,1680.6 L2035.0,1678.8" fill="none" stroke="#ff0a3a" stroke-width="7.0" stroke-linejoin="round" stroke-linecap="butt" clip-path="url(#clipDbot)" />
<path d="M1229.2,1812.2 L1229.4,1812.7 L1229.6,1815.1 L1229.8,1819.5 L1230.0,1818.6 L1230.2,1822.0 L1230.4,1825.5 L1230.6,1827.2 L1230.8,1829.6 L1231.0,1828.9 L1231.2,1834.0 L1231.3,1833.9 L1231.5,1837.8 L1231.7,1838.4 L1231.9,1842.1 L1232.1,1842.5 L1232.3,1843.7 L1232.5,1845.3 L1232.7,1848.7 L1232.9,1848.9 L1233.1,1851.4 L1233.3,1856.3 L1233.5,1857.1 L1233.9,1860.4 L1234.3,1859.7 L1234.8,1863.1 L1235.2,1865.2 L1235.6,1865.9 L1236.0,1868.6 L1236.4,1873.4 L1236.9,1874.7 L1237.3,1876.0 L1237.7,1878.5 L1238.8,1881.2 L1239.8,1883.3 L1240.9,1883.6 L1242.0,1883.1 L1243.1,1888.1 L1244.1,1887.0 L1245.2,1889.0 L1246.3,1890.2 L1247.3,1893.4 L1248.4,1895.4 L1250.3,1896.0 L1252.2,1897.1 L1254.1,1896.8 L1256.0,1900.2 L1258.0,1900.6 L1259.9,1900.7 L1261.8,1903.9 L1263.7,1905.3 L1265.6,1906.3 L1267.5,1907.6 L1269.6,1904.2 L1271.7,1905.7 L1273.9,1906.1 L1276.0,1905.6 L1278.1,1907.7 L1280.2,1908.6 L1282.3,1905.7 L1284.5,1907.4 L1286.6,1909.5 L1288.7,1909.4 L1290.7,1908.4 L1292.6,1907.9 L1294.6,1910.1 L1296.5,1911.2 L1298.5,1913.1 L1300.5,1911.5 L1302.4,1912.7 L1304.4,1916.3 L1306.4,1913.3 L1308.3,1916.5 L1310.3,1915.2 L1312.2,1918.7 L1314.2,1918.2 L1316.3,1919.9 L1318.4,1916.7 L1320.6,1919.0 L1322.7,1916.1 L1324.8,1915.0 L1326.9,1914.9 L1329.1,1914.5 L1331.2,1915.4 L1333.3,1917.4 L1335.4,1914.6 L1337.6,1915.7 L1339.7,1912.7 L1341.8,1914.3 L1343.9,1914.4 L1346.1,1912.6 L1348.2,1914.5 L1350.3,1914.0 L1352.4,1913.5 L1354.6,1915.5 L1356.7,1915.0 L1358.8,1912.7 L1361.0,1912.6 L1363.1,1912.4 L1365.0,1914.0 L1367.0,1916.3 L1368.9,1918.4 L1370.8,1919.2 L1372.7,1919.5 L1374.7,1917.3 L1376.6,1920.8 L1378.5,1921.4 L1380.4,1921.0 L1382.4,1923.9 L1384.3,1923.1 L1386.4,1921.5 L1388.5,1922.3 L1390.7,1922.3 L1392.8,1924.6 L1394.9,1925.0 L1397.0,1926.3 L1399.2,1923.2 L1401.3,1923.6 L1403.4,1927.8 L1405.5,1925.3 L1407.7,1925.7 L1409.8,1928.5 L1411.9,1925.6 L1414.0,1928.5 L1416.2,1929.1 L1418.3,1927.9 L1420.4,1928.2 L1422.5,1926.0 L1424.7,1928.6 L1426.8,1928.7 L1428.9,1929.5 L1431.0,1928.7 L1433.2,1927.2 L1435.3,1927.8 L1437.4,1929.7 L1439.5,1927.2 L1441.7,1927.1 L1443.8,1927.5 L1445.9,1929.4 L1448.1,1928.2 L1450.2,1927.3 L1452.3,1929.5 L1454.4,1927.7 L1456.6,1926.2 L1458.7,1927.3 L1460.6,1927.7 L1462.5,1925.1 L1464.4,1924.6 L1466.3,1924.5 L1468.1,1925.4 L1470.0,1923.3 L1471.9,1920.7 L1473.8,1921.6 L1475.7,1919.9 L1477.4,1919.3 L1479.0,1919.1 L1480.7,1915.1 L1482.3,1915.9 L1484.0,1914.0 L1485.6,1913.9 L1487.3,1913.6 L1488.9,1911.0 L1490.6,1910.5 L1491.7,1907.5 L1492.7,1905.6 L1493.8,1904.9 L1494.8,1903.3 L1495.9,1900.4 L1497.0,1900.9 L1498.0,1898.1 L1499.1,1895.8 L1500.1,1893.7 L1501.2,1894.3 L1502.5,1893.0 L1503.8,1891.5 L1505.1,1887.1 L1506.4,1884.7 L1507.7,1885.3 L1509.0,1881.3 L1510.4,1883.0 L1511.7,1880.6 L1513.0,1877.6 L1514.3,1876.4 L1515.6,1875.7 L1516.9,1872.0 L1518.2,1871.2 L1519.1,1871.0 L1520.1,1868.7 L1521.0,1866.5 L1521.9,1862.7 L1522.9,1861.3 L1523.8,1859.6 L1524.7,1856.8 L1525.7,1857.4 L1526.6,1855.3 L1527.5,1854.8 L1528.4,1851.5 L1529.4,1851.1 L1530.3,1847.4 L1531.2,1845.8 L1532.2,1843.0 L1533.1,1841.9 L1533.9,1841.8 L1534.7,1838.0 L1535.5,1834.1 L1536.4,1833.6 L1537.2,1831.0 L1538.0,1830.7 L1538.8,1828.3 L1539.6,1826.2 L1540.4,1826.1 L1541.3,1823.4 L1542.1,1818.8 L1542.9,1816.6 L1543.7,1817.3 L1544.8,1815.2 L1545.8,1813.7 L1546.9,1811.4 L1547.9,1807.8 L1549.0,1807.8 L1550.1,1807.6 L1551.1,1805.0 L1552.2,1801.1 L1553.2,1799.7 L1554.3,1801.1 L1555.1,1797.7 L1555.8,1794.3 L1556.6,1794.5 L1557.4,1793.5 L1558.2,1791.3 L1558.9,1788.5 L1559.7,1787.2 L1560.5,1782.4 L1561.3,1781.9 L1562.0,1781.4 L1562.8,1777.6 L1563.5,1774.8 L1564.1,1775.8 L1564.8,1773.2 L1565.5,1768.5 L1566.1,1766.8 L1566.8,1766.8 L1567.4,1766.5 L1568.1,1763.2 L1568.8,1762.3 L1569.4,1757.2 L1570.1,1757.2 L1570.8,1753.7 L1571.4,1752.3 L1572.1,1749.7 L1572.7,1749.0 L1573.4,1745.4 L1574.0,1745.9 L1574.6,1743.9 L1575.2,1743.0 L1575.8,1740.6 L1576.4,1735.9 L1577.1,1737.1 L1577.7,1733.9 L1578.3,1733.6 L1578.9,1729.9 L1579.5,1726.3 L1580.1,1726.9 L1580.7,1722.8 L1581.3,1724.1 L1581.9,1720.4 L1582.5,1720.0 L1583.2,1716.4 L1583.8,1713.8 L1584.4,1713.2 L1585.0,1711.5 L1585.6,1708.6 L1586.2,1705.9 L1587.0,1704.5 L1587.7,1703.7 L1588.5,1699.8 L1589.2,1697.5 L1590.0,1696.9 L1590.7,1695.6 L1591.5,1691.3 L1592.3,1690.1 L1593.0,1690.9 L1593.8,1686.2 L1594.5,1686.2 L1595.3,1682.4 L1596.0,1679.5 L1596.8,1679.1 L1597.4,1678.8 L1598.1,1676.5 L1598.7,1671.6 L1599.4,1672.3 L1600.0,1670.1 L1600.6,1667.6 L1601.3,1666.4 L1601.9,1663.9 L1602.6,1660.7 L1603.2,1660.8 L1604.0,1656.7 L1604.9,1655.6 L1605.7,1655.9 L1606.6,1652.9 L1607.4,1650.8 L1608.3,1649.8 L1609.1,1647.1 L1610.0,1644.8 L1610.8,1643.6 L1611.7,1639.7 L1612.5,1639.2 L1613.4,1636.1 L1614.2,1638.1 L1615.1,1635.9 L1615.9,1633.0 L1617.3,1629.3 L1618.6,1630.4 L1620.0,1625.6 L1620.8,1627.6 L1621.6,1624.4 L1622.3,1622.1 L1623.1,1621.2 L1623.9,1615.7 L1624.7,1618.0 L1625.5,1613.8 L1626.3,1613.5 L1627.0,1612.2 L1627.8,1605.8 L1628.6,1605.0 L1630.1,1603.1 L1631.7,1599.4 L1633.2,1604.0 L1634.7,1601.0 L1636.2,1598.0 L1637.8,1596.9 L1639.3,1597.9 L1641.1,1592.6 L1643.0,1595.7 L1644.8,1599.2 L1646.7,1598.9 L1648.5,1599.6 L1650.4,1598.7 L1652.2,1599.3 L1654.0,1601.3 L1655.8,1597.3 L1657.6,1600.4 L1659.4,1598.7 L1661.2,1597.8 L1663.0,1591.1 L1664.2,1594.6 L1665.4,1593.1 L1666.6,1596.8 L1667.8,1596.3 L1668.9,1601.2 L1670.1,1606.3 L1671.3,1606.5 L1672.5,1605.2 L1673.7,1606.2 L1674.7,1609.3 L1675.7,1600.8 L1676.7,1604.9 L1677.7,1603.1 L1678.7,1595.3 L1679.7,1600.1 L1680.7,1595.9 L1681.8,1592.1 L1682.8,1590.5 L1683.8,1590.1 L1684.8,1587.6 L1685.8,1588.3 L1686.8,1586.6 L1687.8,1580.4 L1688.8,1576.2 L1691.0,1582.6 L1693.3,1582.3 L1695.5,1582.9 L1697.8,1579.1 L1700.0,1579.8 L1700.4,1582.5 L1700.8,1578.3 L1701.1,1576.6 L1701.5,1576.5 L1701.9,1571.3 L1702.3,1570.9 L1702.7,1566.5 L1703.0,1566.4 L1703.4,1565.1 L1703.8,1560.6 L1704.1,1565.1 L1704.4,1568.1 L1704.7,1569.6 L1705.0,1571.5 L1705.3,1574.2 L1705.5,1575.4 L1705.8,1576.8 L1706.1,1580.0 L1706.4,1582.0 L1706.7,1583.4 L1707.0,1585.7 L1709.4,1582.9 L1711.8,1584.5 L1714.3,1584.7 L1716.7,1589.1 L1718.9,1589.4 L1721.0,1586.5 L1723.2,1592.7 L1725.3,1586.5 L1727.5,1587.4 L1728.7,1591.1 L1729.9,1590.8 L1731.1,1599.1 L1732.3,1596.3 L1733.4,1598.2 L1734.6,1603.4 L1735.8,1602.6 L1737.0,1605.0 L1738.2,1605.2 L1739.1,1607.2 L1740.0,1612.8 L1740.9,1609.4 L1741.8,1613.1 L1742.7,1614.5 L1743.6,1613.7 L1744.5,1615.6 L1745.4,1620.1 L1746.3,1624.1 L1747.2,1623.1 L1748.1,1622.1 L1749.0,1630.5 L1749.8,1626.4 L1750.6,1633.6 L1751.3,1630.2 L1752.1,1636.0 L1752.9,1634.7 L1753.7,1637.4 L1754.5,1640.4 L1755.3,1644.5 L1756.0,1644.4 L1756.8,1646.2 L1757.6,1648.1 L1758.6,1650.7 L1759.5,1651.1 L1760.5,1657.3 L1761.4,1654.4 L1762.4,1655.9 L1763.3,1660.5 L1764.3,1661.1 L1765.2,1665.4 L1766.2,1663.0 L1767.2,1668.8 L1768.1,1668.5 L1769.1,1673.9 L1770.1,1671.6 L1771.1,1674.2 L1772.0,1675.3 L1773.0,1678.4 L1774.0,1678.5 L1775.0,1682.8 L1775.9,1682.9 L1776.9,1686.5 L1778.0,1685.6 L1779.1,1688.4 L1780.1,1690.7 L1781.2,1693.5 L1782.3,1694.8 L1783.4,1695.1 L1784.5,1694.6 L1785.5,1696.5 L1786.6,1698.4 L1787.7,1700.4 L1788.2,1702.5 L1788.7,1707.7 L1789.1,1707.7 L1789.6,1713.5 L1790.1,1711.3 L1790.6,1713.5 L1791.0,1715.2 L1791.5,1717.1 L1792.0,1722.7 L1792.8,1724.0 L1793.6,1723.8 L1794.3,1729.3 L1795.1,1730.4 L1795.9,1730.8 L1796.7,1733.9 L1797.5,1736.2 L1798.3,1736.8 L1799.0,1736.5 L1799.8,1740.2 L1800.6,1745.9 L1801.3,1744.1 L1802.0,1747.7 L1802.7,1746.1 L1803.4,1752.4 L1804.2,1754.9 L1804.9,1753.7 L1805.6,1755.6 L1806.3,1758.4 L1807.0,1758.6 L1807.8,1760.2 L1808.6,1761.6 L1809.4,1767.0 L1810.2,1767.8 L1811.1,1772.5 L1811.9,1774.4 L1812.7,1775.7 L1813.5,1778.0 L1814.5,1779.3 L1815.4,1776.0 L1816.4,1778.6 L1817.3,1785.9 L1818.3,1787.1 L1819.2,1787.4 L1820.2,1789.3 L1821.1,1790.1 L1822.1,1791.9 L1823.5,1791.8 L1825.0,1796.1 L1826.4,1796.0 L1827.8,1796.7 L1829.3,1803.2 L1830.7,1802.8 L1832.1,1805.6 L1833.6,1805.0 L1835.0,1807.8 L1836.4,1808.3 L1837.9,1812.2 L1839.3,1811.3 L1840.7,1815.1 L1842.2,1816.2 L1843.6,1816.5 L1845.0,1816.6 L1846.5,1820.8 L1847.9,1822.6 L1849.5,1825.8 L1851.1,1823.4 L1852.7,1824.7 L1854.3,1826.7 L1856.0,1831.1 L1857.6,1829.0 L1859.2,1832.8 L1860.8,1830.5 L1862.5,1832.1 L1864.2,1837.1 L1866.0,1837.2 L1867.7,1836.1 L1869.4,1839.6 L1871.1,1843.7 L1872.8,1841.7 L1874.6,1844.0 L1876.3,1844.4 L1878.0,1846.2 L1880.0,1844.2 L1881.9,1850.1 L1883.9,1849.0 L1885.8,1848.4 L1887.8,1848.8 L1889.7,1849.0 L1891.7,1854.3 L1893.6,1854.5 L1895.6,1852.5 L1897.5,1854.6 L1899.5,1855.1 L1901.6,1853.4 L1903.8,1852.9 L1905.9,1857.5 L1908.1,1854.5 L1910.2,1857.3 L1912.3,1854.5 L1914.5,1854.9 L1916.6,1856.2 L1918.8,1859.6 L1920.9,1859.8 L1923.1,1862.5 L1925.2,1860.9 L1927.4,1860.5 L1929.5,1857.9 L1931.7,1864.7 L1933.8,1861.6 L1936.0,1864.8 L1938.1,1859.1 L1940.2,1865.5 L1942.4,1863.2 L1944.6,1861.2 L1946.7,1862.7 L1948.9,1860.2 L1951.0,1864.0 L1953.2,1861.3 L1955.3,1864.9 L1957.5,1860.9 L1959.6,1864.8 L1961.8,1864.3 L1963.9,1865.0 L1966.1,1866.4 L1968.2,1861.0 L1970.4,1863.5 L1972.5,1860.9 L1974.7,1864.2 L1976.8,1863.3 L1979.0,1862.4 L1981.1,1860.7 L1983.2,1857.7 L1985.4,1862.2 L1987.6,1863.1 L1989.7,1863.4 L1991.9,1859.2 L1994.0,1863.3 L1996.2,1862.6 L1998.3,1864.3 L2000.5,1864.4 L2002.6,1862.2 L2004.8,1862.2 L2006.9,1865.6 L2008.9,1864.4 L2010.9,1863.4 L2012.9,1865.8 L2014.9,1859.2 L2016.9,1858.9 L2018.9,1862.2 L2021.0,1859.2 L2023.0,1864.7 L2025.0,1858.9 L2027.0,1864.7 L2029.0,1859.6 L2031.0,1858.7 L2033.0,1863.3 L2035.0,1861.2" fill="none" stroke="#1466e6" stroke-width="7.0" stroke-linejoin="round" stroke-linecap="butt" clip-path="url(#clipDbot)" />
<path d="M1229.2,2048.0 L1231.3,2048.8 L1233.5,2048.9 L1235.6,2049.7 L1237.7,2050.2 L1239.8,2051.3 L1242.0,2051.2 L1244.1,2051.8 L1246.2,2052.2 L1248.2,2052.1 L1250.2,2052.5 L1252.3,2051.6 L1254.3,2052.4 L1256.3,2052.6 L1258.3,2052.4 L1260.4,2052.0 L1262.4,2051.7 L1264.4,2051.3 L1266.4,2051.2 L1268.5,2051.8 L1270.5,2052.2 L1272.5,2052.1 L1274.5,2051.1 L1276.6,2051.9 L1278.6,2051.9 L1280.6,2051.4 L1282.6,2051.9 L1284.7,2050.9 L1286.7,2051.0 L1288.7,2051.2 L1290.8,2051.5 L1292.8,2051.1 L1294.9,2050.8 L1296.9,2051.6 L1299.0,2050.9 L1301.0,2050.9 L1303.1,2050.6 L1305.2,2050.9 L1307.2,2051.2 L1309.3,2050.7 L1311.3,2051.1 L1313.4,2050.8 L1315.5,2050.1 L1317.5,2051.4 L1319.6,2050.4 L1321.6,2050.7 L1323.7,2051.3 L1325.7,2050.2 L1327.8,2050.0 L1329.9,2050.1 L1331.9,2050.0 L1334.0,2051.0 L1336.0,2050.5 L1338.1,2049.8 L1340.2,2050.1 L1342.2,2050.4 L1344.3,2049.9 L1346.3,2050.0 L1348.4,2050.8 L1350.4,2050.2 L1352.5,2049.8 L1354.6,2050.3 L1356.6,2049.6 L1358.7,2050.1 L1360.7,2050.3 L1362.8,2049.4 L1364.8,2050.1 L1366.9,2049.7 L1368.9,2050.3 L1371.0,2050.0 L1373.0,2050.4 L1375.1,2050.0 L1377.2,2049.3 L1379.2,2049.3 L1381.3,2050.0 L1383.3,2050.1 L1385.4,2049.0 L1387.4,2049.5 L1389.5,2049.3 L1391.5,2049.5 L1393.6,2050.0 L1395.7,2049.5 L1397.7,2049.8 L1399.8,2049.8 L1401.8,2049.0 L1403.9,2049.5 L1405.9,2049.1 L1408.0,2049.2 L1410.0,2049.2 L1412.1,2049.4 L1414.1,2048.7 L1416.2,2049.6 L1418.3,2048.6 L1420.3,2048.8 L1422.4,2049.5 L1424.4,2049.6 L1426.5,2048.7 L1428.5,2049.5 L1430.6,2048.2 L1432.7,2049.5 L1434.7,2048.4 L1436.8,2048.1 L1438.8,2049.1 L1440.9,2048.2 L1443.0,2049.0 L1445.0,2047.9 L1447.1,2048.0 L1449.1,2048.3 L1451.2,2047.9 L1453.2,2048.4 L1455.3,2048.2 L1457.4,2048.7 L1459.4,2048.3 L1461.5,2049.0 L1463.5,2048.8 L1465.6,2047.8 L1467.7,2048.8 L1469.7,2048.7 L1471.8,2048.2 L1473.8,2048.1 L1475.9,2047.6 L1477.9,2047.8 L1480.0,2047.6 L1482.1,2047.5 L1484.1,2048.0 L1486.2,2047.6 L1488.2,2048.1 L1490.3,2047.8 L1492.3,2048.1 L1494.4,2046.9 L1496.4,2047.9 L1498.5,2047.4 L1500.5,2047.5 L1502.6,2046.9 L1504.7,2047.5 L1506.7,2047.0 L1508.8,2047.4 L1510.8,2047.1 L1512.9,2046.4 L1514.9,2046.6 L1517.0,2047.1 L1519.0,2046.0 L1521.1,2046.8 L1523.2,2046.6 L1525.2,2046.8 L1527.3,2046.2 L1529.3,2046.3 L1531.4,2046.3 L1533.4,2046.6 L1535.5,2045.6 L1537.5,2046.1 L1539.6,2045.7 L1541.6,2046.1 L1543.7,2045.6 L1545.7,2045.4 L1547.7,2045.3 L1549.8,2046.2 L1551.8,2045.3 L1553.8,2045.9 L1555.8,2045.6 L1557.9,2044.9 L1559.9,2045.2 L1561.9,2044.3 L1563.9,2045.5 L1566.0,2045.0 L1568.0,2044.2 L1570.0,2044.6 L1572.0,2044.5 L1574.1,2044.6 L1576.1,2044.0 L1578.1,2044.8 L1580.1,2044.3 L1582.2,2043.4 L1584.2,2044.3 L1586.2,2044.3 L1588.3,2043.5 L1590.4,2044.1 L1592.5,2044.3 L1594.7,2044.4 L1596.8,2043.2 L1598.9,2044.3 L1601.0,2043.5 L1603.1,2044.3 L1605.2,2044.1 L1607.3,2043.8 L1609.4,2044.4 L1611.5,2044.3 L1613.7,2044.6 L1615.8,2044.5 L1617.9,2044.0 L1620.0,2044.2 L1622.2,2043.7 L1624.3,2042.9 L1626.5,2042.6 L1628.6,2042.2 L1630.8,2041.4 L1632.9,2041.0 L1635.0,2041.4 L1637.2,2040.9 L1639.3,2040.3 L1641.5,2039.9 L1643.5,2039.1 L1645.4,2038.7 L1647.4,2038.4 L1649.3,2037.0 L1651.3,2037.1 L1653.2,2037.4 L1655.2,2035.8 L1657.1,2035.7 L1659.1,2034.7 L1661.0,2034.4 L1663.0,2034.8 L1665.0,2032.8 L1666.9,2033.0 L1668.9,2032.1 L1670.8,2031.3 L1672.8,2029.6 L1674.7,2029.6 L1676.7,2027.9 L1678.6,2027.2 L1680.6,2027.0 L1682.5,2025.5 L1684.5,2024.9 L1686.5,2023.3 L1688.4,2022.3 L1690.4,2021.9 L1692.3,2020.9 L1694.3,2021.1 L1696.2,2019.6 L1698.2,2019.8 L1700.1,2018.6 L1702.1,2017.1 L1704.0,2017.1 L1706.0,2015.7 L1708.0,2015.3 L1709.9,2013.8 L1711.9,2014.1 L1713.8,2013.3 L1715.8,2012.2 L1717.7,2011.6 L1719.7,2010.3 L1721.6,2009.2 L1723.6,2008.7 L1725.5,2008.5 L1727.5,2007.5 L1729.5,2006.3 L1731.4,2005.9 L1733.4,2005.6 L1735.3,2004.4 L1737.3,2003.9 L1739.2,2003.8 L1741.2,2002.8 L1743.1,2003.3 L1745.1,2001.6 L1747.0,2001.9 L1749.0,2001.4 L1751.2,2001.0 L1753.3,2001.5 L1755.5,2002.3 L1757.6,2002.0 L1759.8,2001.9 L1761.9,2002.9 L1764.0,2002.1 L1766.2,2003.3 L1768.3,2002.6 L1770.5,2003.0 L1772.3,2001.8 L1774.1,2001.1 L1775.8,2000.4 L1777.6,1999.0 L1779.4,1997.2 L1781.2,1997.3 L1783.0,1998.3 L1784.8,1999.5 L1786.6,2001.4 L1788.4,2001.8 L1790.2,2003.9 L1792.0,2005.6 L1793.8,2007.0 L1795.6,2008.3 L1797.3,2008.9 L1799.1,2010.9 L1800.9,2012.0 L1802.7,2014.0 L1804.4,2014.9 L1806.1,2016.1 L1807.7,2017.5 L1809.4,2018.7 L1811.1,2020.3 L1812.8,2020.7 L1814.4,2021.9 L1816.1,2023.0 L1817.8,2024.1 L1820.0,2025.6 L1822.1,2026.3 L1824.2,2025.7 L1826.4,2026.6 L1828.5,2027.9 L1830.7,2028.3 L1832.8,2029.0 L1835.0,2029.6 L1837.2,2028.9 L1839.3,2028.9 L1841.5,2029.5 L1843.6,2030.2 L1845.8,2029.8 L1847.9,2030.5 L1850.0,2031.1 L1852.2,2031.7 L1854.3,2031.3 L1856.5,2031.6 L1858.7,2032.3 L1860.8,2032.4 L1863.0,2032.9 L1865.1,2033.3 L1867.2,2034.7 L1869.4,2035.2 L1871.5,2034.5 L1873.7,2036.0 L1875.8,2036.5 L1878.0,2036.6 L1880.0,2036.2 L1882.1,2037.1 L1884.1,2036.1 L1886.2,2036.2 L1888.2,2037.6 L1890.3,2036.6 L1892.3,2037.7 L1894.3,2037.6 L1896.4,2036.7 L1898.4,2036.9 L1900.5,2037.8 L1902.5,2037.2 L1904.6,2038.0 L1906.6,2038.1 L1908.6,2037.6 L1910.7,2038.0 L1912.7,2037.8 L1914.8,2038.8 L1916.8,2038.6 L1918.9,2038.8 L1920.9,2038.8 L1922.9,2038.1 L1925.0,2039.3 L1927.0,2039.3 L1929.1,2039.0 L1931.1,2039.2 L1933.2,2039.2 L1935.2,2039.7 L1937.3,2039.4 L1939.3,2039.2 L1941.4,2039.6 L1943.4,2039.3 L1945.5,2039.1 L1947.5,2039.9 L1949.6,2040.5 L1951.6,2040.4 L1953.7,2039.8 L1955.7,2040.3 L1957.8,2040.5 L1959.8,2040.6 L1961.9,2040.5 L1963.9,2040.7 L1965.9,2041.0 L1968.0,2041.3 L1970.0,2040.8 L1972.0,2041.2 L1974.1,2041.1 L1976.1,2040.4 L1978.1,2040.6 L1980.2,2040.7 L1982.2,2040.8 L1984.2,2041.0 L1986.2,2040.8 L1988.3,2041.8 L1990.3,2041.4 L1992.3,2041.0 L1994.4,2041.5 L1996.4,2041.8 L1998.4,2040.8 L2000.5,2041.4 L2002.5,2041.9 L2004.5,2041.2 L2006.6,2041.9 L2008.6,2041.8 L2010.6,2041.2 L2012.7,2041.0 L2014.7,2041.9 L2016.7,2041.4 L2018.7,2041.3 L2020.8,2041.5 L2022.8,2041.9 L2024.8,2042.2 L2026.9,2042.3 L2028.9,2042.1 L2030.9,2041.3 L2033.0,2041.6 L2035.0,2041.8" fill="none" stroke="#a61ed3" stroke-width="7.0" stroke-linejoin="round" stroke-linecap="butt" clip-path="url(#clipDbot)" />
<line x1="594.4" y1="1097.7" x2="590.3" y2="2091.0" stroke="#a91cd9" stroke-width="5.5" stroke-dasharray="19.0 6.95" stroke-dashoffset="0"/>
<line x1="616.2" y1="1213.5" x2="616.2" y2="2091.0" stroke="#0f7a36" stroke-width="4.6" stroke-dasharray="19.0 6.95" stroke-dashoffset="0"/>
<line x1="688.4" y1="1268.7" x2="690.8" y2="2091.0" stroke="#ff0a36" stroke-width="7.0" stroke-dasharray="20.0 5.95" stroke-dashoffset="0"/>
<line x1="1661.9" y1="1049.0" x2="1661.9" y2="2082.0" stroke="#0f7a36" stroke-width="4.6" stroke-dasharray="19.5 6.45" stroke-dashoffset="23.7"/>
<line x1="1716.7" y1="1178.0" x2="1724.3" y2="2090.5" stroke="#ff0a36" stroke-width="7.0" stroke-dasharray="20.0 5.95" stroke-dashoffset="0.6"/>
<rect x="184" y="145.5" width="810.5" height="1945.5" fill="none" stroke="#111" stroke-width="3.8"/>
<line x1="184.0" y1="794.3" x2="994.5" y2="794.3" stroke="#111" stroke-width="3.8" />
<rect x="1227" y="145.5" width="809" height="1945.0" fill="none" stroke="#111" stroke-width="3.8"/>
<line x1="1227.0" y1="795.0" x2="2036.0" y2="795.0" stroke="#111" stroke-width="3.8" />
<rect x="2083.5" y="822" width="263.0" height="594" fill="#fff" stroke="#111" stroke-width="4"/>
<line x1="2124.0" y1="885.3" x2="2221.0" y2="885.3" stroke="#a61ed3" stroke-width="7.5" />
<line x1="2124.0" y1="977.5" x2="2221.0" y2="977.5" stroke="#1466e6" stroke-width="7.5" />
<line x1="2124.0" y1="1067.2" x2="2221.0" y2="1067.2" stroke="#c68700" stroke-width="7.5" />
<line x1="2124.0" y1="1159.0" x2="2221.0" y2="1159.0" stroke="#ff0a3a" stroke-width="7.5" />
<line x1="2124.0" y1="1251.2" x2="2221.0" y2="1251.2" stroke="#2a8049" stroke-width="7.5" />
<line x1="2124.0" y1="1341.0" x2="2221.0" y2="1341.0" stroke="#636363" stroke-width="7.5" />
<text transform="translate(150.01,2147.37) scale(0.9060,1)" font-size="64.17" fill="#000" ><tspan font-weight="bold" font-style="normal">300</tspan></text>
<text transform="translate(1193.01,2147.37) scale(0.9060,1)" font-size="64.17" fill="#000" ><tspan font-weight="bold" font-style="normal">300</tspan></text>
<text transform="translate(301.52,2147.37) scale(0.8910,1)" font-size="64.17" fill="#000" ><tspan font-weight="bold" font-style="normal">400</tspan></text>
<text transform="translate(1344.17,2147.37) scale(0.8910,1)" font-size="64.17" fill="#000" ><tspan font-weight="bold" font-style="normal">400</tspan></text>
<text transform="translate(450.07,2147.37) scale(0.9075,1)" font-size="64.17" fill="#000" ><tspan font-weight="bold" font-style="normal">500</tspan></text>
<text transform="translate(1492.37,2147.37) scale(0.9075,1)" font-size="64.17" fill="#000" ><tspan font-weight="bold" font-style="normal">500</tspan></text>
<text transform="translate(600.52,2147.37) scale(0.9038,1)" font-size="64.17" fill="#000" ><tspan font-weight="bold" font-style="normal">600</tspan></text>
<text transform="translate(1642.47,2147.37) scale(0.9038,1)" font-size="64.17" fill="#000" ><tspan font-weight="bold" font-style="normal">600</tspan></text>
<text transform="translate(749.23,2147.37) scale(0.9186,1)" font-size="64.17" fill="#000" ><tspan font-weight="bold" font-style="normal">700</tspan></text>
<text transform="translate(1790.83,2147.37) scale(0.9186,1)" font-size="64.17" fill="#000" ><tspan font-weight="bold" font-style="normal">700</tspan></text>
<text transform="translate(900.78,2147.37) scale(0.9032,1)" font-size="64.17" fill="#000" ><tspan font-weight="bold" font-style="normal">800</tspan></text>
<text transform="translate(1942.03,2147.37) scale(0.9032,1)" font-size="64.17" fill="#000" ><tspan font-weight="bold" font-style="normal">800</tspan></text>
<text transform="translate(86.07,247.48) scale(0.9148,1)" font-size="63.13" fill="#000" ><tspan font-weight="bold" font-style="normal">250</tspan></text>
<text transform="translate(86.07,359.38) scale(0.9148,1)" font-size="63.13" fill="#000" ><tspan font-weight="bold" font-style="normal">200</tspan></text>
<text transform="translate(83.75,471.38) scale(0.9400,1)" font-size="63.13" fill="#000" ><tspan font-weight="bold" font-style="normal">150</tspan></text>
<text transform="translate(83.75,583.38) scale(0.9400,1)" font-size="63.13" fill="#000" ><tspan font-weight="bold" font-style="normal">100</tspan></text>
<text transform="translate(111.55,695.38) scale(0.9708,1)" font-size="63.13" fill="#000" ><tspan font-weight="bold" font-style="normal">50</tspan></text>
<text transform="translate(142.71,807.18) scale(0.9531,1)" font-size="63.13" fill="#000" ><tspan font-weight="bold" font-style="normal">0</tspan></text>
<text transform="translate(1126.75,287.18) scale(0.9400,1)" font-size="63.13" fill="#000" ><tspan font-weight="bold" font-style="normal">150</tspan></text>
<text transform="translate(1126.75,460.78) scale(0.9400,1)" font-size="63.13" fill="#000" ><tspan font-weight="bold" font-style="normal">100</tspan></text>
<text transform="translate(1154.55,634.38) scale(0.9708,1)" font-size="63.13" fill="#000" ><tspan font-weight="bold" font-style="normal">50</tspan></text>
<text transform="translate(1185.71,807.88) scale(0.9531,1)" font-size="63.13" fill="#000" ><tspan font-weight="bold" font-style="normal">0</tspan></text>
<text transform="translate(374.89,2220.04) scale(0.9292,1)" font-size="62.75" fill="#000" ><tspan font-weight="bold" font-style="normal">Temperature (K)</tspan></text>
<text transform="translate(1417.89,2220.04) scale(0.9292,1)" font-size="62.75" fill="#000" ><tspan font-weight="bold" font-style="normal">Temperature (K)</tspan></text>
<text transform="translate(52.16,566.94) rotate(-90) scale(1.1394,1)" font-size="58.17" fill="#000" ><tspan font-weight="normal" font-style="italic">μ</tspan><tspan font-weight="bold" font-style="normal">mol/g</tspan></text>
<text transform="translate(86.02,1638.48) rotate(-90) scale(1.1177,1)" font-size="57.82" fill="#000" ><tspan font-weight="bold" font-style="normal">Intensity (a.u)</tspan></text>
<g clip-path="url(#clipDlab)"><text transform="translate(1128.22,1638.48) rotate(-90) scale(1.1177,1)" font-size="57.82" fill="#000" ><tspan font-weight="bold" font-style="normal">Intensity (a.u)</tspan></text></g>
<text transform="translate(182.98,87.74) scale(1.0992,1)" font-size="91.43" fill="#000" ><tspan font-weight="bold" font-style="normal">(c)</tspan></text>
<text transform="translate(1271.45,76.38) scale(1.0687,1)" font-size="92.64" fill="#000" ><tspan font-weight="bold" font-style="normal">(d)</tspan></text>
<text transform="translate(829.55,1240.29) scale(1.0216,1)" font-size="58.75" fill="#5c5c5c" ><tspan font-weight="bold" font-style="normal">×</tspan></text>
<text transform="translate(878.40,1237.40) scale(1.0767,1)" font-size="63.46" fill="#5c5c5c" ><tspan font-weight="bold" font-style="normal">0.5</tspan></text>
<text transform="translate(827.06,2004.44) scale(1.0652,1)" font-size="59.95" fill="#a620d6" ><tspan font-weight="bold" font-style="normal">×</tspan></text>
<text transform="translate(875.32,2001.23) scale(1.1511,1)" font-size="61.10" fill="#a620d6" ><tspan font-weight="bold" font-style="normal">0.1</tspan></text>
<text transform="translate(1872.88,1271.70) scale(1.0012,1)" font-size="62.11" fill="#5c5c5c" ><tspan font-weight="bold" font-style="normal">×</tspan></text>
<text transform="translate(1922.01,1267.79) scale(1.0628,1)" font-size="64.05" fill="#5c5c5c" ><tspan font-weight="bold" font-style="normal">0.5</tspan></text>
<text transform="translate(1872.88,2020.47) scale(1.0051,1)" font-size="61.87" fill="#a620d6" ><tspan font-weight="bold" font-style="normal">×</tspan></text>
<text transform="translate(1922.78,2015.83) scale(1.1271,1)" font-size="61.10" fill="#a620d6" ><tspan font-weight="bold" font-style="normal">0.1</tspan></text>
<text transform="translate(2235.04,909.20) scale(1.0223,1)" font-size="64.34" fill="#000" ><tspan font-weight="bold" font-style="normal">2</tspan></text>
<text transform="translate(2233.79,998.00) scale(1.0069,1)" font-size="62.11" fill="#000" ><tspan font-weight="bold" font-style="normal">17</tspan></text>
<text transform="translate(2235.91,1090.10) scale(0.9303,1)" font-size="62.11" fill="#000" ><tspan font-weight="bold" font-style="normal">41</tspan></text>
<text transform="translate(2235.87,1182.20) scale(0.9833,1)" font-size="61.77" fill="#000" ><tspan font-weight="bold" font-style="normal">42</tspan></text>
<text transform="translate(2235.89,1270.43) scale(1.0181,1)" font-size="58.49" fill="#000" ><tspan font-weight="bold" font-style="normal">43</tspan></text>
<text transform="translate(2235.89,1363.10) scale(0.9528,1)" font-size="62.14" fill="#000" ><tspan font-weight="bold" font-style="normal">44</tspan></text>
</svg></body></html>
